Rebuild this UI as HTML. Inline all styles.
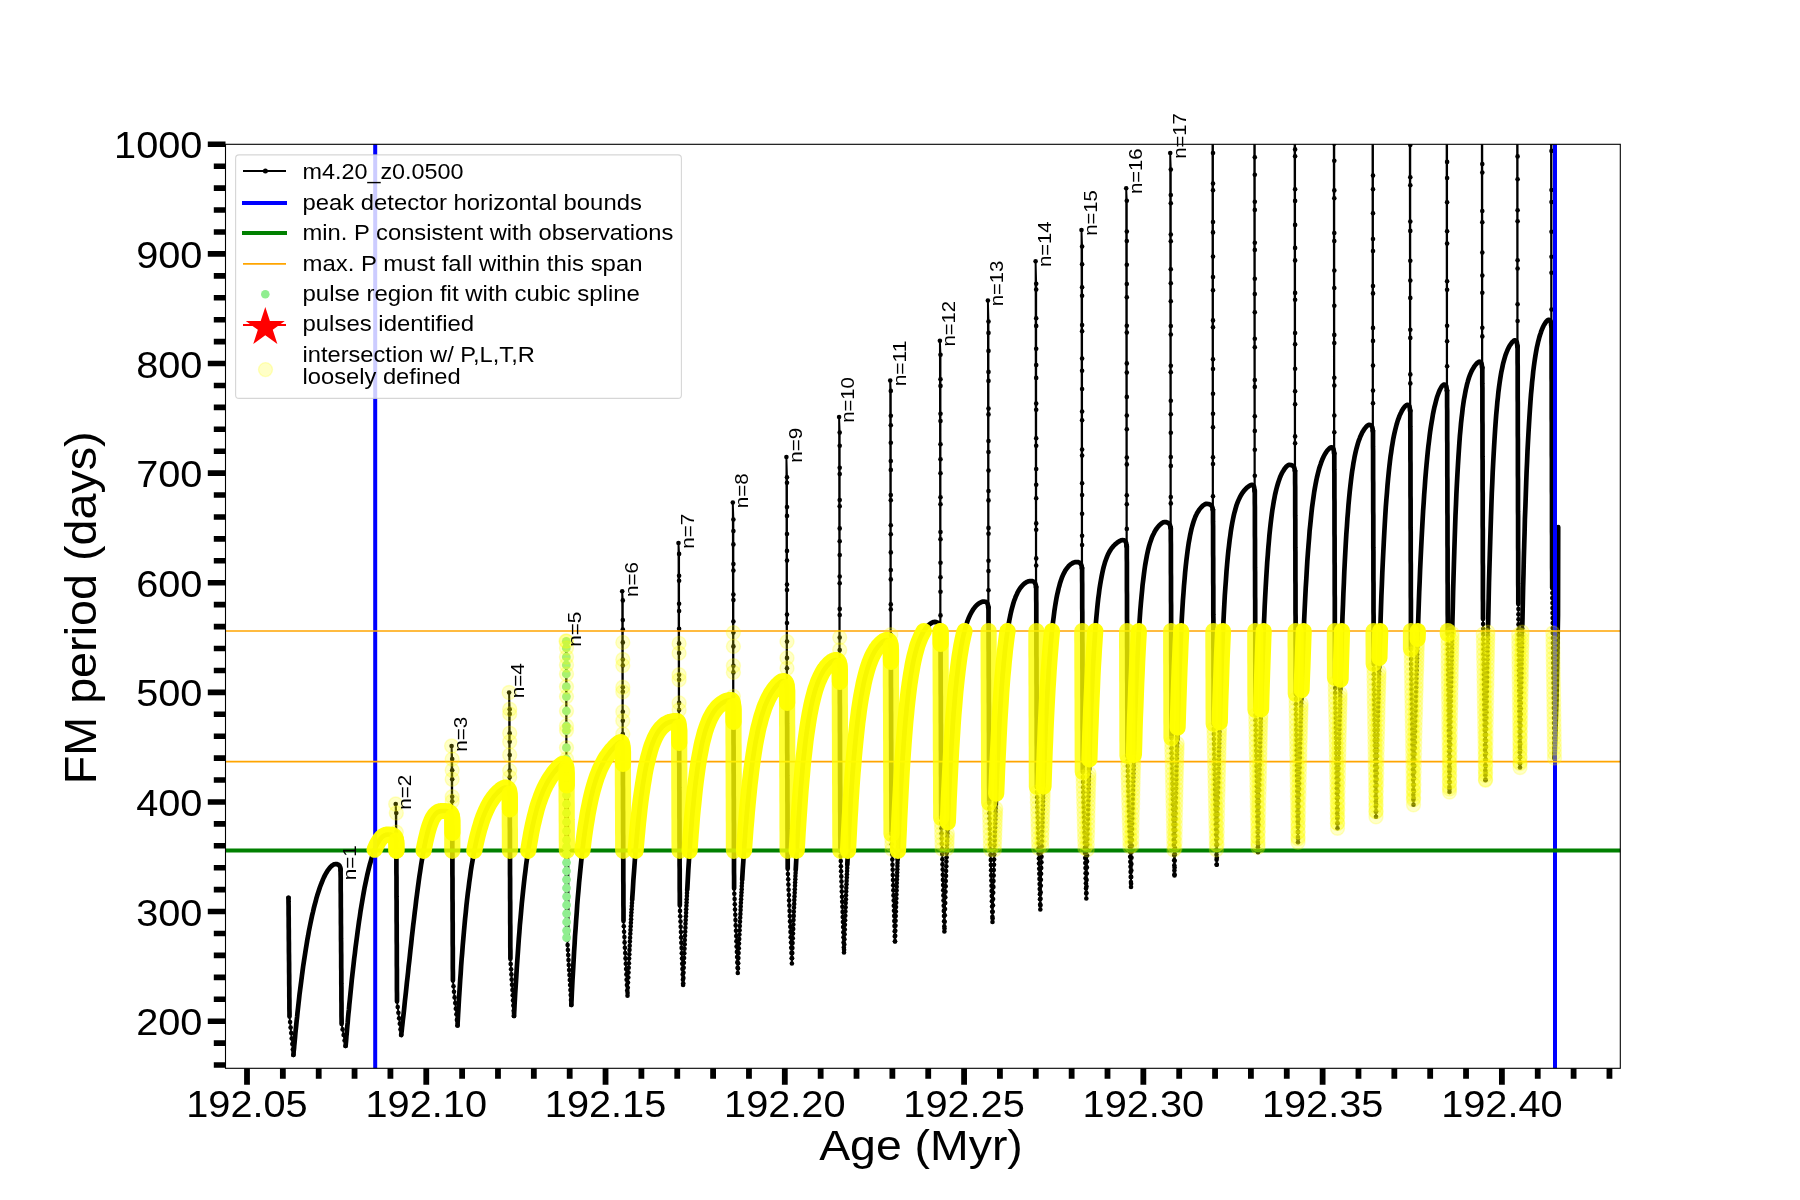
<!DOCTYPE html><html><head><meta charset="utf-8"><style>html,body{margin:0;padding:0;background:#fff;}svg{display:block;font-family:"Liberation Sans",sans-serif;will-change:transform;}</style></head><body><svg width="1800" height="1200" viewBox="0 0 1800 1200">
<rect width="1800" height="1200" fill="#fff"/>
<defs><clipPath id="ax"><rect x="225.5" y="144.3" width="1394.80" height="924.00"/></clipPath></defs>
<g clip-path="url(#ax)">
<path d="M288.5,897.8 288.5,901.9 288.6,906.0 288.6,910.1 288.6,914.2 288.7,918.3 288.7,922.4 288.7,926.5 288.8,930.6 288.8,934.7 288.8,938.8 288.9,942.9 288.9,947.0 288.9,951.1 289.0,955.2 289.0,959.2 289.1,963.3 289.1,967.4 289.1,971.5 289.2,975.6 289.2,979.7 289.2,983.8 289.3,987.9 289.3,992.0 289.3,996.1 289.4,1000.2 289.4,1004.3 289.4,1008.4 289.5,1012.5 289.5,1016.6 290.1,1022.1 290.6,1027.6 291.2,1033.1 291.7,1038.5 292.3,1044.0 292.8,1049.5 293.4,1055.0 293.5,1054.3 293.6,1052.9 293.7,1051.1 294.0,1048.8 294.2,1046.2 294.5,1043.3 294.8,1040.1 295.1,1036.7 295.4,1033.1 295.8,1029.3 296.2,1025.4 296.6,1021.3 297.1,1017.0 297.5,1012.7 298.0,1008.3 298.5,1003.8 299.0,999.2 299.5,994.6 300.1,990.0 300.7,985.4 301.3,980.7 301.9,976.0 302.5,971.4 303.1,966.8 303.8,962.2 304.5,957.6 305.2,953.1 305.9,948.7 306.6,944.3 307.3,940.0 308.1,935.8 308.8,931.6 309.6,927.6 310.4,923.6 311.2,919.7 312.0,915.9 312.9,912.3 313.7,908.7 314.6,905.2 315.5,901.9 316.3,898.7 317.2,895.6 318.2,892.6 319.1,889.8 320.0,887.0 321.0,884.4 322.0,882.0 322.9,879.6 323.9,877.4 324.9,875.4 325.9,873.5 327.0,871.7 328.0,870.1 329.1,868.7 330.1,867.4 331.2,866.3 332.3,865.4 333.4,864.7 334.5,864.2 335.6,864.0 337.1,864.2 338.4,864.7 339.4,865.5 340.0,866.7 340.5,868.2 340.6,870.0 340.6,874.0 340.7,878.1 340.7,882.1 340.7,886.2 340.7,890.2 340.8,894.3 340.8,898.4 340.8,902.4 340.8,906.5 340.9,910.5 340.9,914.5 340.9,918.6 340.9,922.6 341.0,926.7 341.0,930.8 341.0,934.8 341.0,938.9 341.1,942.9 341.1,947.0 341.1,951.0 341.2,955.0 341.2,959.1 341.2,963.1 341.2,967.2 341.3,971.2 341.3,975.3 341.3,979.4 341.3,983.4 341.4,987.5 341.4,991.5 341.4,995.5 341.4,999.6 341.5,1003.6 341.5,1007.7 341.5,1011.8 341.5,1015.8 341.6,1019.9 341.6,1023.9 342.6,1029.4 343.6,1035.0 344.6,1040.5 345.6,1046.0 345.7,1045.3 345.8,1043.8 346.0,1041.8 346.2,1039.4 346.4,1036.6 346.7,1033.5 347.0,1030.1 347.3,1026.4 347.7,1022.5 348.0,1018.3 348.4,1014.0 348.9,1009.5 349.3,1004.8 349.8,1000.0 350.3,995.1 350.8,990.1 351.3,985.0 351.8,979.8 352.4,974.5 353.0,969.2 353.6,963.9 354.2,958.5 354.9,953.2 355.5,947.8 356.2,942.5 356.9,937.2 357.6,931.9 358.3,926.7 359.0,921.6 359.8,916.5 360.5,911.5 361.3,906.6 362.1,901.8 362.9,897.1 363.7,892.5 364.5,888.1 365.4,883.8 366.3,879.6 367.1,875.6 368.0,871.8 368.9,868.1 369.8,864.5 370.8,861.2 371.7,858.0 372.7,855.1 373.6,852.3 374.6,849.7 375.6,847.3 376.6,845.1 377.6,843.2 378.7,841.4 379.7,839.8 380.8,838.5 381.8,837.3 382.9,836.4 384.0,835.6 385.1,835.1 386.2,834.7 387.4,834.5 388.5,834.5 390.8,834.7 392.7,835.2 394.1,836.0 395.2,837.2 395.8,838.7 396.0,840.5 395.7,804.0 396.3,813.0 396.3,832.1 396.3,840.5 396.3,844.5 396.3,848.5 396.4,852.6 396.4,856.6 396.4,860.6 396.4,864.6 396.4,868.7 396.4,872.7 396.5,876.7 396.5,880.8 396.5,884.8 396.5,888.8 396.5,892.8 396.5,896.9 396.6,900.9 396.6,904.9 396.6,908.9 396.6,913.0 396.6,917.0 396.6,921.0 396.7,925.0 396.7,929.0 396.7,933.1 396.7,937.1 396.7,941.1 396.8,945.1 396.8,949.2 396.8,953.2 396.8,957.2 396.8,961.2 396.8,965.3 396.9,969.3 396.9,973.3 396.9,977.4 396.9,981.4 396.9,985.4 396.9,989.4 397.0,993.5 397.0,997.5 397.0,1001.5 397.7,1007.1 398.4,1012.7 399.1,1018.2 399.8,1023.8 400.5,1029.4 401.2,1035.0 401.3,1034.5 401.4,1033.3 401.6,1031.8 401.8,1030.0 402.0,1027.8 402.3,1025.3 402.6,1022.6 402.9,1019.6 403.3,1016.4 403.7,1012.9 404.1,1009.2 404.5,1005.3 404.9,1001.1 405.4,996.7 405.9,992.2 406.4,987.4 406.9,982.5 407.5,977.4 408.1,972.1 408.6,966.6 409.3,961.0 409.9,955.3 410.5,949.5 411.2,943.5 411.8,937.5 412.5,931.4 413.2,925.2 414.0,919.0 414.7,912.8 415.5,906.5 416.2,900.3 417.0,894.2 417.8,888.1 418.6,882.1 419.4,876.3 420.3,870.5 421.1,865.0 422.0,859.6 422.9,854.5 423.8,849.5 424.7,844.9 425.6,840.5 426.6,836.4 427.5,832.6 428.5,829.1 429.4,826.0 430.4,823.2 431.4,820.7 432.4,818.5 433.5,816.7 434.5,815.2 435.6,813.9 436.6,813.0 437.7,812.2 438.8,811.7 439.9,811.3 441.0,811.1 442.1,811.0 443.3,811.0 444.4,811.0 446.7,811.2 448.6,811.7 450.0,812.5 451.1,813.7 451.7,815.2 451.9,817.0 451.6,746.0 452.2,759.1 452.2,770.2 452.2,779.3 452.2,796.7 452.2,801.2 452.2,817.0 452.2,821.1 452.2,825.2 452.3,829.3 452.3,833.4 452.3,837.5 452.3,841.5 452.3,845.6 452.3,849.7 452.4,853.8 452.4,857.9 452.4,862.0 452.4,866.1 452.4,870.2 452.4,874.3 452.5,878.4 452.5,882.4 452.5,886.5 452.5,890.6 452.5,894.7 452.5,898.8 452.6,902.9 452.6,907.0 452.6,911.1 452.6,915.2 452.6,919.2 452.7,923.3 452.7,927.4 452.7,931.5 452.7,935.6 452.7,939.7 452.7,943.8 452.8,947.9 452.8,952.0 452.8,956.1 452.8,960.2 452.8,964.2 452.8,968.3 452.9,972.4 452.9,976.5 452.9,980.6 453.5,986.2 454.0,991.8 454.6,997.4 455.2,1003.0 455.8,1008.7 456.4,1014.3 456.9,1019.9 457.5,1025.5 457.6,1024.2 457.7,1021.7 457.9,1018.2 458.1,1014.1 458.4,1009.3 458.7,1004.1 459.0,998.5 459.4,992.5 459.8,986.3 460.2,979.8 460.7,973.2 461.1,966.4 461.6,959.6 462.2,952.7 462.7,945.8 463.3,939.0 463.9,932.1 464.5,925.4 465.1,918.8 465.8,912.2 466.4,905.8 467.1,899.6 467.8,893.5 468.6,887.6 469.3,881.9 470.1,876.3 470.8,871.0 471.6,865.8 472.5,860.9 473.3,856.1 474.2,851.6 475.0,847.2 475.9,843.1 476.8,839.1 477.7,835.3 478.7,831.7 479.6,828.3 480.6,825.1 481.5,822.0 482.5,819.1 483.5,816.3 484.6,813.7 485.6,811.3 486.7,809.0 487.7,806.8 488.8,804.7 489.9,802.8 491.0,801.0 492.1,799.3 493.3,797.7 494.4,796.2 495.6,794.8 496.8,793.5 498.0,792.2 499.2,791.1 500.4,790.1 501.6,789.2 502.9,788.4 504.1,787.8 505.4,787.5 506.6,787.7 507.6,788.2 508.4,789.0 509.0,790.2 509.3,791.7 509.4,793.5 509.1,692.5 509.7,709.3 509.7,713.9 509.7,733.2 509.7,741.8 509.7,755.0 509.7,770.6 509.7,777.3 509.7,793.5 509.7,797.5 509.7,801.6 509.8,805.6 509.8,809.6 509.8,813.7 509.8,817.7 509.8,821.7 509.8,825.8 509.9,829.8 509.9,833.8 509.9,837.8 509.9,841.9 509.9,845.9 509.9,849.9 510.0,854.0 510.0,858.0 510.0,862.0 510.0,866.1 510.0,870.1 510.0,874.1 510.1,878.2 510.1,882.2 510.1,886.2 510.1,890.3 510.1,894.3 510.1,898.3 510.2,902.4 510.2,906.4 510.2,910.4 510.2,914.5 510.2,918.5 510.2,922.5 510.3,926.5 510.3,930.6 510.3,934.6 510.3,938.6 510.3,942.7 510.3,946.7 510.4,950.7 510.4,954.8 510.4,958.8 510.7,964.0 511.1,969.2 511.4,974.4 511.7,979.6 512.0,984.8 512.4,990.0 512.7,995.2 513.0,1000.4 513.3,1005.6 513.7,1010.8 514.0,1016.0 514.1,1014.7 514.2,1011.9 514.4,1008.3 514.6,1003.9 514.9,998.9 515.2,993.3 515.6,987.4 516.0,981.1 516.4,974.5 516.8,967.7 517.3,960.7 517.8,953.6 518.3,946.4 518.8,939.1 519.4,931.9 519.9,924.7 520.6,917.5 521.2,910.5 521.8,903.5 522.5,896.7 523.2,890.0 523.9,883.5 524.6,877.2 525.4,871.0 526.1,865.0 526.9,859.3 527.7,853.7 528.6,848.3 529.4,843.2 530.3,838.3 531.1,833.5 532.0,829.0 532.9,824.7 533.9,820.5 534.8,816.6 535.8,812.9 536.7,809.3 537.7,805.9 538.7,802.7 539.8,799.7 540.8,796.8 541.9,794.1 542.9,791.5 544.0,789.0 545.1,786.7 546.2,784.5 547.4,782.4 548.5,780.4 549.7,778.6 550.8,776.8 552.0,775.1 553.2,773.4 554.4,771.9 555.7,770.4 556.9,769.0 558.1,767.6 559.4,766.3 560.7,765.1 562.0,764.1 563.3,763.5 564.2,763.7 565.0,764.2 565.5,765.0 566.0,766.2 566.2,767.7 566.3,769.5 566.0,641.0 566.5,641.3 566.5,648.0 566.5,657.0 566.5,665.0 566.5,674.0 566.5,686.7 566.5,696.6 566.5,711.0 566.5,726.0 566.5,730.6 566.5,747.7 566.5,759.0 566.5,768.0 566.5,772.0 566.5,776.0 566.6,780.0 566.6,784.0 566.6,788.0 566.6,792.0 566.6,796.0 566.6,800.0 566.7,804.0 566.7,808.0 566.7,812.0 566.7,816.0 566.7,820.0 566.8,824.0 566.8,828.0 566.8,832.0 566.8,836.0 566.8,840.0 566.9,844.0 566.9,848.0 566.9,852.0 566.9,856.0 566.9,860.0 566.9,864.0 567.0,868.0 567.0,872.0 567.0,876.0 567.0,880.0 567.0,884.0 567.1,888.0 567.1,892.0 567.1,896.0 567.1,900.0 567.1,904.0 567.2,908.0 567.2,912.0 567.2,916.0 567.2,920.0 567.2,924.0 567.2,928.0 567.3,932.0 567.3,936.0 567.3,940.0 567.6,945.0 567.9,950.0 568.2,955.0 568.5,960.0 568.8,965.0 569.1,970.0 569.5,975.0 569.8,980.0 570.1,985.0 570.4,990.0 570.7,995.0 571.0,1000.0 571.3,1005.0 571.4,1003.5 571.5,1000.5 571.7,996.4 571.9,991.6 572.2,986.0 572.5,979.9 572.9,973.4 573.3,966.4 573.7,959.2 574.1,951.7 574.6,944.1 575.0,936.4 575.6,928.6 576.1,920.8 576.7,913.0 577.2,905.2 577.8,897.6 578.5,890.0 579.1,882.6 579.8,875.4 580.5,868.4 581.2,861.5 581.9,854.9 582.7,848.5 583.4,842.3 584.2,836.3 585.0,830.6 585.8,825.1 586.7,819.8 587.5,814.8 588.4,810.0 589.3,805.5 590.2,801.1 591.1,797.0 592.1,793.1 593.0,789.4 594.0,785.9 595.0,782.6 596.0,779.5 597.0,776.5 598.1,773.7 599.1,771.1 600.2,768.6 601.3,766.3 602.4,764.1 603.5,762.0 604.6,760.0 605.7,758.1 606.9,756.3 608.1,754.7 609.2,753.1 610.4,751.5 611.6,750.1 612.9,748.7 614.1,747.3 615.4,746.0 616.6,744.8 617.9,743.6 619.2,742.6 620.5,742.0 621.1,742.2 621.6,742.7 622.0,743.5 622.3,744.7 622.4,746.2 622.5,748.0 622.2,591.3 622.8,600.4 622.8,620.1 622.8,629.6 622.8,642.4 622.8,659.5 622.8,665.5 622.8,687.3 622.8,691.7 622.8,711.7 622.8,720.8 622.8,734.0 622.8,748.0 622.8,752.0 622.8,756.0 622.8,760.1 622.9,764.1 622.9,768.1 622.9,772.1 622.9,776.2 622.9,780.2 622.9,784.2 623.0,788.2 623.0,792.3 623.0,796.3 623.0,800.3 623.0,804.3 623.0,808.3 623.1,812.4 623.1,816.4 623.1,820.4 623.1,824.4 623.1,828.5 623.1,832.5 623.2,836.5 623.2,840.5 623.2,844.6 623.2,848.6 623.2,852.6 623.2,856.6 623.3,860.7 623.3,864.7 623.3,868.7 623.3,872.7 623.3,876.7 623.3,880.8 623.4,884.8 623.4,888.8 623.4,892.8 623.4,896.9 623.4,900.9 623.4,904.9 623.5,908.9 623.5,913.0 623.5,917.0 623.5,921.0 623.8,926.3 624.1,931.7 624.4,937.0 624.6,942.4 624.9,947.7 625.2,953.1 625.5,958.4 625.8,963.7 626.1,969.1 626.4,974.4 626.6,979.8 626.9,985.1 627.2,990.5 627.5,995.8 627.6,994.0 627.7,990.5 627.9,985.7 628.1,980.0 628.4,973.5 628.7,966.4 629.1,958.7 629.5,950.6 629.9,942.2 630.3,933.5 630.8,924.6 631.3,915.6 631.8,906.6 632.3,897.6 632.9,888.6 633.4,879.7 634.1,870.9 634.7,862.3 635.3,853.9 636.0,845.8 636.7,837.8 637.4,830.2 638.1,822.8 638.9,815.6 639.6,808.8 640.4,802.3 641.2,796.1 642.1,790.2 642.9,784.6 643.8,779.3 644.6,774.3 645.5,769.6 646.4,765.2 647.4,761.0 648.3,757.2 649.3,753.6 650.2,750.2 651.2,747.1 652.2,744.2 653.3,741.5 654.3,739.1 655.4,736.8 656.4,734.8 657.5,732.9 658.6,731.2 659.7,729.7 660.9,728.3 662.0,727.1 663.2,726.0 664.3,725.0 665.5,724.1 666.7,723.4 667.9,722.8 669.2,722.2 670.4,721.8 671.6,721.5 672.9,721.3 674.2,721.1 675.5,721.0 676.8,721.0 677.4,721.2 677.9,721.7 678.3,722.5 678.6,723.7 678.7,725.2 678.8,727.0 678.5,543.0 679.1,553.9 679.1,575.7 679.1,580.8 679.1,603.7 679.1,611.1 679.1,628.7 679.1,643.4 679.1,653.1 679.1,674.7 679.1,679.8 679.1,702.9 679.1,710.0 679.1,727.0 679.1,731.1 679.1,735.1 679.1,739.2 679.2,743.2 679.2,747.3 679.2,751.4 679.2,755.4 679.2,759.5 679.2,763.5 679.3,767.6 679.3,771.6 679.3,775.7 679.3,779.8 679.3,783.8 679.3,787.9 679.4,791.9 679.4,796.0 679.4,800.1 679.4,804.1 679.4,808.2 679.4,812.2 679.4,816.3 679.5,820.4 679.5,824.4 679.5,828.5 679.5,832.5 679.5,836.6 679.5,840.7 679.6,844.7 679.6,848.8 679.6,852.8 679.6,856.9 679.6,861.0 679.6,865.0 679.7,869.1 679.7,873.1 679.7,877.2 679.7,881.2 679.7,885.3 679.7,889.4 679.8,893.4 679.8,897.5 679.8,901.5 679.8,905.6 680.0,910.9 680.2,916.2 680.5,921.5 680.7,926.8 680.9,932.1 681.1,937.4 681.3,942.7 681.6,947.9 681.8,953.2 682.0,958.5 682.2,963.8 682.4,969.1 682.7,974.4 682.9,979.7 683.1,985.0 683.2,983.1 683.3,979.2 683.5,974.0 683.7,967.8 684.0,960.7 684.3,953.0 684.6,944.7 685.0,936.0 685.4,926.9 685.8,917.6 686.3,908.2 686.8,898.7 687.3,889.1 687.8,879.6 688.3,870.2 688.9,861.0 689.5,851.9 690.1,843.0 690.7,834.4 691.4,826.1 692.0,818.0 692.7,810.2 693.5,802.8 694.2,795.6 694.9,788.8 695.7,782.3 696.5,776.2 697.3,770.3 698.1,764.8 698.9,759.6 699.8,754.7 700.7,750.1 701.5,745.8 702.4,741.8 703.4,738.0 704.3,734.5 705.2,731.2 706.2,728.2 707.2,725.4 708.2,722.8 709.2,720.3 710.2,718.1 711.3,716.1 712.3,714.2 713.4,712.4 714.5,710.8 715.6,709.4 716.7,708.0 717.8,706.8 719.0,705.7 720.1,704.7 721.3,703.8 722.5,703.0 723.7,702.3 724.9,701.6 726.1,701.1 727.3,700.6 728.6,700.3 729.8,700.1 731.1,700.0 731.7,700.2 732.2,700.7 732.6,701.5 732.9,702.7 733.0,704.2 733.1,706.0 732.8,502.5 733.4,519.5 733.4,531.1 733.4,544.4 733.4,564.1 733.4,570.6 733.4,594.6 733.4,600.1 733.4,621.5 733.4,632.6 733.4,646.4 733.4,665.7 733.4,672.4 733.4,696.4 733.4,706.0 733.4,710.1 733.4,714.1 733.4,718.2 733.5,722.2 733.5,726.3 733.5,730.3 733.5,734.4 733.5,738.4 733.5,742.5 733.6,746.5 733.6,750.6 733.6,754.6 733.6,758.7 733.6,762.7 733.6,766.8 733.6,770.9 733.7,774.9 733.7,779.0 733.7,783.0 733.7,787.1 733.7,791.1 733.7,795.2 733.8,799.2 733.8,803.3 733.8,807.3 733.8,811.4 733.8,815.4 733.8,819.5 733.9,823.5 733.9,827.6 733.9,831.7 733.9,835.7 733.9,839.8 733.9,843.8 733.9,847.9 734.0,851.9 734.0,856.0 734.0,860.0 734.0,864.1 734.0,868.1 734.0,872.2 734.1,876.2 734.1,880.3 734.1,884.3 734.1,888.4 734.3,893.7 734.6,899.0 734.8,904.3 735.0,909.5 735.3,914.8 735.5,920.1 735.7,925.4 736.0,930.7 736.2,936.0 736.4,941.3 736.6,946.6 736.9,951.9 737.1,957.1 737.3,962.4 737.6,967.7 737.8,973.0 737.9,971.3 738.0,968.0 738.2,963.5 738.4,958.1 738.7,951.9 738.9,945.1 739.3,937.8 739.6,930.1 740.0,922.0 740.4,913.7 740.8,905.2 741.3,896.6 741.7,887.8 742.2,879.1 742.7,870.3 743.3,861.7 743.8,853.1 744.4,844.6 745.0,836.3 745.6,828.2 746.3,820.2 746.9,812.5 747.6,805.0 748.3,797.8 749.0,790.8 749.7,784.0 750.5,777.6 751.2,771.4 752.0,765.4 752.8,759.7 753.6,754.3 754.4,749.2 755.2,744.3 756.1,739.6 757.0,735.2 757.8,731.0 758.7,727.0 759.7,723.3 760.6,719.8 761.5,716.5 762.5,713.3 763.5,710.4 764.4,707.6 765.4,705.0 766.5,702.6 767.5,700.3 768.5,698.1 769.6,696.1 770.6,694.2 771.7,692.5 772.8,690.8 773.9,689.2 775.0,687.8 776.2,686.4 777.3,685.1 778.5,684.0 779.6,682.9 780.8,682.0 782.0,681.3 783.2,681.0 784.3,681.2 785.1,681.7 785.8,682.5 786.3,683.7 786.6,685.2 786.7,687.0 786.4,457.0 787.0,477.2 787.0,482.7 787.0,507.1 787.0,515.9 787.0,534.0 787.0,550.9 787.0,560.6 787.0,584.5 787.0,590.0 787.0,614.6 787.0,623.0 787.0,641.6 787.0,657.9 787.0,668.2 787.0,687.0 787.0,691.0 787.0,695.1 787.0,699.1 787.1,703.2 787.1,707.2 787.1,711.2 787.1,715.3 787.1,719.3 787.1,723.4 787.2,727.4 787.2,731.4 787.2,735.5 787.2,739.5 787.2,743.6 787.2,747.6 787.2,751.6 787.3,755.7 787.3,759.7 787.3,763.8 787.3,767.8 787.3,771.8 787.3,775.9 787.4,779.9 787.4,784.0 787.4,788.0 787.4,792.0 787.4,796.1 787.4,800.1 787.5,804.2 787.5,808.2 787.5,812.2 787.5,816.3 787.5,820.3 787.5,824.4 787.5,828.4 787.6,832.4 787.6,836.5 787.6,840.5 787.6,844.6 787.6,848.6 787.6,852.6 787.7,856.7 787.7,860.7 787.7,864.8 787.7,868.8 787.9,874.1 788.2,879.3 788.4,884.6 788.6,889.8 788.9,895.1 789.1,900.4 789.3,905.6 789.6,910.9 789.8,916.1 790.0,921.4 790.3,926.7 790.5,931.9 790.7,937.2 791.0,942.5 791.2,947.7 791.4,953.0 791.7,958.2 791.9,963.5 792.0,961.7 792.1,958.0 792.3,953.0 792.5,947.0 792.7,940.2 793.0,932.8 793.3,924.8 793.7,916.3 794.0,907.5 794.4,898.4 794.8,889.1 795.3,879.7 795.7,870.2 796.2,860.8 796.7,851.3 797.2,842.0 797.7,832.7 798.3,823.7 798.9,814.8 799.5,806.1 800.1,797.7 800.7,789.5 801.4,781.6 802.1,774.0 802.7,766.7 803.4,759.7 804.2,752.9 804.9,746.5 805.6,740.4 806.4,734.5 807.2,729.0 808.0,723.7 808.8,718.8 809.6,714.1 810.5,709.7 811.3,705.5 812.2,701.6 813.1,697.9 814.0,694.5 814.9,691.2 815.8,688.2 816.8,685.4 817.7,682.8 818.7,680.3 819.7,678.1 820.7,675.9 821.7,674.0 822.7,672.1 823.7,670.4 824.8,668.9 825.8,667.4 826.9,666.1 828.0,664.9 829.1,663.8 830.2,662.8 831.3,661.9 832.4,661.2 833.6,660.6 834.7,660.2 835.9,660.0 837.0,660.2 837.8,660.7 838.5,661.5 839.0,662.7 839.3,664.2 839.4,666.0 839.1,417.0 839.7,432.6 839.7,445.8 839.7,467.8 839.7,474.1 839.7,500.0 839.7,506.2 839.7,528.4 839.7,541.3 839.7,555.0 839.7,576.5 839.7,583.2 839.7,608.9 839.7,615.0 839.7,637.5 839.7,650.0 839.7,666.0 839.7,670.0 839.7,674.0 839.7,678.1 839.8,682.1 839.8,686.1 839.8,690.1 839.8,694.2 839.8,698.2 839.8,702.2 839.9,706.2 839.9,710.2 839.9,714.3 839.9,718.3 839.9,722.3 839.9,726.3 839.9,730.3 840.0,734.4 840.0,738.4 840.0,742.4 840.0,746.4 840.0,750.5 840.0,754.5 840.0,758.5 840.1,762.5 840.1,766.5 840.1,770.6 840.1,774.6 840.1,778.6 840.1,782.6 840.2,786.7 840.2,790.7 840.2,794.7 840.2,798.7 840.2,802.7 840.2,806.8 840.2,810.8 840.3,814.8 840.3,818.8 840.3,822.8 840.3,826.9 840.3,830.9 840.3,834.9 840.4,838.9 840.4,843.0 840.4,847.0 840.4,851.0 840.6,856.1 840.8,861.1 840.9,866.2 841.1,871.3 841.3,876.4 841.5,881.5 841.7,886.5 841.8,891.6 842.0,896.7 842.2,901.8 842.4,906.8 842.6,911.9 842.7,917.0 842.9,922.0 843.1,927.1 843.3,932.2 843.5,937.3 843.6,942.4 843.8,947.4 844.0,952.5 844.1,950.6 844.2,946.8 844.4,941.7 844.6,935.5 844.8,928.6 845.1,920.9 845.4,912.6 845.7,903.9 846.1,894.8 846.4,885.5 846.8,875.9 847.3,866.2 847.7,856.5 848.2,846.7 848.7,837.0 849.2,827.4 849.7,817.9 850.3,808.5 850.8,799.4 851.4,790.5 852.0,781.8 852.6,773.4 853.3,765.2 853.9,757.4 854.6,749.8 855.3,742.6 856.0,735.7 856.7,729.1 857.4,722.7 858.2,716.7 858.9,711.0 859.7,705.6 860.5,700.5 861.3,695.7 862.2,691.1 863.0,686.9 863.8,682.8 864.7,679.0 865.6,675.5 866.5,672.2 867.4,669.1 868.3,666.2 869.2,663.5 870.2,660.9 871.1,658.6 872.1,656.4 873.1,654.4 874.1,652.5 875.1,650.8 876.1,649.1 877.2,647.7 878.2,646.3 879.3,645.1 880.3,643.9 881.4,642.9 882.5,642.0 883.6,641.2 884.7,640.6 885.9,640.2 887.0,640.0 888.1,640.2 888.9,640.7 889.6,641.5 890.1,642.7 890.4,644.2 890.5,646.0 890.2,380.5 890.8,390.9 890.8,415.8 890.8,425.2 890.8,442.8 890.8,461.1 890.8,469.9 890.8,495.1 890.8,500.2 890.8,525.3 890.8,534.3 890.8,552.4 890.8,570.1 890.8,579.4 890.8,604.4 890.8,609.4 890.8,634.8 890.8,646.0 890.8,650.0 890.8,654.0 890.8,658.0 890.9,662.0 890.9,666.0 890.9,670.0 890.9,674.0 890.9,678.0 890.9,682.0 890.9,686.0 891.0,690.0 891.0,694.0 891.0,698.0 891.0,702.0 891.0,706.0 891.0,710.0 891.1,714.0 891.1,718.0 891.1,722.0 891.1,726.0 891.1,730.0 891.1,734.0 891.1,738.0 891.2,742.0 891.2,746.0 891.2,750.0 891.2,754.0 891.2,758.0 891.2,762.0 891.2,766.0 891.3,770.0 891.3,774.0 891.3,778.0 891.3,782.0 891.3,786.0 891.3,790.0 891.4,794.0 891.4,798.0 891.4,802.0 891.4,806.0 891.4,810.0 891.4,814.0 891.4,818.0 891.5,822.0 891.5,826.0 891.5,830.0 891.5,834.0 891.7,839.1 891.8,844.2 892.0,849.4 892.2,854.5 892.3,859.6 892.5,864.7 892.7,869.8 892.8,875.0 893.0,880.1 893.2,885.2 893.3,890.3 893.5,895.4 893.7,900.5 893.8,905.7 894.0,910.8 894.2,915.9 894.3,921.0 894.5,926.1 894.7,931.3 894.8,936.4 895.0,941.5 895.1,939.5 895.2,935.4 895.3,929.9 895.5,923.4 895.7,915.9 896.0,907.7 896.3,898.9 896.6,889.7 896.9,880.0 897.3,870.1 897.6,860.0 898.0,849.8 898.4,839.5 898.9,829.2 899.3,819.0 899.8,808.9 900.3,799.0 900.8,789.3 901.3,779.8 901.8,770.5 902.4,761.6 903.0,752.9 903.6,744.5 904.2,736.5 904.8,728.8 905.4,721.4 906.1,714.4 906.7,707.7 907.4,701.3 908.1,695.3 908.8,689.6 909.5,684.2 910.3,679.1 911.0,674.4 911.8,669.9 912.5,665.7 913.3,661.7 914.1,658.0 914.9,654.6 915.8,651.4 916.6,648.4 917.4,645.6 918.3,643.1 919.2,640.7 920.1,638.5 921.0,636.4 921.9,634.6 922.8,632.8 923.7,631.2 924.7,629.8 925.6,628.4 926.6,627.2 927.6,626.1 928.5,625.1 929.5,624.3 930.6,623.5 931.6,622.9 932.6,622.4 933.6,622.0 934.7,621.9 936.4,622.1 937.8,622.6 938.8,623.4 939.6,624.6 940.0,626.1 940.2,627.9 939.9,340.8 940.5,354.8 940.5,379.3 940.5,385.9 940.5,413.7 940.5,421.1 940.5,444.2 940.5,459.3 940.5,473.2 940.5,497.3 940.5,504.2 940.5,532.0 940.5,539.2 940.5,562.7 940.5,577.3 940.5,591.7 940.5,615.4 940.5,627.9 940.5,631.9 940.5,636.0 940.5,640.0 940.6,644.1 940.6,648.1 940.6,652.2 940.6,656.2 940.6,660.3 940.6,664.3 940.6,668.3 940.7,672.4 940.7,676.4 940.7,680.5 940.7,684.5 940.7,688.6 940.7,692.6 940.8,696.7 940.8,700.7 940.8,704.7 940.8,708.8 940.8,712.8 940.8,716.9 940.8,720.9 940.9,725.0 940.9,729.0 940.9,733.1 940.9,737.1 940.9,741.2 940.9,745.2 940.9,749.2 941.0,753.3 941.0,757.3 941.0,761.4 941.0,765.4 941.0,769.5 941.0,773.5 941.1,777.6 941.1,781.6 941.1,785.6 941.1,789.7 941.1,793.7 941.1,797.8 941.1,801.8 941.2,805.9 941.2,809.9 941.2,814.0 941.2,818.0 941.3,823.2 941.5,828.3 941.6,833.5 941.8,838.6 941.9,843.8 942.1,849.0 942.2,854.1 942.4,859.3 942.5,864.4 942.7,869.6 942.8,874.8 942.9,879.9 943.1,885.1 943.2,890.2 943.4,895.4 943.5,900.5 943.7,905.7 943.8,910.9 944.0,916.0 944.1,921.2 944.3,926.3 944.4,931.5 944.5,929.3 944.6,924.9 944.7,919.0 944.9,912.0 945.1,903.9 945.4,895.1 945.7,885.7 946.0,875.8 946.3,865.5 946.7,854.9 947.0,844.1 947.4,833.2 947.8,822.3 948.3,811.4 948.7,800.7 949.2,790.0 949.7,779.6 950.2,769.4 950.7,759.4 951.2,749.8 951.8,740.4 952.4,731.4 952.9,722.8 953.5,714.5 954.2,706.5 954.8,699.0 955.4,691.8 956.1,685.0 956.8,678.5 957.5,672.4 958.2,666.6 958.9,661.2 959.6,656.1 960.4,651.4 961.1,646.9 961.9,642.8 962.7,638.9 963.5,635.3 964.3,631.9 965.1,628.8 965.9,625.9 966.8,623.3 967.6,620.8 968.5,618.5 969.4,616.4 970.3,614.5 971.2,612.8 972.1,611.2 973.0,609.7 974.0,608.3 974.9,607.1 975.9,606.0 976.9,605.1 977.9,604.2 978.9,603.4 979.9,602.8 980.9,602.3 981.9,601.8 982.9,601.6 984.0,601.5 985.3,601.7 986.3,602.2 987.2,603.0 987.7,604.2 988.1,605.7 988.2,607.5 987.9,300.5 988.5,321.5 988.5,332.9 988.5,350.9 988.5,371.9 988.5,380.9 988.5,408.6 988.5,414.4 988.5,441.1 988.5,452.0 988.5,470.6 988.5,491.0 988.5,500.4 988.5,527.9 988.5,533.7 988.5,560.7 988.5,571.1 988.5,590.3 988.5,607.5 988.5,611.6 988.5,615.6 988.5,619.7 988.6,623.8 988.6,627.9 988.6,631.9 988.6,636.0 988.6,640.1 988.6,644.2 988.6,648.2 988.7,652.3 988.7,656.4 988.7,660.4 988.7,664.5 988.7,668.6 988.7,672.7 988.7,676.7 988.8,680.8 988.8,684.9 988.8,689.0 988.8,693.0 988.8,697.1 988.8,701.2 988.9,705.2 988.9,709.3 988.9,713.4 988.9,717.5 988.9,721.5 988.9,725.6 988.9,729.7 989.0,733.8 989.0,737.8 989.0,741.9 989.0,746.0 989.0,750.1 989.0,754.1 989.0,758.2 989.1,762.3 989.1,766.3 989.1,770.4 989.1,774.5 989.1,778.6 989.1,782.6 989.1,786.7 989.2,790.8 989.2,794.9 989.2,798.9 989.2,803.0 989.3,808.2 989.5,813.3 989.6,818.5 989.8,823.7 989.9,828.9 990.1,834.0 990.2,839.2 990.3,844.4 990.5,849.6 990.6,854.7 990.8,859.9 990.9,865.1 991.1,870.3 991.2,875.4 991.4,880.6 991.5,885.8 991.6,891.0 991.8,896.1 991.9,901.3 992.1,906.5 992.2,911.7 992.4,916.8 992.5,922.0 992.6,919.6 992.7,914.9 992.8,908.6 993.0,901.0 993.2,892.4 993.5,882.9 993.7,872.8 994.0,862.2 994.3,851.2 994.7,839.9 995.0,828.4 995.4,816.8 995.8,805.3 996.2,793.7 996.7,782.4 997.1,771.2 997.6,760.2 998.1,749.5 998.6,739.1 999.1,729.0 999.6,719.3 1000.2,709.9 1000.8,701.0 1001.3,692.4 1001.9,684.3 1002.5,676.5 1003.2,669.2 1003.8,662.2 1004.5,655.7 1005.1,649.5 1005.8,643.7 1006.5,638.3 1007.2,633.2 1007.9,628.5 1008.7,624.0 1009.4,619.9 1010.2,616.1 1010.9,612.6 1011.7,609.3 1012.5,606.3 1013.3,603.5 1014.1,600.9 1015.0,598.6 1015.8,596.4 1016.7,594.5 1017.5,592.7 1018.4,591.0 1019.3,589.5 1020.2,588.2 1021.1,587.0 1022.0,585.9 1023.0,584.9 1023.9,584.0 1024.9,583.2 1025.8,582.6 1026.8,582.0 1027.8,581.6 1028.8,581.3 1029.8,581.1 1030.8,581.0 1032.4,581.2 1033.6,581.7 1034.6,582.5 1035.3,583.7 1035.8,585.2 1035.9,587.0 1035.6,261.3 1036.2,283.7 1036.2,289.6 1036.2,318.2 1036.2,325.9 1036.2,348.7 1036.2,365.1 1036.2,377.9 1036.2,403.6 1036.2,409.7 1036.2,438.3 1036.2,445.7 1036.2,469.0 1036.2,484.8 1036.2,498.2 1036.2,523.4 1036.2,529.7 1036.2,558.4 1036.2,565.5 1036.2,587.0 1036.2,591.0 1036.2,595.0 1036.2,599.0 1036.3,603.0 1036.3,607.0 1036.3,611.0 1036.3,615.0 1036.3,619.0 1036.3,623.0 1036.3,627.0 1036.4,631.0 1036.4,635.0 1036.4,639.0 1036.4,643.0 1036.4,647.0 1036.4,651.0 1036.4,655.0 1036.5,659.0 1036.5,663.0 1036.5,667.0 1036.5,671.0 1036.5,675.0 1036.5,679.0 1036.5,683.0 1036.6,687.0 1036.6,691.0 1036.6,695.0 1036.6,699.0 1036.6,703.0 1036.6,707.0 1036.6,711.0 1036.6,715.0 1036.7,719.0 1036.7,723.0 1036.7,727.0 1036.7,731.0 1036.7,735.0 1036.7,739.0 1036.7,743.0 1036.8,747.0 1036.8,751.0 1036.8,755.0 1036.8,759.0 1036.8,763.0 1036.8,767.0 1036.8,771.0 1036.9,775.0 1036.9,779.0 1036.9,783.0 1036.9,787.0 1037.0,792.1 1037.2,797.2 1037.3,802.3 1037.5,807.4 1037.6,812.5 1037.8,817.6 1037.9,822.7 1038.0,827.8 1038.2,832.9 1038.3,838.0 1038.5,843.1 1038.6,848.2 1038.7,853.4 1038.9,858.5 1039.0,863.6 1039.2,868.7 1039.3,873.8 1039.5,878.9 1039.6,884.0 1039.7,889.1 1039.9,894.2 1040.0,899.3 1040.2,904.4 1040.3,909.5 1040.4,907.0 1040.5,902.0 1040.6,895.3 1040.8,887.2 1041.0,878.1 1041.2,868.1 1041.5,857.5 1041.8,846.3 1042.1,834.7 1042.4,822.9 1042.7,810.9 1043.1,798.8 1043.5,786.7 1043.9,774.7 1044.3,762.9 1044.7,751.3 1045.2,740.0 1045.6,728.9 1046.1,718.2 1046.6,707.9 1047.1,698.0 1047.6,688.5 1048.2,679.4 1048.7,670.7 1049.3,662.5 1049.9,654.7 1050.5,647.3 1051.1,640.4 1051.7,633.9 1052.3,627.7 1053.0,622.0 1053.7,616.7 1054.3,611.7 1055.0,607.0 1055.7,602.7 1056.4,598.7 1057.1,595.0 1057.9,591.6 1058.6,588.5 1059.4,585.6 1060.1,582.9 1060.9,580.5 1061.7,578.2 1062.5,576.2 1063.3,574.4 1064.2,572.7 1065.0,571.1 1065.8,569.8 1066.7,568.5 1067.6,567.4 1068.4,566.4 1069.3,565.5 1070.2,564.7 1071.1,564.0 1072.1,563.4 1073.0,562.9 1073.9,562.5 1074.9,562.2 1075.8,562.1 1076.8,562.0 1078.3,562.2 1079.6,562.7 1080.5,563.5 1081.2,564.7 1081.7,566.2 1081.8,568.0 1081.5,230.0 1082.1,246.5 1082.1,264.2 1082.1,287.2 1082.1,295.7 1082.1,325.1 1082.1,331.2 1082.1,358.5 1082.1,370.7 1082.1,389.0 1082.1,411.5 1082.1,420.3 1082.1,449.6 1082.1,455.6 1082.1,483.2 1082.1,495.0 1082.1,513.8 1082.1,535.7 1082.1,545.0 1082.1,568.0 1082.1,572.0 1082.1,576.0 1082.1,580.0 1082.2,584.0 1082.2,588.0 1082.2,592.0 1082.2,596.0 1082.2,600.0 1082.2,604.0 1082.2,608.0 1082.3,612.0 1082.3,616.0 1082.3,620.0 1082.3,624.0 1082.3,628.0 1082.3,632.0 1082.3,636.0 1082.3,640.0 1082.4,644.0 1082.4,648.0 1082.4,652.0 1082.4,656.0 1082.4,660.0 1082.4,664.0 1082.4,668.0 1082.5,672.0 1082.5,676.0 1082.5,680.0 1082.5,684.0 1082.5,688.0 1082.5,692.0 1082.5,696.0 1082.6,700.0 1082.6,704.0 1082.6,708.0 1082.6,712.0 1082.6,716.0 1082.6,720.0 1082.6,724.0 1082.6,728.0 1082.7,732.0 1082.7,736.0 1082.7,740.0 1082.7,744.0 1082.7,748.0 1082.7,752.0 1082.7,756.0 1082.8,760.0 1082.8,764.0 1082.8,768.0 1082.8,772.0 1082.9,777.1 1083.1,782.1 1083.2,787.2 1083.4,792.2 1083.5,797.3 1083.6,802.4 1083.8,807.4 1083.9,812.5 1084.1,817.5 1084.2,822.6 1084.3,827.7 1084.5,832.7 1084.6,837.8 1084.8,842.8 1084.9,847.9 1085.0,853.0 1085.2,858.0 1085.3,863.1 1085.5,868.1 1085.6,873.2 1085.7,878.3 1085.9,883.3 1086.0,888.4 1086.2,893.4 1086.3,898.5 1086.4,895.6 1086.5,889.7 1086.6,881.8 1086.8,872.5 1087.0,861.9 1087.2,850.5 1087.5,838.3 1087.7,825.6 1088.0,812.5 1088.4,799.2 1088.7,785.9 1089.1,772.6 1089.4,759.4 1089.8,746.4 1090.2,733.7 1090.7,721.4 1091.1,709.5 1091.6,698.0 1092.1,687.0 1092.5,676.5 1093.0,666.4 1093.6,656.9 1094.1,648.0 1094.7,639.5 1095.2,631.5 1095.8,624.1 1096.4,617.1 1097.0,610.6 1097.6,604.5 1098.2,598.9 1098.9,593.7 1099.5,588.8 1100.2,584.4 1100.9,580.3 1101.6,576.5 1102.3,573.0 1103.0,569.8 1103.7,566.9 1104.5,564.2 1105.2,561.7 1106.0,559.5 1106.8,557.4 1107.5,555.6 1108.3,553.8 1109.1,552.3 1110.0,550.8 1110.8,549.5 1111.6,548.3 1112.5,547.2 1113.3,546.2 1114.2,545.3 1115.1,544.4 1116.0,543.7 1116.9,542.9 1117.8,542.2 1118.7,541.6 1119.6,541.1 1120.6,540.6 1121.5,540.2 1122.5,540.0 1123.7,540.2 1124.7,540.7 1125.5,541.5 1126.1,542.7 1126.4,544.2 1126.5,546.0 1126.2,188.3 1126.8,200.8 1126.8,231.5 1126.8,241.1 1126.8,264.8 1126.8,284.0 1126.8,297.2 1126.8,325.8 1126.8,332.6 1126.8,363.4 1126.8,372.6 1126.8,396.9 1126.8,415.5 1126.8,429.2 1126.8,457.5 1126.8,464.4 1126.8,495.3 1126.8,504.2 1126.8,528.9 1126.8,546.0 1126.8,550.0 1126.8,554.1 1126.8,558.1 1126.9,562.2 1126.9,566.2 1126.9,570.2 1126.9,574.3 1126.9,578.3 1126.9,582.3 1126.9,586.4 1126.9,590.4 1127.0,594.5 1127.0,598.5 1127.0,602.5 1127.0,606.6 1127.0,610.6 1127.0,614.7 1127.0,618.7 1127.1,622.7 1127.1,626.8 1127.1,630.8 1127.1,634.8 1127.1,638.9 1127.1,642.9 1127.1,647.0 1127.2,651.0 1127.2,655.0 1127.2,659.1 1127.2,663.1 1127.2,667.2 1127.2,671.2 1127.2,675.2 1127.2,679.3 1127.3,683.3 1127.3,687.3 1127.3,691.4 1127.3,695.4 1127.3,699.5 1127.3,703.5 1127.3,707.5 1127.4,711.6 1127.4,715.6 1127.4,719.7 1127.4,723.7 1127.4,727.7 1127.4,731.8 1127.4,735.8 1127.4,739.8 1127.5,743.9 1127.5,747.9 1127.5,752.0 1127.5,756.0 1127.6,761.0 1127.8,766.1 1127.9,771.1 1128.0,776.2 1128.2,781.2 1128.3,786.2 1128.4,791.3 1128.6,796.3 1128.7,801.3 1128.8,806.4 1129.0,811.4 1129.1,816.5 1129.2,821.5 1129.4,826.5 1129.5,831.6 1129.7,836.6 1129.8,841.7 1129.9,846.7 1130.1,851.7 1130.2,856.8 1130.3,861.8 1130.5,866.8 1130.6,871.9 1130.7,876.9 1130.9,882.0 1131.0,887.0 1131.0,884.3 1131.1,878.8 1131.3,871.5 1131.4,862.7 1131.6,852.8 1131.8,842.0 1132.1,830.5 1132.3,818.5 1132.6,806.0 1132.9,793.3 1133.2,780.5 1133.6,767.6 1133.9,754.8 1134.3,742.1 1134.6,729.6 1135.0,717.4 1135.5,705.6 1135.9,694.1 1136.3,682.9 1136.8,672.3 1137.2,662.0 1137.7,652.2 1138.2,642.9 1138.7,634.0 1139.3,625.7 1139.8,617.7 1140.3,610.3 1140.9,603.3 1141.5,596.7 1142.1,590.5 1142.6,584.8 1143.3,579.4 1143.9,574.4 1144.5,569.8 1145.1,565.5 1145.8,561.5 1146.5,557.8 1147.1,554.4 1147.8,551.3 1148.5,548.4 1149.2,545.7 1149.9,543.3 1150.7,541.0 1151.4,538.9 1152.1,537.0 1152.9,535.3 1153.7,533.7 1154.4,532.2 1155.2,530.8 1156.0,529.5 1156.8,528.4 1157.6,527.3 1158.5,526.3 1159.3,525.4 1160.1,524.6 1161.0,523.9 1161.9,523.2 1162.7,522.6 1163.6,522.2 1164.5,522.0 1166.3,522.2 1167.8,522.7 1169.0,523.5 1169.8,524.7 1170.3,526.2 1170.5,528.0 1170.2,153.0 1170.8,169.6 1170.8,195.0 1170.8,203.2 1170.8,234.5 1170.8,241.2 1170.8,269.2 1170.8,283.2 1170.8,301.2 1170.8,326.0 1170.8,334.5 1170.8,365.7 1170.8,372.3 1170.8,400.7 1170.8,414.2 1170.8,432.8 1170.8,457.0 1170.8,465.9 1170.8,497.0 1170.8,503.4 1170.8,528.0 1170.8,532.0 1170.8,536.1 1170.8,540.1 1170.9,544.2 1170.9,548.2 1170.9,552.2 1170.9,556.3 1170.9,560.3 1170.9,564.3 1170.9,568.4 1170.9,572.4 1171.0,576.5 1171.0,580.5 1171.0,584.5 1171.0,588.6 1171.0,592.6 1171.0,596.7 1171.0,600.7 1171.1,604.7 1171.1,608.8 1171.1,612.8 1171.1,616.8 1171.1,620.9 1171.1,624.9 1171.1,629.0 1171.2,633.0 1171.2,637.0 1171.2,641.1 1171.2,645.1 1171.2,649.2 1171.2,653.2 1171.2,657.2 1171.2,661.3 1171.3,665.3 1171.3,669.3 1171.3,673.4 1171.3,677.4 1171.3,681.5 1171.3,685.5 1171.3,689.5 1171.4,693.6 1171.4,697.6 1171.4,701.7 1171.4,705.7 1171.4,709.7 1171.4,713.8 1171.4,717.8 1171.4,721.8 1171.5,725.9 1171.5,729.9 1171.5,734.0 1171.5,738.0 1171.6,743.1 1171.7,748.2 1171.8,753.3 1171.9,758.4 1172.1,763.5 1172.2,768.6 1172.3,773.6 1172.4,778.7 1172.5,783.8 1172.6,788.9 1172.7,794.0 1172.8,799.1 1172.9,804.2 1173.1,809.3 1173.2,814.4 1173.3,819.5 1173.4,824.6 1173.5,829.7 1173.6,834.8 1173.7,839.9 1173.8,844.9 1173.9,850.0 1174.1,855.1 1174.2,860.2 1174.3,865.3 1174.4,870.4 1174.5,875.5 1174.5,872.7 1174.6,867.1 1174.8,859.7 1174.9,850.8 1175.1,840.7 1175.3,829.7 1175.5,817.9 1175.8,805.7 1176.0,793.0 1176.3,780.0 1176.6,766.9 1177.0,753.8 1177.3,740.7 1177.6,727.7 1178.0,715.0 1178.4,702.5 1178.8,690.4 1179.2,678.6 1179.6,667.3 1180.1,656.3 1180.5,645.8 1181.0,635.8 1181.4,626.3 1181.9,617.2 1182.4,608.6 1182.9,600.5 1183.5,592.9 1184.0,585.7 1184.6,579.0 1185.1,572.7 1185.7,566.8 1186.3,561.3 1186.9,556.2 1187.5,551.5 1188.1,547.1 1188.7,543.0 1189.4,539.3 1190.0,535.8 1190.7,532.6 1191.3,529.7 1192.0,527.0 1192.7,524.5 1193.4,522.2 1194.1,520.1 1194.8,518.2 1195.5,516.4 1196.3,514.8 1197.0,513.3 1197.8,512.0 1198.6,510.7 1199.3,509.6 1200.1,508.6 1200.9,507.6 1201.7,506.8 1202.5,506.0 1203.3,505.3 1204.2,504.8 1205.0,504.3 1205.8,503.9 1206.7,503.8 1208.5,504.0 1210.0,504.5 1211.2,505.3 1212.0,506.5 1212.5,508.0 1212.7,509.8 1212.4,60.0 1213.0,85.0 1213.0,95.8 1213.0,119.2 1213.0,140.6 1213.0,153.0 1213.0,183.6 1213.0,190.3 1213.0,222.1 1213.0,232.4 1213.0,256.5 1213.0,277.1 1213.0,290.2 1213.0,320.4 1213.0,327.2 1213.0,359.2 1213.0,369.0 1213.0,393.7 1213.0,413.7 1213.0,427.3 1213.0,457.2 1213.0,464.0 1213.0,496.2 1213.0,509.8 1213.0,513.8 1213.0,517.9 1213.0,521.9 1213.1,526.0 1213.1,530.0 1213.1,534.0 1213.1,538.1 1213.1,542.1 1213.1,546.2 1213.1,550.2 1213.1,554.3 1213.2,558.3 1213.2,562.3 1213.2,566.4 1213.2,570.4 1213.2,574.5 1213.2,578.5 1213.2,582.5 1213.3,586.6 1213.3,590.6 1213.3,594.7 1213.3,598.7 1213.3,602.8 1213.3,606.8 1213.3,610.8 1213.3,614.9 1213.4,618.9 1213.4,623.0 1213.4,627.0 1213.4,631.0 1213.4,635.1 1213.4,639.1 1213.4,643.2 1213.4,647.2 1213.5,651.3 1213.5,655.3 1213.5,659.3 1213.5,663.4 1213.5,667.4 1213.5,671.5 1213.5,675.5 1213.6,679.5 1213.6,683.6 1213.6,687.6 1213.6,691.7 1213.6,695.7 1213.6,699.8 1213.6,703.8 1213.6,707.8 1213.7,711.9 1213.7,715.9 1213.7,720.0 1213.7,724.0 1213.8,729.0 1213.9,734.1 1214.0,739.1 1214.1,744.1 1214.2,749.1 1214.3,754.2 1214.5,759.2 1214.6,764.2 1214.7,769.3 1214.8,774.3 1214.9,779.3 1215.0,784.3 1215.1,789.4 1215.2,794.4 1215.3,799.4 1215.4,804.5 1215.5,809.5 1215.6,814.5 1215.7,819.5 1215.8,824.6 1216.0,829.6 1216.1,834.6 1216.2,839.7 1216.3,844.7 1216.4,849.7 1216.5,854.7 1216.6,859.8 1216.7,864.8 1216.8,861.8 1216.9,855.9 1217.0,847.9 1217.2,838.4 1217.4,827.6 1217.6,815.9 1217.8,803.5 1218.1,790.5 1218.4,777.0 1218.7,763.4 1219.0,749.6 1219.4,735.9 1219.8,722.2 1220.1,708.7 1220.5,695.5 1221.0,682.6 1221.4,670.1 1221.8,658.0 1222.3,646.4 1222.8,635.2 1223.3,624.6 1223.8,614.4 1224.3,604.8 1224.8,595.7 1225.4,587.1 1226.0,579.0 1226.5,571.5 1227.1,564.4 1227.7,557.7 1228.3,551.5 1229.0,545.8 1229.6,540.4 1230.3,535.5 1230.9,530.9 1231.6,526.6 1232.3,522.7 1233.0,519.1 1233.7,515.8 1234.4,512.8 1235.2,510.0 1235.9,507.4 1236.6,505.0 1237.4,502.9 1238.2,500.9 1239.0,499.1 1239.8,497.4 1240.6,495.9 1241.4,494.5 1242.2,493.2 1243.1,492.0 1243.9,490.9 1244.8,489.9 1245.6,489.0 1246.5,488.1 1247.4,487.3 1248.3,486.6 1249.2,486.0 1250.1,485.4 1251.1,485.0 1252.0,484.8 1252.8,485.0 1253.4,485.5 1253.9,486.3 1254.2,487.5 1254.4,489.0 1254.5,490.8 1254.2,40.0 1254.8,64.8 1254.8,72.6 1254.8,105.5 1254.8,112.9 1254.8,141.3 1254.8,157.2 1254.8,174.7 1254.8,201.8 1254.8,209.9 1254.8,242.8 1254.8,249.9 1254.8,278.8 1254.8,294.1 1254.8,312.2 1254.8,338.8 1254.8,347.2 1254.8,380.0 1254.8,386.9 1254.8,416.3 1254.8,430.9 1254.8,449.7 1254.8,475.7 1254.8,490.8 1254.8,494.9 1254.8,498.9 1254.8,503.0 1254.9,507.0 1254.9,511.1 1254.9,515.2 1254.9,519.2 1254.9,523.3 1254.9,527.3 1254.9,531.4 1254.9,535.5 1255.0,539.5 1255.0,543.6 1255.0,547.6 1255.0,551.7 1255.0,555.7 1255.0,559.8 1255.0,563.9 1255.0,567.9 1255.1,572.0 1255.1,576.0 1255.1,580.1 1255.1,584.2 1255.1,588.2 1255.1,592.3 1255.1,596.3 1255.2,600.4 1255.2,604.5 1255.2,608.5 1255.2,612.6 1255.2,616.6 1255.2,620.7 1255.2,624.8 1255.2,628.8 1255.3,632.9 1255.3,636.9 1255.3,641.0 1255.3,645.1 1255.3,649.1 1255.3,653.2 1255.3,657.2 1255.3,661.3 1255.4,665.3 1255.4,669.4 1255.4,673.5 1255.4,677.5 1255.4,681.6 1255.4,685.6 1255.4,689.7 1255.4,693.8 1255.5,697.8 1255.5,701.9 1255.5,705.9 1255.5,710.0 1255.6,715.1 1255.7,720.2 1255.8,725.2 1255.9,730.3 1255.9,735.4 1256.0,740.5 1256.1,745.6 1256.2,750.7 1256.3,755.7 1256.4,760.8 1256.5,765.9 1256.6,771.0 1256.7,776.1 1256.8,781.1 1256.8,786.2 1256.9,791.3 1257.0,796.4 1257.1,801.5 1257.2,806.6 1257.3,811.6 1257.4,816.7 1257.5,821.8 1257.6,826.9 1257.6,832.0 1257.7,837.1 1257.8,842.1 1257.9,847.2 1258.0,852.3 1258.0,849.7 1258.1,844.4 1258.3,837.4 1258.4,828.9 1258.6,819.3 1258.8,808.8 1259.0,797.6 1259.2,785.7 1259.5,773.5 1259.8,760.9 1260.1,748.1 1260.4,735.3 1260.7,722.4 1261.1,709.5 1261.4,696.9 1261.8,684.4 1262.2,672.1 1262.6,660.2 1263.0,648.6 1263.4,637.3 1263.8,626.5 1264.3,616.0 1264.7,606.0 1265.2,596.4 1265.7,587.2 1266.2,578.5 1266.7,570.3 1267.2,562.4 1267.8,555.0 1268.3,548.0 1268.9,541.4 1269.4,535.2 1270.0,529.4 1270.6,524.0 1271.2,518.9 1271.8,514.2 1272.4,509.8 1273.1,505.6 1273.7,501.8 1274.4,498.2 1275.0,494.9 1275.7,491.9 1276.4,489.0 1277.1,486.4 1277.8,484.0 1278.5,481.7 1279.2,479.7 1279.9,477.7 1280.6,476.0 1281.4,474.3 1282.1,472.8 1282.9,471.4 1283.7,470.2 1284.4,469.0 1285.2,468.0 1286.0,467.0 1286.8,466.2 1287.6,465.5 1288.5,465.0 1289.3,464.8 1291.0,465.0 1292.4,465.5 1293.4,466.3 1294.2,467.5 1294.6,469.0 1294.8,470.8 1294.5,40.0 1295.1,57.6 1295.1,80.9 1295.1,104.6 1295.1,116.6 1295.1,149.4 1295.1,156.2 1295.1,189.2 1295.1,200.9 1295.1,224.9 1295.1,247.9 1295.1,260.4 1295.1,292.9 1295.1,299.8 1295.1,333.0 1295.1,344.2 1295.1,368.8 1295.1,391.2 1295.1,404.2 1295.1,436.4 1295.1,443.3 1295.1,470.8 1295.1,474.9 1295.1,478.9 1295.1,483.0 1295.2,487.0 1295.2,491.1 1295.2,495.1 1295.2,499.2 1295.2,503.3 1295.2,507.3 1295.2,511.4 1295.2,515.4 1295.3,519.5 1295.3,523.6 1295.3,527.6 1295.3,531.7 1295.3,535.7 1295.3,539.8 1295.3,543.8 1295.3,547.9 1295.4,552.0 1295.4,556.0 1295.4,560.1 1295.4,564.1 1295.4,568.2 1295.4,572.3 1295.4,576.3 1295.4,580.4 1295.5,584.4 1295.5,588.5 1295.5,592.5 1295.5,596.6 1295.5,600.7 1295.5,604.7 1295.5,608.8 1295.5,612.8 1295.6,616.9 1295.6,621.0 1295.6,625.0 1295.6,629.1 1295.6,633.1 1295.6,637.2 1295.6,641.2 1295.6,645.3 1295.7,649.4 1295.7,653.4 1295.7,657.5 1295.7,661.5 1295.7,665.6 1295.7,669.7 1295.7,673.7 1295.7,677.8 1295.8,681.8 1295.8,685.9 1295.8,689.9 1295.8,694.0 1295.9,699.1 1296.0,704.2 1296.0,709.3 1296.1,714.4 1296.2,719.6 1296.3,724.7 1296.3,729.8 1296.4,734.9 1296.5,740.0 1296.6,745.1 1296.6,750.2 1296.7,755.3 1296.8,760.4 1296.9,765.5 1296.9,770.7 1297.0,775.8 1297.1,780.9 1297.2,786.0 1297.2,791.1 1297.3,796.2 1297.4,801.3 1297.5,806.4 1297.5,811.5 1297.6,816.6 1297.7,821.8 1297.8,826.9 1297.8,832.0 1297.9,837.1 1298.0,842.2 1298.0,839.7 1298.1,834.6 1298.3,827.8 1298.4,819.6 1298.6,810.3 1298.8,800.1 1299.1,789.1 1299.3,777.6 1299.6,765.6 1299.9,753.3 1300.2,740.7 1300.6,728.0 1300.9,715.3 1301.3,702.6 1301.6,690.0 1302.0,677.5 1302.5,665.3 1302.9,653.3 1303.3,641.6 1303.8,630.2 1304.2,619.2 1304.7,608.5 1305.2,598.3 1305.7,588.4 1306.3,579.0 1306.8,570.0 1307.3,561.4 1307.9,553.2 1308.5,545.4 1309.1,538.1 1309.6,531.1 1310.3,524.5 1310.9,518.4 1311.5,512.6 1312.1,507.1 1312.8,502.0 1313.5,497.2 1314.1,492.7 1314.8,488.5 1315.5,484.6 1316.2,481.0 1316.9,477.6 1317.7,474.4 1318.4,471.5 1319.1,468.8 1319.9,466.3 1320.7,464.0 1321.4,461.8 1322.2,459.8 1323.0,458.0 1323.8,456.3 1324.6,454.7 1325.5,453.3 1326.3,452.0 1327.1,450.8 1328.0,449.8 1328.9,448.9 1329.7,448.1 1330.6,447.6 1331.5,447.4 1332.3,447.6 1332.9,448.1 1333.4,448.9 1333.7,450.1 1333.9,451.6 1334.0,453.4 1333.7,40.0 1334.3,53.6 1334.3,88.2 1334.3,96.7 1334.3,125.5 1334.3,143.6 1334.3,160.7 1334.3,190.4 1334.3,198.3 1334.3,233.0 1334.3,241.1 1334.3,270.5 1334.3,288.0 1334.3,305.7 1334.3,334.9 1334.3,343.1 1334.3,377.8 1334.3,385.6 1334.3,415.5 1334.3,432.3 1334.3,453.4 1334.3,457.4 1334.3,461.4 1334.3,465.4 1334.3,469.4 1334.4,473.5 1334.4,477.5 1334.4,481.5 1334.4,485.5 1334.4,489.5 1334.4,493.5 1334.4,497.5 1334.5,501.5 1334.5,505.5 1334.5,509.6 1334.5,513.6 1334.5,517.6 1334.5,521.6 1334.5,525.6 1334.5,529.6 1334.5,533.6 1334.6,537.6 1334.6,541.6 1334.6,545.6 1334.6,549.7 1334.6,553.7 1334.6,557.7 1334.6,561.7 1334.7,565.7 1334.7,569.7 1334.7,573.7 1334.7,577.7 1334.7,581.7 1334.7,585.8 1334.7,589.8 1334.7,593.8 1334.8,597.8 1334.8,601.8 1334.8,605.8 1334.8,609.8 1334.8,613.8 1334.8,617.8 1334.8,621.9 1334.8,625.9 1334.8,629.9 1334.9,633.9 1334.9,637.9 1334.9,641.9 1334.9,645.9 1334.9,649.9 1334.9,653.9 1334.9,657.9 1335.0,662.0 1335.0,666.0 1335.0,670.0 1335.0,674.0 1335.0,678.0 1335.1,683.0 1335.2,688.0 1335.2,693.0 1335.3,698.0 1335.4,703.0 1335.5,708.1 1335.6,713.1 1335.7,718.1 1335.8,723.1 1335.8,728.1 1335.9,733.1 1336.0,738.1 1336.1,743.1 1336.2,748.1 1336.2,753.1 1336.3,758.2 1336.4,763.2 1336.5,768.2 1336.6,773.2 1336.7,778.2 1336.8,783.2 1336.8,788.2 1336.9,793.2 1337.0,798.2 1337.1,803.2 1337.2,808.3 1337.2,813.3 1337.3,818.3 1337.4,823.3 1337.5,828.3 1337.5,825.6 1337.6,820.1 1337.8,812.7 1337.9,803.9 1338.1,793.9 1338.3,783.0 1338.5,771.3 1338.8,759.0 1339.0,746.2 1339.3,733.1 1339.6,719.8 1339.9,706.4 1340.2,693.0 1340.6,679.6 1340.9,666.4 1341.3,653.4 1341.7,640.7 1342.1,628.2 1342.5,616.1 1343.0,604.4 1343.4,593.1 1343.9,582.3 1344.3,571.8 1344.8,561.8 1345.3,552.3 1345.8,543.2 1346.3,534.6 1346.9,526.4 1347.4,518.7 1348.0,511.5 1348.5,504.6 1349.1,498.2 1349.7,492.1 1350.3,486.5 1350.9,481.2 1351.5,476.2 1352.1,471.6 1352.8,467.3 1353.4,463.3 1354.1,459.6 1354.7,456.2 1355.4,453.0 1356.1,450.0 1356.8,447.3 1357.5,444.8 1358.2,442.4 1358.9,440.3 1359.7,438.3 1360.4,436.4 1361.2,434.7 1361.9,433.2 1362.7,431.7 1363.5,430.4 1364.3,429.2 1365.1,428.1 1365.9,427.1 1366.7,426.2 1367.5,425.5 1368.4,425.0 1369.2,424.8 1370.3,425.0 1371.1,425.5 1371.8,426.3 1372.3,427.5 1372.6,429.0 1372.7,430.8 1372.4,40.0 1373.0,60.9 1373.0,87.3 1373.0,99.0 1373.0,134.1 1373.0,141.6 1373.0,175.6 1373.0,189.3 1373.0,213.2 1373.0,239.0 1373.0,251.1 1373.0,286.1 1373.0,293.4 1373.0,327.9 1373.0,340.9 1373.0,365.6 1373.0,390.6 1373.0,403.3 1373.0,430.8 1373.0,434.8 1373.0,438.8 1373.0,442.9 1373.0,446.9 1373.1,450.9 1373.1,454.9 1373.1,458.9 1373.1,463.0 1373.1,467.0 1373.1,471.0 1373.1,475.0 1373.1,479.0 1373.2,483.1 1373.2,487.1 1373.2,491.1 1373.2,495.1 1373.2,499.2 1373.2,503.2 1373.2,507.2 1373.2,511.2 1373.3,515.2 1373.3,519.3 1373.3,523.3 1373.3,527.3 1373.3,531.3 1373.3,535.3 1373.3,539.4 1373.3,543.4 1373.3,547.4 1373.4,551.4 1373.4,555.4 1373.4,559.5 1373.4,563.5 1373.4,567.5 1373.4,571.5 1373.4,575.5 1373.4,579.6 1373.5,583.6 1373.5,587.6 1373.5,591.6 1373.5,595.6 1373.5,599.7 1373.5,603.7 1373.5,607.7 1373.5,611.7 1373.6,615.8 1373.6,619.8 1373.6,623.8 1373.6,627.8 1373.6,631.8 1373.6,635.9 1373.6,639.9 1373.6,643.9 1373.7,647.9 1373.7,651.9 1373.7,656.0 1373.7,660.0 1373.7,664.0 1373.8,669.1 1373.9,674.2 1373.9,679.3 1374.0,684.4 1374.1,689.5 1374.2,694.6 1374.2,699.7 1374.3,704.7 1374.4,709.8 1374.5,714.9 1374.5,720.0 1374.6,725.1 1374.7,730.2 1374.8,735.3 1374.8,740.4 1374.9,745.5 1375.0,750.6 1375.1,755.7 1375.2,760.8 1375.2,765.9 1375.3,771.0 1375.4,776.1 1375.5,781.1 1375.5,786.2 1375.6,791.3 1375.7,796.4 1375.8,801.5 1375.8,806.6 1375.9,811.7 1376.0,816.8 1376.0,814.2 1376.1,808.8 1376.3,801.7 1376.4,793.2 1376.6,783.5 1376.8,772.8 1377.0,761.4 1377.3,749.4 1377.5,736.9 1377.8,724.0 1378.1,710.9 1378.4,697.7 1378.7,684.4 1379.1,671.1 1379.4,657.9 1379.8,644.9 1380.2,632.2 1380.6,619.6 1381.0,607.4 1381.4,595.5 1381.9,584.0 1382.3,572.9 1382.8,562.2 1383.3,552.0 1383.8,542.1 1384.3,532.7 1384.8,523.7 1385.3,515.2 1385.8,507.1 1386.4,499.4 1387.0,492.2 1387.5,485.3 1388.1,478.9 1388.7,472.8 1389.3,467.1 1389.9,461.8 1390.5,456.7 1391.2,452.1 1391.8,447.7 1392.5,443.6 1393.1,439.8 1393.8,436.3 1394.5,433.0 1395.2,430.0 1395.9,427.2 1396.6,424.5 1397.3,422.1 1398.0,419.9 1398.8,417.8 1399.5,415.9 1400.3,414.1 1401.1,412.5 1401.8,411.0 1402.6,409.6 1403.4,408.4 1404.2,407.3 1405.0,406.4 1405.8,405.6 1406.7,405.0 1407.5,404.8 1408.3,405.0 1408.9,405.5 1409.4,406.3 1409.7,407.5 1409.9,409.0 1410.0,410.8 1409.7,40.0 1410.3,68.8 1410.3,78.5 1410.3,107.7 1410.3,128.3 1410.3,144.9 1410.3,177.3 1410.3,185.2 1410.3,221.6 1410.3,230.9 1410.3,260.7 1410.3,280.6 1410.3,297.9 1410.3,329.8 1410.3,337.9 1410.3,374.4 1410.3,383.4 1410.3,410.8 1410.3,414.8 1410.3,418.9 1410.3,422.9 1410.3,426.9 1410.4,431.0 1410.4,435.0 1410.4,439.1 1410.4,443.1 1410.4,447.1 1410.4,451.2 1410.4,455.2 1410.4,459.2 1410.5,463.3 1410.5,467.3 1410.5,471.4 1410.5,475.4 1410.5,479.4 1410.5,483.5 1410.5,487.5 1410.5,491.5 1410.5,495.6 1410.6,499.6 1410.6,503.7 1410.6,507.7 1410.6,511.7 1410.6,515.8 1410.6,519.8 1410.6,523.8 1410.6,527.9 1410.7,531.9 1410.7,536.0 1410.7,540.0 1410.7,544.0 1410.7,548.1 1410.7,552.1 1410.7,556.1 1410.7,560.2 1410.8,564.2 1410.8,568.3 1410.8,572.3 1410.8,576.3 1410.8,580.4 1410.8,584.4 1410.8,588.4 1410.8,592.5 1410.8,596.5 1410.9,600.6 1410.9,604.6 1410.9,608.6 1410.9,612.7 1410.9,616.7 1410.9,620.7 1410.9,624.8 1410.9,628.8 1411.0,632.9 1411.0,636.9 1411.0,640.9 1411.0,645.0 1411.0,649.0 1411.1,654.0 1411.2,659.1 1411.2,664.1 1411.3,669.1 1411.4,674.1 1411.5,679.2 1411.6,684.2 1411.6,689.2 1411.7,694.2 1411.8,699.3 1411.9,704.3 1412.0,709.3 1412.0,714.3 1412.1,719.4 1412.2,724.4 1412.3,729.4 1412.4,734.4 1412.5,739.5 1412.5,744.5 1412.6,749.5 1412.7,754.5 1412.8,759.6 1412.9,764.6 1412.9,769.6 1413.0,774.6 1413.1,779.7 1413.2,784.7 1413.3,789.7 1413.3,794.7 1413.4,799.8 1413.5,804.8 1413.5,802.6 1413.6,798.0 1413.8,791.9 1413.9,784.6 1414.1,776.2 1414.3,767.0 1414.5,757.0 1414.7,746.4 1415.0,735.4 1415.3,723.9 1415.5,712.1 1415.8,700.1 1416.2,687.9 1416.5,675.7 1416.9,663.4 1417.2,651.2 1417.6,639.0 1418.0,626.9 1418.4,615.0 1418.8,603.3 1419.2,591.9 1419.7,580.7 1420.1,569.8 1420.6,559.2 1421.1,548.9 1421.6,538.9 1422.1,529.3 1422.6,520.0 1423.1,511.1 1423.7,502.5 1424.2,494.3 1424.8,486.5 1425.3,479.0 1425.9,471.9 1426.5,465.1 1427.1,458.7 1427.7,452.5 1428.3,446.8 1429.0,441.3 1429.6,436.1 1430.2,431.3 1430.9,426.7 1431.6,422.4 1432.3,418.3 1432.9,414.5 1433.6,411.0 1434.3,407.7 1435.1,404.6 1435.8,401.8 1436.5,399.1 1437.2,396.7 1438.0,394.5 1438.8,392.4 1439.5,390.6 1440.3,389.0 1441.1,387.5 1441.9,386.3 1442.7,385.4 1443.5,384.8 1444.3,384.5 1445.1,384.7 1445.7,385.2 1446.2,386.0 1446.5,387.2 1446.7,388.7 1446.8,390.5 1446.5,40.0 1447.1,68.1 1447.1,79.9 1447.1,117.8 1447.1,126.4 1447.1,161.9 1447.1,178.1 1447.1,202.3 1447.1,231.3 1447.1,243.6 1447.1,281.3 1447.1,289.8 1447.1,325.7 1447.1,341.3 1447.1,366.2 1447.1,390.5 1447.1,394.6 1447.1,398.6 1447.1,402.7 1447.1,406.7 1447.2,410.8 1447.2,414.9 1447.2,418.9 1447.2,423.0 1447.2,427.0 1447.2,431.1 1447.2,435.1 1447.2,439.2 1447.3,443.3 1447.3,447.3 1447.3,451.4 1447.3,455.4 1447.3,459.5 1447.3,463.6 1447.3,467.6 1447.3,471.7 1447.3,475.7 1447.4,479.8 1447.4,483.8 1447.4,487.9 1447.4,492.0 1447.4,496.0 1447.4,500.1 1447.4,504.1 1447.4,508.2 1447.4,512.2 1447.5,516.3 1447.5,520.4 1447.5,524.4 1447.5,528.5 1447.5,532.5 1447.5,536.6 1447.5,540.7 1447.5,544.7 1447.6,548.8 1447.6,552.8 1447.6,556.9 1447.6,561.0 1447.6,565.0 1447.6,569.1 1447.6,573.1 1447.6,577.2 1447.6,581.2 1447.7,585.3 1447.7,589.4 1447.7,593.4 1447.7,597.5 1447.7,601.5 1447.7,605.6 1447.7,609.6 1447.7,613.7 1447.8,617.8 1447.8,621.8 1447.8,625.9 1447.8,629.9 1447.8,634.0 1447.9,639.1 1447.9,644.2 1448.0,649.3 1448.0,654.4 1448.1,659.5 1448.1,664.6 1448.2,669.7 1448.2,674.8 1448.3,679.9 1448.3,685.0 1448.4,690.1 1448.5,695.2 1448.5,700.3 1448.6,705.4 1448.6,710.5 1448.7,715.5 1448.7,720.6 1448.8,725.7 1448.8,730.8 1448.9,735.9 1449.0,741.0 1449.0,746.1 1449.1,751.2 1449.1,756.3 1449.2,761.4 1449.2,766.5 1449.3,771.6 1449.3,776.7 1449.4,781.8 1449.4,786.9 1449.5,792.0 1449.5,788.8 1449.6,782.3 1449.7,773.7 1449.9,763.4 1450.1,751.7 1450.3,739.0 1450.5,725.4 1450.7,711.2 1450.9,696.5 1451.2,681.6 1451.5,666.4 1451.8,651.2 1452.1,636.1 1452.4,621.2 1452.8,606.5 1453.1,592.1 1453.5,578.1 1453.9,564.5 1454.3,551.4 1454.7,538.8 1455.1,526.8 1455.5,515.2 1456.0,504.2 1456.4,493.8 1456.9,483.9 1457.4,474.6 1457.9,465.8 1458.4,457.5 1458.9,449.8 1459.4,442.5 1459.9,435.7 1460.5,429.4 1461.0,423.5 1461.6,418.1 1462.2,413.0 1462.7,408.3 1463.3,404.0 1463.9,399.9 1464.6,396.2 1465.2,392.8 1465.8,389.7 1466.5,386.8 1467.1,384.1 1467.8,381.7 1468.4,379.4 1469.1,377.3 1469.8,375.4 1470.5,373.7 1471.2,372.1 1471.9,370.6 1472.6,369.2 1473.4,368.0 1474.1,366.8 1474.8,365.7 1475.6,364.8 1476.4,363.9 1477.1,363.1 1477.9,362.4 1478.7,361.9 1479.5,361.7 1480.3,361.9 1480.9,362.4 1481.4,363.2 1481.7,364.4 1481.9,365.9 1482.0,367.7 1481.7,40.0 1482.3,58.7 1482.3,88.4 1482.3,112.1 1482.3,128.7 1482.3,164.1 1482.3,172.6 1482.3,211.0 1482.3,222.2 1482.3,252.6 1482.3,275.6 1482.3,292.8 1482.3,327.8 1482.3,336.4 1482.3,367.7 1482.3,371.8 1482.3,375.8 1482.3,379.9 1482.3,383.9 1482.4,388.0 1482.4,392.0 1482.4,396.1 1482.4,400.1 1482.4,404.2 1482.4,408.2 1482.4,412.3 1482.4,416.3 1482.4,420.4 1482.5,424.4 1482.5,428.5 1482.5,432.6 1482.5,436.6 1482.5,440.7 1482.5,444.7 1482.5,448.8 1482.5,452.8 1482.5,456.9 1482.6,460.9 1482.6,465.0 1482.6,469.0 1482.6,473.1 1482.6,477.1 1482.6,481.2 1482.6,485.2 1482.6,489.3 1482.7,493.4 1482.7,497.4 1482.7,501.5 1482.7,505.5 1482.7,509.6 1482.7,513.6 1482.7,517.7 1482.7,521.7 1482.7,525.8 1482.8,529.8 1482.8,533.9 1482.8,537.9 1482.8,542.0 1482.8,546.0 1482.8,550.1 1482.8,554.1 1482.8,558.2 1482.8,562.3 1482.9,566.3 1482.9,570.4 1482.9,574.4 1482.9,578.5 1482.9,582.5 1482.9,586.6 1482.9,590.6 1482.9,594.7 1482.9,598.7 1483.0,602.8 1483.0,606.8 1483.0,610.9 1483.0,614.9 1483.0,619.0 1483.1,624.0 1483.2,629.1 1483.2,634.1 1483.3,639.2 1483.4,644.2 1483.5,649.2 1483.5,654.3 1483.6,659.3 1483.7,664.4 1483.8,669.4 1483.9,674.4 1483.9,679.5 1484.0,684.5 1484.1,689.6 1484.2,694.6 1484.2,699.6 1484.3,704.7 1484.4,709.7 1484.5,714.8 1484.6,719.8 1484.6,724.9 1484.7,729.9 1484.8,734.9 1484.9,740.0 1485.0,745.0 1485.0,750.1 1485.1,755.1 1485.2,760.1 1485.3,765.2 1485.3,770.2 1485.4,775.3 1485.5,780.3 1485.5,777.2 1485.6,770.9 1485.7,762.5 1485.9,752.4 1486.0,741.0 1486.2,728.5 1486.4,715.2 1486.7,701.2 1486.9,686.7 1487.2,671.9 1487.4,656.9 1487.7,641.9 1488.0,626.8 1488.4,611.9 1488.7,597.2 1489.0,582.7 1489.4,568.6 1489.8,554.9 1490.2,541.6 1490.6,528.7 1491.0,516.4 1491.4,504.5 1491.8,493.2 1492.3,482.4 1492.7,472.2 1493.2,462.5 1493.7,453.3 1494.2,444.6 1494.7,436.4 1495.2,428.7 1495.7,421.5 1496.2,414.8 1496.8,408.5 1497.3,402.6 1497.9,397.2 1498.4,392.1 1499.0,387.4 1499.6,383.0 1500.2,378.9 1500.8,375.2 1501.4,371.7 1502.1,368.5 1502.7,365.5 1503.3,362.8 1504.0,360.3 1504.7,357.9 1505.3,355.8 1506.0,353.8 1506.7,352.0 1507.4,350.3 1508.1,348.8 1508.8,347.4 1509.5,346.0 1510.3,344.8 1511.0,343.8 1511.7,342.8 1512.5,341.9 1513.3,341.2 1514.0,340.6 1514.8,340.4 1515.6,340.6 1516.2,341.1 1516.7,341.9 1517.0,343.1 1517.2,344.6 1517.3,346.4 1517.0,40.0 1517.6,56.1 1517.6,95.2 1517.6,103.7 1517.6,138.9 1517.6,156.4 1517.6,179.3 1517.6,210.2 1517.6,221.2 1517.6,260.2 1517.6,268.5 1517.6,304.2 1517.6,321.0 1517.6,346.4 1517.6,350.4 1517.6,354.4 1517.6,358.5 1517.6,362.5 1517.7,366.5 1517.7,370.5 1517.7,374.6 1517.7,378.6 1517.7,382.6 1517.7,386.6 1517.7,390.7 1517.7,394.7 1517.7,398.7 1517.8,402.8 1517.8,406.8 1517.8,410.8 1517.8,414.8 1517.8,418.8 1517.8,422.9 1517.8,426.9 1517.8,430.9 1517.8,434.9 1517.9,439.0 1517.9,443.0 1517.9,447.0 1517.9,451.0 1517.9,455.1 1517.9,459.1 1517.9,463.1 1517.9,467.1 1517.9,471.2 1517.9,475.2 1518.0,479.2 1518.0,483.2 1518.0,487.3 1518.0,491.3 1518.0,495.3 1518.0,499.4 1518.0,503.4 1518.0,507.4 1518.0,511.4 1518.1,515.5 1518.1,519.5 1518.1,523.5 1518.1,527.5 1518.1,531.5 1518.1,535.6 1518.1,539.6 1518.1,543.6 1518.1,547.6 1518.2,551.7 1518.2,555.7 1518.2,559.7 1518.2,563.8 1518.2,567.8 1518.2,571.8 1518.2,575.8 1518.2,579.9 1518.2,583.9 1518.3,587.9 1518.3,591.9 1518.3,596.0 1518.3,600.0 1518.3,604.0 1518.4,609.1 1518.4,614.2 1518.5,619.3 1518.5,624.4 1518.6,629.5 1518.6,634.7 1518.7,639.8 1518.7,644.9 1518.8,650.0 1518.8,655.1 1518.9,660.2 1518.9,665.3 1519.0,670.4 1519.0,675.5 1519.1,680.6 1519.2,685.8 1519.2,690.9 1519.3,696.0 1519.3,701.1 1519.4,706.2 1519.4,711.3 1519.5,716.4 1519.5,721.5 1519.6,726.6 1519.6,731.7 1519.7,736.8 1519.7,742.0 1519.8,747.1 1519.8,752.2 1519.9,757.3 1519.9,762.4 1520.0,767.5 1520.0,764.5 1520.1,758.4 1520.2,750.2 1520.4,740.5 1520.5,729.4 1520.7,717.2 1520.9,704.3 1521.1,690.6 1521.4,676.4 1521.6,661.9 1521.9,647.1 1522.2,632.3 1522.5,617.4 1522.8,602.6 1523.1,587.9 1523.5,573.5 1523.8,559.3 1524.2,545.5 1524.6,532.1 1524.9,519.1 1525.4,506.6 1525.8,494.5 1526.2,482.9 1526.6,471.8 1527.1,461.3 1527.5,451.2 1528.0,441.6 1528.5,432.6 1529.0,424.0 1529.5,415.9 1530.0,408.3 1530.5,401.2 1531.0,394.5 1531.6,388.2 1532.1,382.3 1532.7,376.9 1533.2,371.7 1533.8,367.0 1534.4,362.5 1535.0,358.4 1535.6,354.6 1536.2,351.1 1536.8,347.8 1537.5,344.8 1538.1,342.0 1538.8,339.4 1539.4,337.0 1540.1,334.7 1540.8,332.7 1541.4,330.8 1542.1,329.1 1542.8,327.5 1543.5,326.0 1544.2,324.7 1545.0,323.4 1545.7,322.4 1546.4,321.4 1547.2,320.6 1547.9,320.0 1548.7,319.8 1549.5,320.0 1550.1,320.5 1550.6,321.3 1550.9,322.5 1551.1,324.0 1551.2,325.8 1550.9,40.0 1551.5,64.6 1551.5,90.4 1551.5,105.7 1551.5,143.0 1551.5,150.9 1551.5,190.0 1551.5,202.1 1551.5,231.8 1551.5,256.7 1551.5,272.7 1551.5,309.6 1551.5,325.8 1551.5,329.8 1551.5,333.9 1551.5,337.9 1551.5,341.9 1551.6,346.0 1551.6,350.0 1551.6,354.0 1551.6,358.1 1551.6,362.1 1551.6,366.1 1551.6,370.2 1551.6,374.2 1551.6,378.2 1551.7,382.3 1551.7,386.3 1551.7,390.3 1551.7,394.4 1551.7,398.4 1551.7,402.4 1551.7,406.5 1551.7,410.5 1551.7,414.5 1551.7,418.6 1551.8,422.6 1551.8,426.6 1551.8,430.7 1551.8,434.7 1551.8,438.7 1551.8,442.8 1551.8,446.8 1551.8,450.8 1551.8,454.9 1551.9,458.9 1551.9,463.0 1551.9,467.0 1551.9,471.0 1551.9,475.1 1551.9,479.1 1551.9,483.1 1551.9,487.2 1551.9,491.2 1552.0,495.2 1552.0,499.3 1552.0,503.3 1552.0,507.3 1552.0,511.4 1552.0,515.4 1552.0,519.4 1552.0,523.5 1552.0,527.5 1552.0,531.5 1552.1,535.6 1552.1,539.6 1552.1,543.6 1552.1,547.7 1552.1,551.7 1552.1,555.7 1552.1,559.8 1552.1,563.8 1552.1,567.8 1552.2,571.9 1552.2,575.9 1552.2,579.9 1552.2,584.0 1552.2,588.0 1552.3,593.0 1552.3,598.0 1552.4,603.0 1552.5,608.0 1552.5,613.0 1552.6,618.0 1552.7,623.0 1552.7,628.0 1552.8,633.0 1552.9,638.0 1552.9,643.0 1553.0,648.0 1553.1,653.0 1553.1,658.0 1553.2,663.0 1553.3,668.0 1553.3,673.0 1553.4,678.0 1553.5,683.0 1553.6,688.0 1553.6,693.0 1553.7,698.0 1553.8,703.0 1553.8,708.0 1553.9,713.0 1554.0,718.0 1554.0,723.0 1554.1,728.0 1554.2,733.0 1554.2,738.0 1554.3,743.0 1554.4,748.0 1554.4,753.0 1554.5,758.0 1556.5,700.0 1558.0,615.0 1558.2,527.0" fill="none" stroke="#000" stroke-width="1.9" stroke-linejoin="round"/>
<g fill="none" stroke="#000" stroke-width="4.7" stroke-linejoin="round" stroke-linecap="round">
<path d="M293.4,1055.0 293.5,1054.3 293.6,1052.9 293.7,1051.1 294.0,1048.8 294.2,1046.2 294.5,1043.3 294.8,1040.1 295.1,1036.7 295.4,1033.1 295.8,1029.3 296.2,1025.4 296.6,1021.3 297.1,1017.0 297.5,1012.7 298.0,1008.3 298.5,1003.8 299.0,999.2 299.5,994.6 300.1,990.0 300.7,985.4 301.3,980.7 301.9,976.0 302.5,971.4 303.1,966.8 303.8,962.2 304.5,957.6 305.2,953.1 305.9,948.7 306.6,944.3 307.3,940.0 308.1,935.8 308.8,931.6 309.6,927.6 310.4,923.6 311.2,919.7 312.0,915.9 312.9,912.3 313.7,908.7 314.6,905.2 315.5,901.9 316.3,898.7 317.2,895.6 318.2,892.6 319.1,889.8 320.0,887.0 321.0,884.4 322.0,882.0 322.9,879.6 323.9,877.4 324.9,875.4 325.9,873.5 327.0,871.7 328.0,870.1 329.1,868.7 330.1,867.4 331.2,866.3 332.3,865.4 333.4,864.7 334.5,864.2 335.6,864.0 337.1,864.2 338.4,864.7 339.4,865.5 340.0,866.7 340.5,868.2 340.6,870.0"/>
<path d="M345.6,1046.0 345.7,1045.3 345.8,1043.8 346.0,1041.8 346.2,1039.4 346.4,1036.6 346.7,1033.5 347.0,1030.1 347.3,1026.4 347.7,1022.5 348.0,1018.3 348.4,1014.0 348.9,1009.5 349.3,1004.8 349.8,1000.0 350.3,995.1 350.8,990.1 351.3,985.0 351.8,979.8 352.4,974.5 353.0,969.2 353.6,963.9 354.2,958.5 354.9,953.2 355.5,947.8 356.2,942.5 356.9,937.2 357.6,931.9 358.3,926.7 359.0,921.6 359.8,916.5 360.5,911.5 361.3,906.6 362.1,901.8 362.9,897.1 363.7,892.5 364.5,888.1 365.4,883.8 366.3,879.6 367.1,875.6 368.0,871.8 368.9,868.1 369.8,864.5 370.8,861.2 371.7,858.0 372.7,855.1 373.6,852.3 374.6,849.7 375.6,847.3 376.6,845.1 377.6,843.2 378.7,841.4 379.7,839.8 380.8,838.5 381.8,837.3 382.9,836.4 384.0,835.6 385.1,835.1 386.2,834.7 387.4,834.5 388.5,834.5 390.8,834.7 392.7,835.2 394.1,836.0 395.2,837.2 395.8,838.7 396.0,840.5"/>
<path d="M401.2,1035.0 401.3,1034.5 401.4,1033.3 401.6,1031.8 401.8,1030.0 402.0,1027.8 402.3,1025.3 402.6,1022.6 402.9,1019.6 403.3,1016.4 403.7,1012.9 404.1,1009.2 404.5,1005.3 404.9,1001.1 405.4,996.7 405.9,992.2 406.4,987.4 406.9,982.5 407.5,977.4 408.1,972.1 408.6,966.6 409.3,961.0 409.9,955.3 410.5,949.5 411.2,943.5 411.8,937.5 412.5,931.4 413.2,925.2 414.0,919.0 414.7,912.8 415.5,906.5 416.2,900.3 417.0,894.2 417.8,888.1 418.6,882.1 419.4,876.3 420.3,870.5 421.1,865.0 422.0,859.6 422.9,854.5 423.8,849.5 424.7,844.9 425.6,840.5 426.6,836.4 427.5,832.6 428.5,829.1 429.4,826.0 430.4,823.2 431.4,820.7 432.4,818.5 433.5,816.7 434.5,815.2 435.6,813.9 436.6,813.0 437.7,812.2 438.8,811.7 439.9,811.3 441.0,811.1 442.1,811.0 443.3,811.0 444.4,811.0 446.7,811.2 448.6,811.7 450.0,812.5 451.1,813.7 451.7,815.2 451.9,817.0"/>
<path d="M457.5,1025.5 457.6,1024.2 457.7,1021.7 457.9,1018.2 458.1,1014.1 458.4,1009.3 458.7,1004.1 459.0,998.5 459.4,992.5 459.8,986.3 460.2,979.8 460.7,973.2 461.1,966.4 461.6,959.6 462.2,952.7 462.7,945.8 463.3,939.0 463.9,932.1 464.5,925.4 465.1,918.8 465.8,912.2 466.4,905.8 467.1,899.6 467.8,893.5 468.6,887.6 469.3,881.9 470.1,876.3 470.8,871.0 471.6,865.8 472.5,860.9 473.3,856.1 474.2,851.6 475.0,847.2 475.9,843.1 476.8,839.1 477.7,835.3 478.7,831.7 479.6,828.3 480.6,825.1 481.5,822.0 482.5,819.1 483.5,816.3 484.6,813.7 485.6,811.3 486.7,809.0 487.7,806.8 488.8,804.7 489.9,802.8 491.0,801.0 492.1,799.3 493.3,797.7 494.4,796.2 495.6,794.8 496.8,793.5 498.0,792.2 499.2,791.1 500.4,790.1 501.6,789.2 502.9,788.4 504.1,787.8 505.4,787.5 506.6,787.7 507.6,788.2 508.4,789.0 509.0,790.2 509.3,791.7 509.4,793.5"/>
<path d="M514.0,1016.0 514.1,1014.7 514.2,1011.9 514.4,1008.3 514.6,1003.9 514.9,998.9 515.2,993.3 515.6,987.4 516.0,981.1 516.4,974.5 516.8,967.7 517.3,960.7 517.8,953.6 518.3,946.4 518.8,939.1 519.4,931.9 519.9,924.7 520.6,917.5 521.2,910.5 521.8,903.5 522.5,896.7 523.2,890.0 523.9,883.5 524.6,877.2 525.4,871.0 526.1,865.0 526.9,859.3 527.7,853.7 528.6,848.3 529.4,843.2 530.3,838.3 531.1,833.5 532.0,829.0 532.9,824.7 533.9,820.5 534.8,816.6 535.8,812.9 536.7,809.3 537.7,805.9 538.7,802.7 539.8,799.7 540.8,796.8 541.9,794.1 542.9,791.5 544.0,789.0 545.1,786.7 546.2,784.5 547.4,782.4 548.5,780.4 549.7,778.6 550.8,776.8 552.0,775.1 553.2,773.4 554.4,771.9 555.7,770.4 556.9,769.0 558.1,767.6 559.4,766.3 560.7,765.1 562.0,764.1 563.3,763.5 564.2,763.7 565.0,764.2 565.5,765.0 566.0,766.2 566.2,767.7 566.3,769.5"/>
<path d="M571.3,1005.0 571.4,1003.5 571.5,1000.5 571.7,996.4 571.9,991.6 572.2,986.0 572.5,979.9 572.9,973.4 573.3,966.4 573.7,959.2 574.1,951.7 574.6,944.1 575.0,936.4 575.6,928.6 576.1,920.8 576.7,913.0 577.2,905.2 577.8,897.6 578.5,890.0 579.1,882.6 579.8,875.4 580.5,868.4 581.2,861.5 581.9,854.9 582.7,848.5 583.4,842.3 584.2,836.3 585.0,830.6 585.8,825.1 586.7,819.8 587.5,814.8 588.4,810.0 589.3,805.5 590.2,801.1 591.1,797.0 592.1,793.1 593.0,789.4 594.0,785.9 595.0,782.6 596.0,779.5 597.0,776.5 598.1,773.7 599.1,771.1 600.2,768.6 601.3,766.3 602.4,764.1 603.5,762.0 604.6,760.0 605.7,758.1 606.9,756.3 608.1,754.7 609.2,753.1 610.4,751.5 611.6,750.1 612.9,748.7 614.1,747.3 615.4,746.0 616.6,744.8 617.9,743.6 619.2,742.6 620.5,742.0 621.1,742.2 621.6,742.7 622.0,743.5 622.3,744.7 622.4,746.2 622.5,748.0"/>
<path d="M632.2,900.0 632.3,897.6 632.9,888.6 633.4,879.7 634.1,870.9 634.7,862.3 635.3,853.9 636.0,845.8 636.7,837.8 637.4,830.2 638.1,822.8 638.9,815.6 639.6,808.8 640.4,802.3 641.2,796.1 642.1,790.2 642.9,784.6 643.8,779.3 644.6,774.3 645.5,769.6 646.4,765.2 647.4,761.0 648.3,757.2 649.3,753.6 650.2,750.2 651.2,747.1 652.2,744.2 653.3,741.5 654.3,739.1 655.4,736.8 656.4,734.8 657.5,732.9 658.6,731.2 659.7,729.7 660.9,728.3 662.0,727.1 663.2,726.0 664.3,725.0 665.5,724.1 666.7,723.4 667.9,722.8 669.2,722.2 670.4,721.8 671.6,721.5 672.9,721.3 674.2,721.1 675.5,721.0 676.8,721.0 677.4,721.2 677.9,721.7 678.3,722.5 678.6,723.7 678.7,725.2 678.8,727.0"/>
<path d="M687.2,890.0 687.3,889.1 687.8,879.6 688.3,870.2 688.9,861.0 689.5,851.9 690.1,843.0 690.7,834.4 691.4,826.1 692.0,818.0 692.7,810.2 693.5,802.8 694.2,795.6 694.9,788.8 695.7,782.3 696.5,776.2 697.3,770.3 698.1,764.8 698.9,759.6 699.8,754.7 700.7,750.1 701.5,745.8 702.4,741.8 703.4,738.0 704.3,734.5 705.2,731.2 706.2,728.2 707.2,725.4 708.2,722.8 709.2,720.3 710.2,718.1 711.3,716.1 712.3,714.2 713.4,712.4 714.5,710.8 715.6,709.4 716.7,708.0 717.8,706.8 719.0,705.7 720.1,704.7 721.3,703.8 722.5,703.0 723.7,702.3 724.9,701.6 726.1,701.1 727.3,700.6 728.6,700.3 729.8,700.1 731.1,700.0 731.7,700.2 732.2,700.7 732.6,701.5 732.9,702.7 733.0,704.2 733.1,706.0"/>
<path d="M742.2,880.0 742.2,879.1 742.7,870.3 743.3,861.7 743.8,853.1 744.4,844.6 745.0,836.3 745.6,828.2 746.3,820.2 746.9,812.5 747.6,805.0 748.3,797.8 749.0,790.8 749.7,784.0 750.5,777.6 751.2,771.4 752.0,765.4 752.8,759.7 753.6,754.3 754.4,749.2 755.2,744.3 756.1,739.6 757.0,735.2 757.8,731.0 758.7,727.0 759.7,723.3 760.6,719.8 761.5,716.5 762.5,713.3 763.5,710.4 764.4,707.6 765.4,705.0 766.5,702.6 767.5,700.3 768.5,698.1 769.6,696.1 770.6,694.2 771.7,692.5 772.8,690.8 773.9,689.2 775.0,687.8 776.2,686.4 777.3,685.1 778.5,684.0 779.6,682.9 780.8,682.0 782.0,681.3 783.2,681.0 784.3,681.2 785.1,681.7 785.8,682.5 786.3,683.7 786.6,685.2 786.7,687.0"/>
<path d="M795.7,870.0 796.2,860.8 796.7,851.3 797.2,842.0 797.7,832.7 798.3,823.7 798.9,814.8 799.5,806.1 800.1,797.7 800.7,789.5 801.4,781.6 802.1,774.0 802.7,766.7 803.4,759.7 804.2,752.9 804.9,746.5 805.6,740.4 806.4,734.5 807.2,729.0 808.0,723.7 808.8,718.8 809.6,714.1 810.5,709.7 811.3,705.5 812.2,701.6 813.1,697.9 814.0,694.5 814.9,691.2 815.8,688.2 816.8,685.4 817.7,682.8 818.7,680.3 819.7,678.1 820.7,675.9 821.7,674.0 822.7,672.1 823.7,670.4 824.8,668.9 825.8,667.4 826.9,666.1 828.0,664.9 829.1,663.8 830.2,662.8 831.3,661.9 832.4,661.2 833.6,660.6 834.7,660.2 835.9,660.0 837.0,660.2 837.8,660.7 838.5,661.5 839.0,662.7 839.3,664.2 839.4,666.0"/>
<path d="M847.3,865.0 847.7,856.5 848.2,846.7 848.7,837.0 849.2,827.4 849.7,817.9 850.3,808.5 850.8,799.4 851.4,790.5 852.0,781.8 852.6,773.4 853.3,765.2 853.9,757.4 854.6,749.8 855.3,742.6 856.0,735.7 856.7,729.1 857.4,722.7 858.2,716.7 858.9,711.0 859.7,705.6 860.5,700.5 861.3,695.7 862.2,691.1 863.0,686.9 863.8,682.8 864.7,679.0 865.6,675.5 866.5,672.2 867.4,669.1 868.3,666.2 869.2,663.5 870.2,660.9 871.1,658.6 872.1,656.4 873.1,654.4 874.1,652.5 875.1,650.8 876.1,649.1 877.2,647.7 878.2,646.3 879.3,645.1 880.3,643.9 881.4,642.9 882.5,642.0 883.6,641.2 884.7,640.6 885.9,640.2 887.0,640.0 888.1,640.2 888.9,640.7 889.6,641.5 890.1,642.7 890.4,644.2 890.5,646.0"/>
<path d="M897.6,860.0 898.0,849.8 898.4,839.5 898.9,829.2 899.3,819.0 899.8,808.9 900.3,799.0 900.8,789.3 901.3,779.8 901.8,770.5 902.4,761.6 903.0,752.9 903.6,744.5 904.2,736.5 904.8,728.8 905.4,721.4 906.1,714.4 906.7,707.7 907.4,701.3 908.1,695.3 908.8,689.6 909.5,684.2 910.3,679.1 911.0,674.4 911.8,669.9 912.5,665.7 913.3,661.7 914.1,658.0 914.9,654.6 915.8,651.4 916.6,648.4 917.4,645.6 918.3,643.1 919.2,640.7 920.1,638.5 921.0,636.4 921.9,634.6 922.8,632.8 923.7,631.2 924.7,629.8 925.6,628.4 926.6,627.2 927.6,626.1 928.5,625.1 929.5,624.3 930.6,623.5 931.6,622.9 932.6,622.4 933.6,622.0 934.7,621.9 936.4,622.1 937.8,622.6 938.8,623.4 939.6,624.6 940.0,626.1 940.2,627.9"/>
<path d="M947.5,830.0 947.8,822.3 948.3,811.4 948.7,800.7 949.2,790.0 949.7,779.6 950.2,769.4 950.7,759.4 951.2,749.8 951.8,740.4 952.4,731.4 952.9,722.8 953.5,714.5 954.2,706.5 954.8,699.0 955.4,691.8 956.1,685.0 956.8,678.5 957.5,672.4 958.2,666.6 958.9,661.2 959.6,656.1 960.4,651.4 961.1,646.9 961.9,642.8 962.7,638.9 963.5,635.3 964.3,631.9 965.1,628.8 965.9,625.9 966.8,623.3 967.6,620.8 968.5,618.5 969.4,616.4 970.3,614.5 971.2,612.8 972.1,611.2 973.0,609.7 974.0,608.3 974.9,607.1 975.9,606.0 976.9,605.1 977.9,604.2 978.9,603.4 979.9,602.8 980.9,602.3 981.9,601.8 982.9,601.6 984.0,601.5 985.3,601.7 986.3,602.2 987.2,603.0 987.7,604.2 988.1,605.7 988.2,607.5"/>
<path d="M995.8,805.0 996.2,793.7 996.7,782.4 997.1,771.2 997.6,760.2 998.1,749.5 998.6,739.1 999.1,729.0 999.6,719.3 1000.2,709.9 1000.8,701.0 1001.3,692.4 1001.9,684.3 1002.5,676.5 1003.2,669.2 1003.8,662.2 1004.5,655.7 1005.1,649.5 1005.8,643.7 1006.5,638.3 1007.2,633.2 1007.9,628.5 1008.7,624.0 1009.4,619.9 1010.2,616.1 1010.9,612.6 1011.7,609.3 1012.5,606.3 1013.3,603.5 1014.1,600.9 1015.0,598.6 1015.8,596.4 1016.7,594.5 1017.5,592.7 1018.4,591.0 1019.3,589.5 1020.2,588.2 1021.1,587.0 1022.0,585.9 1023.0,584.9 1023.9,584.0 1024.9,583.2 1025.8,582.6 1026.8,582.0 1027.8,581.6 1028.8,581.3 1029.8,581.1 1030.8,581.0 1032.4,581.2 1033.6,581.7 1034.6,582.5 1035.3,583.7 1035.8,585.2 1035.9,587.0"/>
<path d="M1043.4,787.0 1043.5,786.7 1043.9,774.7 1044.3,762.9 1044.7,751.3 1045.2,740.0 1045.6,728.9 1046.1,718.2 1046.6,707.9 1047.1,698.0 1047.6,688.5 1048.2,679.4 1048.7,670.7 1049.3,662.5 1049.9,654.7 1050.5,647.3 1051.1,640.4 1051.7,633.9 1052.3,627.7 1053.0,622.0 1053.7,616.7 1054.3,611.7 1055.0,607.0 1055.7,602.7 1056.4,598.7 1057.1,595.0 1057.9,591.6 1058.6,588.5 1059.4,585.6 1060.1,582.9 1060.9,580.5 1061.7,578.2 1062.5,576.2 1063.3,574.4 1064.2,572.7 1065.0,571.1 1065.8,569.8 1066.7,568.5 1067.6,567.4 1068.4,566.4 1069.3,565.5 1070.2,564.7 1071.1,564.0 1072.1,563.4 1073.0,562.9 1073.9,562.5 1074.9,562.2 1075.8,562.1 1076.8,562.0 1078.3,562.2 1079.6,562.7 1080.5,563.5 1081.2,564.7 1081.7,566.2 1081.8,568.0"/>
<path d="M1089.1,770.0 1089.4,759.4 1089.8,746.4 1090.2,733.7 1090.7,721.4 1091.1,709.5 1091.6,698.0 1092.1,687.0 1092.5,676.5 1093.0,666.4 1093.6,656.9 1094.1,648.0 1094.7,639.5 1095.2,631.5 1095.8,624.1 1096.4,617.1 1097.0,610.6 1097.6,604.5 1098.2,598.9 1098.9,593.7 1099.5,588.8 1100.2,584.4 1100.9,580.3 1101.6,576.5 1102.3,573.0 1103.0,569.8 1103.7,566.9 1104.5,564.2 1105.2,561.7 1106.0,559.5 1106.8,557.4 1107.5,555.6 1108.3,553.8 1109.1,552.3 1110.0,550.8 1110.8,549.5 1111.6,548.3 1112.5,547.2 1113.3,546.2 1114.2,545.3 1115.1,544.4 1116.0,543.7 1116.9,542.9 1117.8,542.2 1118.7,541.6 1119.6,541.1 1120.6,540.6 1121.5,540.2 1122.5,540.0 1123.7,540.2 1124.7,540.7 1125.5,541.5 1126.1,542.7 1126.4,544.2 1126.5,546.0"/>
<path d="M1133.9,755.0 1133.9,754.8 1134.3,742.1 1134.6,729.6 1135.0,717.4 1135.5,705.6 1135.9,694.1 1136.3,682.9 1136.8,672.3 1137.2,662.0 1137.7,652.2 1138.2,642.9 1138.7,634.0 1139.3,625.7 1139.8,617.7 1140.3,610.3 1140.9,603.3 1141.5,596.7 1142.1,590.5 1142.6,584.8 1143.3,579.4 1143.9,574.4 1144.5,569.8 1145.1,565.5 1145.8,561.5 1146.5,557.8 1147.1,554.4 1147.8,551.3 1148.5,548.4 1149.2,545.7 1149.9,543.3 1150.7,541.0 1151.4,538.9 1152.1,537.0 1152.9,535.3 1153.7,533.7 1154.4,532.2 1155.2,530.8 1156.0,529.5 1156.8,528.4 1157.6,527.3 1158.5,526.3 1159.3,525.4 1160.1,524.6 1161.0,523.9 1161.9,523.2 1162.7,522.6 1163.6,522.2 1164.5,522.0 1166.3,522.2 1167.8,522.7 1169.0,523.5 1169.8,524.7 1170.3,526.2 1170.5,528.0"/>
<path d="M1177.3,740.0 1177.6,727.7 1178.0,715.0 1178.4,702.5 1178.8,690.4 1179.2,678.6 1179.6,667.3 1180.1,656.3 1180.5,645.8 1181.0,635.8 1181.4,626.3 1181.9,617.2 1182.4,608.6 1182.9,600.5 1183.5,592.9 1184.0,585.7 1184.6,579.0 1185.1,572.7 1185.7,566.8 1186.3,561.3 1186.9,556.2 1187.5,551.5 1188.1,547.1 1188.7,543.0 1189.4,539.3 1190.0,535.8 1190.7,532.6 1191.3,529.7 1192.0,527.0 1192.7,524.5 1193.4,522.2 1194.1,520.1 1194.8,518.2 1195.5,516.4 1196.3,514.8 1197.0,513.3 1197.8,512.0 1198.6,510.7 1199.3,509.6 1200.1,508.6 1200.9,507.6 1201.7,506.8 1202.5,506.0 1203.3,505.3 1204.2,504.8 1205.0,504.3 1205.8,503.9 1206.7,503.8 1208.5,504.0 1210.0,504.5 1211.2,505.3 1212.0,506.5 1212.5,508.0 1212.7,509.8"/>
<path d="M1219.7,725.0 1219.8,722.2 1220.1,708.7 1220.5,695.5 1221.0,682.6 1221.4,670.1 1221.8,658.0 1222.3,646.4 1222.8,635.2 1223.3,624.6 1223.8,614.4 1224.3,604.8 1224.8,595.7 1225.4,587.1 1226.0,579.0 1226.5,571.5 1227.1,564.4 1227.7,557.7 1228.3,551.5 1229.0,545.8 1229.6,540.4 1230.3,535.5 1230.9,530.9 1231.6,526.6 1232.3,522.7 1233.0,519.1 1233.7,515.8 1234.4,512.8 1235.2,510.0 1235.9,507.4 1236.6,505.0 1237.4,502.9 1238.2,500.9 1239.0,499.1 1239.8,497.4 1240.6,495.9 1241.4,494.5 1242.2,493.2 1243.1,492.0 1243.9,490.9 1244.8,489.9 1245.6,489.0 1246.5,488.1 1247.4,487.3 1248.3,486.6 1249.2,486.0 1250.1,485.4 1251.1,485.0 1252.0,484.8 1252.8,485.0 1253.4,485.5 1253.9,486.3 1254.2,487.5 1254.4,489.0 1254.5,490.8"/>
<path d="M1261.0,712.0 1261.1,709.5 1261.4,696.9 1261.8,684.4 1262.2,672.1 1262.6,660.2 1263.0,648.6 1263.4,637.3 1263.8,626.5 1264.3,616.0 1264.7,606.0 1265.2,596.4 1265.7,587.2 1266.2,578.5 1266.7,570.3 1267.2,562.4 1267.8,555.0 1268.3,548.0 1268.9,541.4 1269.4,535.2 1270.0,529.4 1270.6,524.0 1271.2,518.9 1271.8,514.2 1272.4,509.8 1273.1,505.6 1273.7,501.8 1274.4,498.2 1275.0,494.9 1275.7,491.9 1276.4,489.0 1277.1,486.4 1277.8,484.0 1278.5,481.7 1279.2,479.7 1279.9,477.7 1280.6,476.0 1281.4,474.3 1282.1,472.8 1282.9,471.4 1283.7,470.2 1284.4,469.0 1285.2,468.0 1286.0,467.0 1286.8,466.2 1287.6,465.5 1288.5,465.0 1289.3,464.8 1291.0,465.0 1292.4,465.5 1293.4,466.3 1294.2,467.5 1294.6,469.0 1294.8,470.8"/>
<path d="M1301.3,700.0 1301.6,690.0 1302.0,677.5 1302.5,665.3 1302.9,653.3 1303.3,641.6 1303.8,630.2 1304.2,619.2 1304.7,608.5 1305.2,598.3 1305.7,588.4 1306.3,579.0 1306.8,570.0 1307.3,561.4 1307.9,553.2 1308.5,545.4 1309.1,538.1 1309.6,531.1 1310.3,524.5 1310.9,518.4 1311.5,512.6 1312.1,507.1 1312.8,502.0 1313.5,497.2 1314.1,492.7 1314.8,488.5 1315.5,484.6 1316.2,481.0 1316.9,477.6 1317.7,474.4 1318.4,471.5 1319.1,468.8 1319.9,466.3 1320.7,464.0 1321.4,461.8 1322.2,459.8 1323.0,458.0 1323.8,456.3 1324.6,454.7 1325.5,453.3 1326.3,452.0 1327.1,450.8 1328.0,449.8 1328.9,448.9 1329.7,448.1 1330.6,447.6 1331.5,447.4 1332.3,447.6 1332.9,448.1 1333.4,448.9 1333.7,450.1 1333.9,451.6 1334.0,453.4"/>
<path d="M1340.3,690.0 1340.6,679.6 1340.9,666.4 1341.3,653.4 1341.7,640.7 1342.1,628.2 1342.5,616.1 1343.0,604.4 1343.4,593.1 1343.9,582.3 1344.3,571.8 1344.8,561.8 1345.3,552.3 1345.8,543.2 1346.3,534.6 1346.9,526.4 1347.4,518.7 1348.0,511.5 1348.5,504.6 1349.1,498.2 1349.7,492.1 1350.3,486.5 1350.9,481.2 1351.5,476.2 1352.1,471.6 1352.8,467.3 1353.4,463.3 1354.1,459.6 1354.7,456.2 1355.4,453.0 1356.1,450.0 1356.8,447.3 1357.5,444.8 1358.2,442.4 1358.9,440.3 1359.7,438.3 1360.4,436.4 1361.2,434.7 1361.9,433.2 1362.7,431.7 1363.5,430.4 1364.3,429.2 1365.1,428.1 1365.9,427.1 1366.7,426.2 1367.5,425.5 1368.4,425.0 1369.2,424.8 1370.3,425.0 1371.1,425.5 1371.8,426.3 1372.3,427.5 1372.6,429.0 1372.7,430.8"/>
<path d="M1379.2,668.0 1379.4,657.9 1379.8,644.9 1380.2,632.2 1380.6,619.6 1381.0,607.4 1381.4,595.5 1381.9,584.0 1382.3,572.9 1382.8,562.2 1383.3,552.0 1383.8,542.1 1384.3,532.7 1384.8,523.7 1385.3,515.2 1385.8,507.1 1386.4,499.4 1387.0,492.2 1387.5,485.3 1388.1,478.9 1388.7,472.8 1389.3,467.1 1389.9,461.8 1390.5,456.7 1391.2,452.1 1391.8,447.7 1392.5,443.6 1393.1,439.8 1393.8,436.3 1394.5,433.0 1395.2,430.0 1395.9,427.2 1396.6,424.5 1397.3,422.1 1398.0,419.9 1398.8,417.8 1399.5,415.9 1400.3,414.1 1401.1,412.5 1401.8,411.0 1402.6,409.6 1403.4,408.4 1404.2,407.3 1405.0,406.4 1405.8,405.6 1406.7,405.0 1407.5,404.8 1408.3,405.0 1408.9,405.5 1409.4,406.3 1409.7,407.5 1409.9,409.0 1410.0,410.8"/>
<path d="M1417.6,640.0 1417.6,639.0 1418.0,626.9 1418.4,615.0 1418.8,603.3 1419.2,591.9 1419.7,580.7 1420.1,569.8 1420.6,559.2 1421.1,548.9 1421.6,538.9 1422.1,529.3 1422.6,520.0 1423.1,511.1 1423.7,502.5 1424.2,494.3 1424.8,486.5 1425.3,479.0 1425.9,471.9 1426.5,465.1 1427.1,458.7 1427.7,452.5 1428.3,446.8 1429.0,441.3 1429.6,436.1 1430.2,431.3 1430.9,426.7 1431.6,422.4 1432.3,418.3 1432.9,414.5 1433.6,411.0 1434.3,407.7 1435.1,404.6 1435.8,401.8 1436.5,399.1 1437.2,396.7 1438.0,394.5 1438.8,392.4 1439.5,390.6 1440.3,389.0 1441.1,387.5 1441.9,386.3 1442.7,385.4 1443.5,384.8 1444.3,384.5 1445.1,384.7 1445.7,385.2 1446.2,386.0 1446.5,387.2 1446.7,388.7 1446.8,390.5"/>
<path d="M1452.2,630.0 1452.4,621.2 1452.8,606.5 1453.1,592.1 1453.5,578.1 1453.9,564.5 1454.3,551.4 1454.7,538.8 1455.1,526.8 1455.5,515.2 1456.0,504.2 1456.4,493.8 1456.9,483.9 1457.4,474.6 1457.9,465.8 1458.4,457.5 1458.9,449.8 1459.4,442.5 1459.9,435.7 1460.5,429.4 1461.0,423.5 1461.6,418.1 1462.2,413.0 1462.7,408.3 1463.3,404.0 1463.9,399.9 1464.6,396.2 1465.2,392.8 1465.8,389.7 1466.5,386.8 1467.1,384.1 1467.8,381.7 1468.4,379.4 1469.1,377.3 1469.8,375.4 1470.5,373.7 1471.2,372.1 1471.9,370.6 1472.6,369.2 1473.4,368.0 1474.1,366.8 1474.8,365.7 1475.6,364.8 1476.4,363.9 1477.1,363.1 1477.9,362.4 1478.7,361.9 1479.5,361.7 1480.3,361.9 1480.9,362.4 1481.4,363.2 1481.7,364.4 1481.9,365.9 1482.0,367.7"/>
<path d="M1488.1,625.0 1488.4,611.9 1488.7,597.2 1489.0,582.7 1489.4,568.6 1489.8,554.9 1490.2,541.6 1490.6,528.7 1491.0,516.4 1491.4,504.5 1491.8,493.2 1492.3,482.4 1492.7,472.2 1493.2,462.5 1493.7,453.3 1494.2,444.6 1494.7,436.4 1495.2,428.7 1495.7,421.5 1496.2,414.8 1496.8,408.5 1497.3,402.6 1497.9,397.2 1498.4,392.1 1499.0,387.4 1499.6,383.0 1500.2,378.9 1500.8,375.2 1501.4,371.7 1502.1,368.5 1502.7,365.5 1503.3,362.8 1504.0,360.3 1504.7,357.9 1505.3,355.8 1506.0,353.8 1506.7,352.0 1507.4,350.3 1508.1,348.8 1508.8,347.4 1509.5,346.0 1510.3,344.8 1511.0,343.8 1511.7,342.8 1512.5,341.9 1513.3,341.2 1514.0,340.6 1514.8,340.4 1515.6,340.6 1516.2,341.1 1516.7,341.9 1517.0,343.1 1517.2,344.6 1517.3,346.4"/>
<path d="M1522.3,625.0 1522.5,617.4 1522.8,602.6 1523.1,587.9 1523.5,573.5 1523.8,559.3 1524.2,545.5 1524.6,532.1 1524.9,519.1 1525.4,506.6 1525.8,494.5 1526.2,482.9 1526.6,471.8 1527.1,461.3 1527.5,451.2 1528.0,441.6 1528.5,432.6 1529.0,424.0 1529.5,415.9 1530.0,408.3 1530.5,401.2 1531.0,394.5 1531.6,388.2 1532.1,382.3 1532.7,376.9 1533.2,371.7 1533.8,367.0 1534.4,362.5 1535.0,358.4 1535.6,354.6 1536.2,351.1 1536.8,347.8 1537.5,344.8 1538.1,342.0 1538.8,339.4 1539.4,337.0 1540.1,334.7 1540.8,332.7 1541.4,330.8 1542.1,329.1 1542.8,327.5 1543.5,326.0 1544.2,324.7 1545.0,323.4 1545.7,322.4 1546.4,321.4 1547.2,320.6 1547.9,320.0 1548.7,319.8 1549.5,320.0 1550.1,320.5 1550.6,321.3 1550.9,322.5 1551.1,324.0 1551.2,325.8"/>
<path d="M1554.5,758.0 1556.5,700.0 1558.0,615.0 1558.2,527.0"/>
<path d="M288.5,897.8 288.5,901.9 288.6,906.0 288.6,910.1 288.6,914.2 288.7,918.3 288.7,922.4 288.7,926.5 288.8,930.6 288.8,934.7 288.8,938.8 288.9,942.9 288.9,947.0 288.9,951.1 289.0,955.2 289.0,959.2 289.1,963.3 289.1,967.4 289.1,971.5 289.2,975.6 289.2,979.7 289.2,983.8 289.3,987.9 289.3,992.0 289.3,996.1 289.4,1000.2 289.4,1004.3 289.4,1008.4 289.5,1012.5 289.5,1016.6"/>
<path d="M340.6,870.0 340.6,874.0 340.7,878.1 340.7,882.1 340.7,886.2 340.7,890.2 340.8,894.3 340.8,898.4 340.8,902.4 340.8,906.5 340.9,910.5 340.9,914.5 340.9,918.6 340.9,922.6 341.0,926.7 341.0,930.8 341.0,934.8 341.0,938.9 341.1,942.9 341.1,947.0 341.1,951.0 341.2,955.0 341.2,959.1 341.2,963.1 341.2,967.2 341.3,971.2 341.3,975.3 341.3,979.4 341.3,983.4 341.4,987.5 341.4,991.5 341.4,995.5 341.4,999.6 341.5,1003.6 341.5,1007.7 341.5,1011.8 341.5,1015.8 341.6,1019.9 341.6,1023.9"/>
<path d="M396.3,840.5 396.3,844.5 396.3,848.5 396.4,852.6 396.4,856.6 396.4,860.6 396.4,864.6 396.4,868.7 396.4,872.7 396.5,876.7 396.5,880.8 396.5,884.8 396.5,888.8 396.5,892.8 396.5,896.9 396.6,900.9 396.6,904.9 396.6,908.9 396.6,913.0 396.6,917.0 396.6,921.0 396.7,925.0 396.7,929.0 396.7,933.1 396.7,937.1 396.7,941.1 396.8,945.1 396.8,949.2 396.8,953.2 396.8,957.2 396.8,961.2 396.8,965.3 396.9,969.3 396.9,973.3 396.9,977.4 396.9,981.4 396.9,985.4 396.9,989.4 397.0,993.5 397.0,997.5 397.0,1001.5"/>
<path d="M452.2,817.0 452.2,821.1 452.2,825.2 452.3,829.3 452.3,833.4 452.3,837.5 452.3,841.5 452.3,845.6 452.3,849.7 452.4,853.8 452.4,857.9 452.4,862.0 452.4,866.1 452.4,870.2 452.4,874.3 452.5,878.4 452.5,882.4 452.5,886.5 452.5,890.6 452.5,894.7 452.5,898.8 452.6,902.9 452.6,907.0 452.6,911.1 452.6,915.2 452.6,919.2 452.7,923.3 452.7,927.4 452.7,931.5 452.7,935.6 452.7,939.7 452.7,943.8 452.8,947.9 452.8,952.0 452.8,956.1 452.8,960.2 452.8,964.2 452.8,968.3 452.9,972.4 452.9,976.5 452.9,980.6"/>
<path d="M509.7,793.5 509.7,797.5 509.7,801.6 509.8,805.6 509.8,809.6 509.8,813.7 509.8,817.7 509.8,821.7 509.8,825.8 509.9,829.8 509.9,833.8 509.9,837.8 509.9,841.9 509.9,845.9 509.9,849.9 510.0,854.0 510.0,858.0 510.0,862.0 510.0,866.1 510.0,870.1 510.0,874.1 510.1,878.2 510.1,882.2 510.1,886.2 510.1,890.3 510.1,894.3 510.1,898.3 510.2,902.4 510.2,906.4 510.2,910.4 510.2,914.5 510.2,918.5 510.2,922.5 510.3,926.5 510.3,930.6 510.3,934.6 510.3,938.6 510.3,942.7 510.3,946.7 510.4,950.7 510.4,954.8 510.4,958.8"/>
<path d="M566.5,768.0 566.5,772.0 566.5,776.0 566.6,780.0 566.6,784.0 566.6,788.0 566.6,792.0 566.6,796.0 566.6,800.0 566.7,804.0 566.7,808.0 566.7,812.0 566.7,816.0 566.7,820.0 566.8,824.0 566.8,828.0 566.8,832.0 566.8,836.0 566.8,840.0 566.9,844.0 566.9,848.0 566.9,852.0 566.9,856.0 566.9,860.0 566.9,864.0 567.0,868.0 567.0,872.0 567.0,876.0 567.0,880.0 567.0,884.0 567.1,888.0 567.1,892.0 567.1,896.0 567.1,900.0 567.1,904.0 567.2,908.0 567.2,912.0 567.2,916.0 567.2,920.0 567.2,924.0 567.2,928.0 567.3,932.0 567.3,936.0 567.3,940.0"/>
<path d="M622.8,748.0 622.8,752.0 622.8,756.0 622.8,760.1 622.9,764.1 622.9,768.1 622.9,772.1 622.9,776.2 622.9,780.2 622.9,784.2 623.0,788.2 623.0,792.3 623.0,796.3 623.0,800.3 623.0,804.3 623.0,808.3 623.1,812.4 623.1,816.4 623.1,820.4 623.1,824.4 623.1,828.5 623.1,832.5 623.2,836.5 623.2,840.5 623.2,844.6 623.2,848.6 623.2,852.6 623.2,856.6 623.3,860.7 623.3,864.7 623.3,868.7 623.3,872.7 623.3,876.7 623.3,880.8 623.4,884.8 623.4,888.8 623.4,892.8 623.4,896.9 623.4,900.9 623.4,904.9 623.5,908.9 623.5,913.0 623.5,917.0 623.5,921.0"/>
<path d="M679.1,727.0 679.1,731.1 679.1,735.1 679.1,739.2 679.2,743.2 679.2,747.3 679.2,751.4 679.2,755.4 679.2,759.5 679.2,763.5 679.3,767.6 679.3,771.6 679.3,775.7 679.3,779.8 679.3,783.8 679.3,787.9 679.4,791.9 679.4,796.0 679.4,800.1 679.4,804.1 679.4,808.2 679.4,812.2 679.4,816.3 679.5,820.4 679.5,824.4 679.5,828.5 679.5,832.5 679.5,836.6 679.5,840.7 679.6,844.7 679.6,848.8 679.6,852.8 679.6,856.9 679.6,861.0 679.6,865.0 679.7,869.1 679.7,873.1 679.7,877.2 679.7,881.2 679.7,885.3 679.7,889.4 679.8,893.4 679.8,897.5 679.8,901.5 679.8,905.6"/>
<path d="M733.4,706.0 733.4,710.1 733.4,714.1 733.4,718.2 733.5,722.2 733.5,726.3 733.5,730.3 733.5,734.4 733.5,738.4 733.5,742.5 733.6,746.5 733.6,750.6 733.6,754.6 733.6,758.7 733.6,762.7 733.6,766.8 733.6,770.9 733.7,774.9 733.7,779.0 733.7,783.0 733.7,787.1 733.7,791.1 733.7,795.2 733.8,799.2 733.8,803.3 733.8,807.3 733.8,811.4 733.8,815.4 733.8,819.5 733.9,823.5 733.9,827.6 733.9,831.7 733.9,835.7 733.9,839.8 733.9,843.8 733.9,847.9 734.0,851.9 734.0,856.0 734.0,860.0 734.0,864.1 734.0,868.1 734.0,872.2 734.1,876.2 734.1,880.3 734.1,884.3 734.1,888.4"/>
<path d="M787.0,687.0 787.0,691.0 787.0,695.1 787.0,699.1 787.1,703.2 787.1,707.2 787.1,711.2 787.1,715.3 787.1,719.3 787.1,723.4 787.2,727.4 787.2,731.4 787.2,735.5 787.2,739.5 787.2,743.6 787.2,747.6 787.2,751.6 787.3,755.7 787.3,759.7 787.3,763.8 787.3,767.8 787.3,771.8 787.3,775.9 787.4,779.9 787.4,784.0 787.4,788.0 787.4,792.0 787.4,796.1 787.4,800.1 787.5,804.2 787.5,808.2 787.5,812.2 787.5,816.3 787.5,820.3 787.5,824.4 787.5,828.4 787.6,832.4 787.6,836.5 787.6,840.5 787.6,844.6 787.6,848.6 787.6,852.6 787.7,856.7 787.7,860.7 787.7,864.8 787.7,868.8"/>
<path d="M839.7,666.0 839.7,670.0 839.7,674.0 839.7,678.1 839.8,682.1 839.8,686.1 839.8,690.1 839.8,694.2 839.8,698.2 839.8,702.2 839.9,706.2 839.9,710.2 839.9,714.3 839.9,718.3 839.9,722.3 839.9,726.3 839.9,730.3 840.0,734.4 840.0,738.4 840.0,742.4 840.0,746.4 840.0,750.5 840.0,754.5 840.0,758.5 840.1,762.5 840.1,766.5 840.1,770.6 840.1,774.6 840.1,778.6 840.1,782.6 840.2,786.7 840.2,790.7 840.2,794.7 840.2,798.7 840.2,802.7 840.2,806.8 840.2,810.8 840.3,814.8 840.3,818.8 840.3,822.8 840.3,826.9 840.3,830.9 840.3,834.9 840.4,838.9 840.4,843.0 840.4,847.0 840.4,851.0"/>
<path d="M890.8,646.0 890.8,650.0 890.8,654.0 890.8,658.0 890.9,662.0 890.9,666.0 890.9,670.0 890.9,674.0 890.9,678.0 890.9,682.0 890.9,686.0 891.0,690.0 891.0,694.0 891.0,698.0 891.0,702.0 891.0,706.0 891.0,710.0 891.1,714.0 891.1,718.0 891.1,722.0 891.1,726.0 891.1,730.0 891.1,734.0 891.1,738.0 891.2,742.0 891.2,746.0 891.2,750.0 891.2,754.0 891.2,758.0 891.2,762.0 891.2,766.0 891.3,770.0 891.3,774.0 891.3,778.0 891.3,782.0 891.3,786.0 891.3,790.0 891.4,794.0 891.4,798.0 891.4,802.0 891.4,806.0 891.4,810.0 891.4,814.0 891.4,818.0 891.5,822.0 891.5,826.0 891.5,830.0 891.5,834.0"/>
<path d="M940.5,627.9 940.5,631.9 940.5,636.0 940.5,640.0 940.6,644.1 940.6,648.1 940.6,652.2 940.6,656.2 940.6,660.3 940.6,664.3 940.6,668.3 940.7,672.4 940.7,676.4 940.7,680.5 940.7,684.5 940.7,688.6 940.7,692.6 940.8,696.7 940.8,700.7 940.8,704.7 940.8,708.8 940.8,712.8 940.8,716.9 940.8,720.9 940.9,725.0 940.9,729.0 940.9,733.1 940.9,737.1 940.9,741.2 940.9,745.2 940.9,749.2 941.0,753.3 941.0,757.3 941.0,761.4 941.0,765.4 941.0,769.5 941.0,773.5 941.1,777.6 941.1,781.6 941.1,785.6 941.1,789.7 941.1,793.7 941.1,797.8 941.1,801.8 941.2,805.9 941.2,809.9 941.2,814.0 941.2,818.0"/>
<path d="M988.5,607.5 988.5,611.6 988.5,615.6 988.5,619.7 988.6,623.8 988.6,627.9 988.6,631.9 988.6,636.0 988.6,640.1 988.6,644.2 988.6,648.2 988.7,652.3 988.7,656.4 988.7,660.4 988.7,664.5 988.7,668.6 988.7,672.7 988.7,676.7 988.8,680.8 988.8,684.9 988.8,689.0 988.8,693.0 988.8,697.1 988.8,701.2 988.9,705.2 988.9,709.3 988.9,713.4 988.9,717.5 988.9,721.5 988.9,725.6 988.9,729.7 989.0,733.8 989.0,737.8 989.0,741.9 989.0,746.0 989.0,750.1 989.0,754.1 989.0,758.2 989.1,762.3 989.1,766.3 989.1,770.4 989.1,774.5 989.1,778.6 989.1,782.6 989.1,786.7 989.2,790.8 989.2,794.9 989.2,798.9 989.2,803.0"/>
<path d="M1036.2,587.0 1036.2,591.0 1036.2,595.0 1036.2,599.0 1036.3,603.0 1036.3,607.0 1036.3,611.0 1036.3,615.0 1036.3,619.0 1036.3,623.0 1036.3,627.0 1036.4,631.0 1036.4,635.0 1036.4,639.0 1036.4,643.0 1036.4,647.0 1036.4,651.0 1036.4,655.0 1036.5,659.0 1036.5,663.0 1036.5,667.0 1036.5,671.0 1036.5,675.0 1036.5,679.0 1036.5,683.0 1036.6,687.0 1036.6,691.0 1036.6,695.0 1036.6,699.0 1036.6,703.0 1036.6,707.0 1036.6,711.0 1036.6,715.0 1036.7,719.0 1036.7,723.0 1036.7,727.0 1036.7,731.0 1036.7,735.0 1036.7,739.0 1036.7,743.0 1036.8,747.0 1036.8,751.0 1036.8,755.0 1036.8,759.0 1036.8,763.0 1036.8,767.0 1036.8,771.0 1036.9,775.0 1036.9,779.0 1036.9,783.0 1036.9,787.0"/>
<path d="M1082.1,568.0 1082.1,572.0 1082.1,576.0 1082.1,580.0 1082.2,584.0 1082.2,588.0 1082.2,592.0 1082.2,596.0 1082.2,600.0 1082.2,604.0 1082.2,608.0 1082.3,612.0 1082.3,616.0 1082.3,620.0 1082.3,624.0 1082.3,628.0 1082.3,632.0 1082.3,636.0 1082.3,640.0 1082.4,644.0 1082.4,648.0 1082.4,652.0 1082.4,656.0 1082.4,660.0 1082.4,664.0 1082.4,668.0 1082.5,672.0 1082.5,676.0 1082.5,680.0 1082.5,684.0 1082.5,688.0 1082.5,692.0 1082.5,696.0 1082.6,700.0 1082.6,704.0 1082.6,708.0 1082.6,712.0 1082.6,716.0 1082.6,720.0 1082.6,724.0 1082.6,728.0 1082.7,732.0 1082.7,736.0 1082.7,740.0 1082.7,744.0 1082.7,748.0 1082.7,752.0 1082.7,756.0 1082.8,760.0 1082.8,764.0 1082.8,768.0 1082.8,772.0"/>
<path d="M1126.8,546.0 1126.8,550.0 1126.8,554.1 1126.8,558.1 1126.9,562.2 1126.9,566.2 1126.9,570.2 1126.9,574.3 1126.9,578.3 1126.9,582.3 1126.9,586.4 1126.9,590.4 1127.0,594.5 1127.0,598.5 1127.0,602.5 1127.0,606.6 1127.0,610.6 1127.0,614.7 1127.0,618.7 1127.1,622.7 1127.1,626.8 1127.1,630.8 1127.1,634.8 1127.1,638.9 1127.1,642.9 1127.1,647.0 1127.2,651.0 1127.2,655.0 1127.2,659.1 1127.2,663.1 1127.2,667.2 1127.2,671.2 1127.2,675.2 1127.2,679.3 1127.3,683.3 1127.3,687.3 1127.3,691.4 1127.3,695.4 1127.3,699.5 1127.3,703.5 1127.3,707.5 1127.4,711.6 1127.4,715.6 1127.4,719.7 1127.4,723.7 1127.4,727.7 1127.4,731.8 1127.4,735.8 1127.4,739.8 1127.5,743.9 1127.5,747.9 1127.5,752.0 1127.5,756.0"/>
<path d="M1170.8,528.0 1170.8,532.0 1170.8,536.1 1170.8,540.1 1170.9,544.2 1170.9,548.2 1170.9,552.2 1170.9,556.3 1170.9,560.3 1170.9,564.3 1170.9,568.4 1170.9,572.4 1171.0,576.5 1171.0,580.5 1171.0,584.5 1171.0,588.6 1171.0,592.6 1171.0,596.7 1171.0,600.7 1171.1,604.7 1171.1,608.8 1171.1,612.8 1171.1,616.8 1171.1,620.9 1171.1,624.9 1171.1,629.0 1171.2,633.0 1171.2,637.0 1171.2,641.1 1171.2,645.1 1171.2,649.2 1171.2,653.2 1171.2,657.2 1171.2,661.3 1171.3,665.3 1171.3,669.3 1171.3,673.4 1171.3,677.4 1171.3,681.5 1171.3,685.5 1171.3,689.5 1171.4,693.6 1171.4,697.6 1171.4,701.7 1171.4,705.7 1171.4,709.7 1171.4,713.8 1171.4,717.8 1171.4,721.8 1171.5,725.9 1171.5,729.9 1171.5,734.0 1171.5,738.0"/>
<path d="M1213.0,509.8 1213.0,513.8 1213.0,517.9 1213.0,521.9 1213.1,526.0 1213.1,530.0 1213.1,534.0 1213.1,538.1 1213.1,542.1 1213.1,546.2 1213.1,550.2 1213.1,554.3 1213.2,558.3 1213.2,562.3 1213.2,566.4 1213.2,570.4 1213.2,574.5 1213.2,578.5 1213.2,582.5 1213.3,586.6 1213.3,590.6 1213.3,594.7 1213.3,598.7 1213.3,602.8 1213.3,606.8 1213.3,610.8 1213.3,614.9 1213.4,618.9 1213.4,623.0 1213.4,627.0 1213.4,631.0 1213.4,635.1 1213.4,639.1 1213.4,643.2 1213.4,647.2 1213.5,651.3 1213.5,655.3 1213.5,659.3 1213.5,663.4 1213.5,667.4 1213.5,671.5 1213.5,675.5 1213.6,679.5 1213.6,683.6 1213.6,687.6 1213.6,691.7 1213.6,695.7 1213.6,699.8 1213.6,703.8 1213.6,707.8 1213.7,711.9 1213.7,715.9 1213.7,720.0 1213.7,724.0"/>
<path d="M1254.8,490.8 1254.8,494.9 1254.8,498.9 1254.8,503.0 1254.9,507.0 1254.9,511.1 1254.9,515.2 1254.9,519.2 1254.9,523.3 1254.9,527.3 1254.9,531.4 1254.9,535.5 1255.0,539.5 1255.0,543.6 1255.0,547.6 1255.0,551.7 1255.0,555.7 1255.0,559.8 1255.0,563.9 1255.0,567.9 1255.1,572.0 1255.1,576.0 1255.1,580.1 1255.1,584.2 1255.1,588.2 1255.1,592.3 1255.1,596.3 1255.2,600.4 1255.2,604.5 1255.2,608.5 1255.2,612.6 1255.2,616.6 1255.2,620.7 1255.2,624.8 1255.2,628.8 1255.3,632.9 1255.3,636.9 1255.3,641.0 1255.3,645.1 1255.3,649.1 1255.3,653.2 1255.3,657.2 1255.3,661.3 1255.4,665.3 1255.4,669.4 1255.4,673.5 1255.4,677.5 1255.4,681.6 1255.4,685.6 1255.4,689.7 1255.4,693.8 1255.5,697.8 1255.5,701.9 1255.5,705.9 1255.5,710.0"/>
<path d="M1295.1,470.8 1295.1,474.9 1295.1,478.9 1295.1,483.0 1295.2,487.0 1295.2,491.1 1295.2,495.1 1295.2,499.2 1295.2,503.3 1295.2,507.3 1295.2,511.4 1295.2,515.4 1295.3,519.5 1295.3,523.6 1295.3,527.6 1295.3,531.7 1295.3,535.7 1295.3,539.8 1295.3,543.8 1295.3,547.9 1295.4,552.0 1295.4,556.0 1295.4,560.1 1295.4,564.1 1295.4,568.2 1295.4,572.3 1295.4,576.3 1295.4,580.4 1295.5,584.4 1295.5,588.5 1295.5,592.5 1295.5,596.6 1295.5,600.7 1295.5,604.7 1295.5,608.8 1295.5,612.8 1295.6,616.9 1295.6,621.0 1295.6,625.0 1295.6,629.1 1295.6,633.1 1295.6,637.2 1295.6,641.2 1295.6,645.3 1295.7,649.4 1295.7,653.4 1295.7,657.5 1295.7,661.5 1295.7,665.6 1295.7,669.7 1295.7,673.7 1295.7,677.8 1295.8,681.8 1295.8,685.9 1295.8,689.9 1295.8,694.0"/>
<path d="M1334.3,453.4 1334.3,457.4 1334.3,461.4 1334.3,465.4 1334.3,469.4 1334.4,473.5 1334.4,477.5 1334.4,481.5 1334.4,485.5 1334.4,489.5 1334.4,493.5 1334.4,497.5 1334.5,501.5 1334.5,505.5 1334.5,509.6 1334.5,513.6 1334.5,517.6 1334.5,521.6 1334.5,525.6 1334.5,529.6 1334.5,533.6 1334.6,537.6 1334.6,541.6 1334.6,545.6 1334.6,549.7 1334.6,553.7 1334.6,557.7 1334.6,561.7 1334.7,565.7 1334.7,569.7 1334.7,573.7 1334.7,577.7 1334.7,581.7 1334.7,585.8 1334.7,589.8 1334.7,593.8 1334.8,597.8 1334.8,601.8 1334.8,605.8 1334.8,609.8 1334.8,613.8 1334.8,617.8 1334.8,621.9 1334.8,625.9 1334.8,629.9 1334.9,633.9 1334.9,637.9 1334.9,641.9 1334.9,645.9 1334.9,649.9 1334.9,653.9 1334.9,657.9 1335.0,662.0 1335.0,666.0 1335.0,670.0 1335.0,674.0 1335.0,678.0"/>
<path d="M1373.0,430.8 1373.0,434.8 1373.0,438.8 1373.0,442.9 1373.0,446.9 1373.1,450.9 1373.1,454.9 1373.1,458.9 1373.1,463.0 1373.1,467.0 1373.1,471.0 1373.1,475.0 1373.1,479.0 1373.2,483.1 1373.2,487.1 1373.2,491.1 1373.2,495.1 1373.2,499.2 1373.2,503.2 1373.2,507.2 1373.2,511.2 1373.3,515.2 1373.3,519.3 1373.3,523.3 1373.3,527.3 1373.3,531.3 1373.3,535.3 1373.3,539.4 1373.3,543.4 1373.3,547.4 1373.4,551.4 1373.4,555.4 1373.4,559.5 1373.4,563.5 1373.4,567.5 1373.4,571.5 1373.4,575.5 1373.4,579.6 1373.5,583.6 1373.5,587.6 1373.5,591.6 1373.5,595.6 1373.5,599.7 1373.5,603.7 1373.5,607.7 1373.5,611.7 1373.6,615.8 1373.6,619.8 1373.6,623.8 1373.6,627.8 1373.6,631.8 1373.6,635.9 1373.6,639.9 1373.6,643.9 1373.7,647.9 1373.7,651.9 1373.7,656.0 1373.7,660.0 1373.7,664.0"/>
<path d="M1410.3,410.8 1410.3,414.8 1410.3,418.9 1410.3,422.9 1410.3,426.9 1410.4,431.0 1410.4,435.0 1410.4,439.1 1410.4,443.1 1410.4,447.1 1410.4,451.2 1410.4,455.2 1410.4,459.2 1410.5,463.3 1410.5,467.3 1410.5,471.4 1410.5,475.4 1410.5,479.4 1410.5,483.5 1410.5,487.5 1410.5,491.5 1410.5,495.6 1410.6,499.6 1410.6,503.7 1410.6,507.7 1410.6,511.7 1410.6,515.8 1410.6,519.8 1410.6,523.8 1410.6,527.9 1410.7,531.9 1410.7,536.0 1410.7,540.0 1410.7,544.0 1410.7,548.1 1410.7,552.1 1410.7,556.1 1410.7,560.2 1410.8,564.2 1410.8,568.3 1410.8,572.3 1410.8,576.3 1410.8,580.4 1410.8,584.4 1410.8,588.4 1410.8,592.5 1410.8,596.5 1410.9,600.6 1410.9,604.6 1410.9,608.6 1410.9,612.7 1410.9,616.7 1410.9,620.7 1410.9,624.8 1410.9,628.8 1411.0,632.9 1411.0,636.9 1411.0,640.9 1411.0,645.0 1411.0,649.0"/>
<path d="M1447.1,390.5 1447.1,394.6 1447.1,398.6 1447.1,402.7 1447.1,406.7 1447.2,410.8 1447.2,414.9 1447.2,418.9 1447.2,423.0 1447.2,427.0 1447.2,431.1 1447.2,435.1 1447.2,439.2 1447.3,443.3 1447.3,447.3 1447.3,451.4 1447.3,455.4 1447.3,459.5 1447.3,463.6 1447.3,467.6 1447.3,471.7 1447.3,475.7 1447.4,479.8 1447.4,483.8 1447.4,487.9 1447.4,492.0 1447.4,496.0 1447.4,500.1 1447.4,504.1 1447.4,508.2 1447.4,512.2 1447.5,516.3 1447.5,520.4 1447.5,524.4 1447.5,528.5 1447.5,532.5 1447.5,536.6 1447.5,540.7 1447.5,544.7 1447.6,548.8 1447.6,552.8 1447.6,556.9 1447.6,561.0 1447.6,565.0 1447.6,569.1 1447.6,573.1 1447.6,577.2 1447.6,581.2 1447.7,585.3 1447.7,589.4 1447.7,593.4 1447.7,597.5 1447.7,601.5 1447.7,605.6 1447.7,609.6 1447.7,613.7 1447.8,617.8 1447.8,621.8 1447.8,625.9 1447.8,629.9 1447.8,634.0"/>
<path d="M1482.3,367.7 1482.3,371.8 1482.3,375.8 1482.3,379.9 1482.3,383.9 1482.4,388.0 1482.4,392.0 1482.4,396.1 1482.4,400.1 1482.4,404.2 1482.4,408.2 1482.4,412.3 1482.4,416.3 1482.4,420.4 1482.5,424.4 1482.5,428.5 1482.5,432.6 1482.5,436.6 1482.5,440.7 1482.5,444.7 1482.5,448.8 1482.5,452.8 1482.5,456.9 1482.6,460.9 1482.6,465.0 1482.6,469.0 1482.6,473.1 1482.6,477.1 1482.6,481.2 1482.6,485.2 1482.6,489.3 1482.7,493.4 1482.7,497.4 1482.7,501.5 1482.7,505.5 1482.7,509.6 1482.7,513.6 1482.7,517.7 1482.7,521.7 1482.7,525.8 1482.8,529.8 1482.8,533.9 1482.8,537.9 1482.8,542.0 1482.8,546.0 1482.8,550.1 1482.8,554.1 1482.8,558.2 1482.8,562.3 1482.9,566.3 1482.9,570.4 1482.9,574.4 1482.9,578.5 1482.9,582.5 1482.9,586.6 1482.9,590.6 1482.9,594.7 1482.9,598.7 1483.0,602.8 1483.0,606.8 1483.0,610.9 1483.0,614.9 1483.0,619.0"/>
<path d="M1517.6,346.4 1517.6,350.4 1517.6,354.4 1517.6,358.5 1517.6,362.5 1517.7,366.5 1517.7,370.5 1517.7,374.6 1517.7,378.6 1517.7,382.6 1517.7,386.6 1517.7,390.7 1517.7,394.7 1517.7,398.7 1517.8,402.8 1517.8,406.8 1517.8,410.8 1517.8,414.8 1517.8,418.8 1517.8,422.9 1517.8,426.9 1517.8,430.9 1517.8,434.9 1517.9,439.0 1517.9,443.0 1517.9,447.0 1517.9,451.0 1517.9,455.1 1517.9,459.1 1517.9,463.1 1517.9,467.1 1517.9,471.2 1517.9,475.2 1518.0,479.2 1518.0,483.2 1518.0,487.3 1518.0,491.3 1518.0,495.3 1518.0,499.4 1518.0,503.4 1518.0,507.4 1518.0,511.4 1518.1,515.5 1518.1,519.5 1518.1,523.5 1518.1,527.5 1518.1,531.5 1518.1,535.6 1518.1,539.6 1518.1,543.6 1518.1,547.6 1518.2,551.7 1518.2,555.7 1518.2,559.7 1518.2,563.8 1518.2,567.8 1518.2,571.8 1518.2,575.8 1518.2,579.9 1518.2,583.9 1518.3,587.9 1518.3,591.9 1518.3,596.0 1518.3,600.0 1518.3,604.0"/>
<path d="M1551.5,325.8 1551.5,329.8 1551.5,333.9 1551.5,337.9 1551.5,341.9 1551.6,346.0 1551.6,350.0 1551.6,354.0 1551.6,358.1 1551.6,362.1 1551.6,366.1 1551.6,370.2 1551.6,374.2 1551.6,378.2 1551.7,382.3 1551.7,386.3 1551.7,390.3 1551.7,394.4 1551.7,398.4 1551.7,402.4 1551.7,406.5 1551.7,410.5 1551.7,414.5 1551.7,418.6 1551.8,422.6 1551.8,426.6 1551.8,430.7 1551.8,434.7 1551.8,438.7 1551.8,442.8 1551.8,446.8 1551.8,450.8 1551.8,454.9 1551.9,458.9 1551.9,463.0 1551.9,467.0 1551.9,471.0 1551.9,475.1 1551.9,479.1 1551.9,483.1 1551.9,487.2 1551.9,491.2 1552.0,495.2 1552.0,499.3 1552.0,503.3 1552.0,507.3 1552.0,511.4 1552.0,515.4 1552.0,519.4 1552.0,523.5 1552.0,527.5 1552.0,531.5 1552.1,535.6 1552.1,539.6 1552.1,543.6 1552.1,547.7 1552.1,551.7 1552.1,555.7 1552.1,559.8 1552.1,563.8 1552.1,567.8 1552.2,571.9 1552.2,575.9 1552.2,579.9 1552.2,584.0 1552.2,588.0"/>
</g>
<g fill="#000">
<circle cx="288.5" cy="897.8" r="2.3"/>
<circle cx="290.1" cy="1022.1" r="2.3"/>
<circle cx="290.6" cy="1027.6" r="2.3"/>
<circle cx="291.2" cy="1033.1" r="2.3"/>
<circle cx="291.7" cy="1038.5" r="2.3"/>
<circle cx="292.3" cy="1044.0" r="2.3"/>
<circle cx="292.8" cy="1049.5" r="2.3"/>
<circle cx="293.4" cy="1055.0" r="2.3"/>
<circle cx="342.6" cy="1029.4" r="2.3"/>
<circle cx="343.6" cy="1035.0" r="2.3"/>
<circle cx="344.6" cy="1040.5" r="2.3"/>
<circle cx="345.6" cy="1046.0" r="2.3"/>
<circle cx="395.7" cy="804.0" r="2.3"/>
<circle cx="396.3" cy="813.0" r="2.3"/>
<circle cx="396.3" cy="832.1" r="2.3"/>
<circle cx="396.3" cy="840.5" r="2.3"/>
<circle cx="397.7" cy="1007.1" r="2.3"/>
<circle cx="398.4" cy="1012.7" r="2.3"/>
<circle cx="399.1" cy="1018.2" r="2.3"/>
<circle cx="399.8" cy="1023.8" r="2.3"/>
<circle cx="400.5" cy="1029.4" r="2.3"/>
<circle cx="401.2" cy="1035.0" r="2.3"/>
<circle cx="451.6" cy="746.0" r="2.3"/>
<circle cx="452.2" cy="759.1" r="2.3"/>
<circle cx="452.2" cy="770.2" r="2.3"/>
<circle cx="452.2" cy="779.3" r="2.3"/>
<circle cx="452.2" cy="796.7" r="2.3"/>
<circle cx="452.2" cy="801.2" r="2.3"/>
<circle cx="452.2" cy="817.0" r="2.3"/>
<circle cx="453.5" cy="986.2" r="2.3"/>
<circle cx="454.0" cy="991.8" r="2.3"/>
<circle cx="454.6" cy="997.4" r="2.3"/>
<circle cx="455.2" cy="1003.0" r="2.3"/>
<circle cx="455.8" cy="1008.7" r="2.3"/>
<circle cx="456.4" cy="1014.3" r="2.3"/>
<circle cx="456.9" cy="1019.9" r="2.3"/>
<circle cx="457.5" cy="1025.5" r="2.3"/>
<circle cx="509.1" cy="692.5" r="2.3"/>
<circle cx="509.7" cy="709.3" r="2.3"/>
<circle cx="509.7" cy="713.9" r="2.3"/>
<circle cx="509.7" cy="733.2" r="2.3"/>
<circle cx="509.7" cy="741.8" r="2.3"/>
<circle cx="509.7" cy="755.0" r="2.3"/>
<circle cx="509.7" cy="770.6" r="2.3"/>
<circle cx="509.7" cy="777.3" r="2.3"/>
<circle cx="509.7" cy="793.5" r="2.3"/>
<circle cx="510.7" cy="964.0" r="2.3"/>
<circle cx="511.1" cy="969.2" r="2.3"/>
<circle cx="511.4" cy="974.4" r="2.3"/>
<circle cx="511.7" cy="979.6" r="2.3"/>
<circle cx="512.0" cy="984.8" r="2.3"/>
<circle cx="512.4" cy="990.0" r="2.3"/>
<circle cx="512.7" cy="995.2" r="2.3"/>
<circle cx="513.0" cy="1000.4" r="2.3"/>
<circle cx="513.3" cy="1005.6" r="2.3"/>
<circle cx="513.7" cy="1010.8" r="2.3"/>
<circle cx="514.0" cy="1016.0" r="2.3"/>
<circle cx="566.0" cy="641.0" r="2.3"/>
<circle cx="566.5" cy="641.3" r="2.3"/>
<circle cx="566.5" cy="648.0" r="2.3"/>
<circle cx="566.5" cy="657.0" r="2.3"/>
<circle cx="566.5" cy="665.0" r="2.3"/>
<circle cx="566.5" cy="674.0" r="2.3"/>
<circle cx="566.5" cy="686.7" r="2.3"/>
<circle cx="566.5" cy="696.6" r="2.3"/>
<circle cx="566.5" cy="711.0" r="2.3"/>
<circle cx="566.5" cy="726.0" r="2.3"/>
<circle cx="566.5" cy="730.6" r="2.3"/>
<circle cx="566.5" cy="747.7" r="2.3"/>
<circle cx="566.5" cy="759.0" r="2.3"/>
<circle cx="566.5" cy="768.0" r="2.3"/>
<circle cx="567.6" cy="945.0" r="2.3"/>
<circle cx="567.9" cy="950.0" r="2.3"/>
<circle cx="568.2" cy="955.0" r="2.3"/>
<circle cx="568.5" cy="960.0" r="2.3"/>
<circle cx="568.8" cy="965.0" r="2.3"/>
<circle cx="569.1" cy="970.0" r="2.3"/>
<circle cx="569.5" cy="975.0" r="2.3"/>
<circle cx="569.8" cy="980.0" r="2.3"/>
<circle cx="570.1" cy="985.0" r="2.3"/>
<circle cx="570.4" cy="990.0" r="2.3"/>
<circle cx="570.7" cy="995.0" r="2.3"/>
<circle cx="571.0" cy="1000.0" r="2.3"/>
<circle cx="571.3" cy="1005.0" r="2.3"/>
<circle cx="622.2" cy="591.3" r="2.3"/>
<circle cx="622.8" cy="600.4" r="2.3"/>
<circle cx="622.8" cy="620.1" r="2.3"/>
<circle cx="622.8" cy="629.6" r="2.3"/>
<circle cx="622.8" cy="642.4" r="2.3"/>
<circle cx="622.8" cy="659.5" r="2.3"/>
<circle cx="622.8" cy="665.5" r="2.3"/>
<circle cx="622.8" cy="687.3" r="2.3"/>
<circle cx="622.8" cy="691.7" r="2.3"/>
<circle cx="622.8" cy="711.7" r="2.3"/>
<circle cx="622.8" cy="720.8" r="2.3"/>
<circle cx="622.8" cy="734.0" r="2.3"/>
<circle cx="622.8" cy="748.0" r="2.3"/>
<circle cx="623.8" cy="926.3" r="2.3"/>
<circle cx="624.1" cy="931.7" r="2.3"/>
<circle cx="624.4" cy="937.0" r="2.3"/>
<circle cx="624.6" cy="942.4" r="2.3"/>
<circle cx="624.9" cy="947.7" r="2.3"/>
<circle cx="625.2" cy="953.1" r="2.3"/>
<circle cx="625.5" cy="958.4" r="2.3"/>
<circle cx="625.8" cy="963.7" r="2.3"/>
<circle cx="626.1" cy="969.1" r="2.3"/>
<circle cx="626.4" cy="974.4" r="2.3"/>
<circle cx="626.6" cy="979.8" r="2.3"/>
<circle cx="626.9" cy="985.1" r="2.3"/>
<circle cx="627.2" cy="990.5" r="2.3"/>
<circle cx="627.5" cy="995.8" r="2.3"/>
<circle cx="678.5" cy="543.0" r="2.3"/>
<circle cx="679.1" cy="553.9" r="2.3"/>
<circle cx="679.1" cy="575.7" r="2.3"/>
<circle cx="679.1" cy="580.8" r="2.3"/>
<circle cx="679.1" cy="603.7" r="2.3"/>
<circle cx="679.1" cy="611.1" r="2.3"/>
<circle cx="679.1" cy="628.7" r="2.3"/>
<circle cx="679.1" cy="643.4" r="2.3"/>
<circle cx="679.1" cy="653.1" r="2.3"/>
<circle cx="679.1" cy="674.7" r="2.3"/>
<circle cx="679.1" cy="679.8" r="2.3"/>
<circle cx="679.1" cy="702.9" r="2.3"/>
<circle cx="679.1" cy="710.0" r="2.3"/>
<circle cx="679.1" cy="727.0" r="2.3"/>
<circle cx="680.0" cy="910.9" r="2.3"/>
<circle cx="680.2" cy="916.2" r="2.3"/>
<circle cx="680.5" cy="921.5" r="2.3"/>
<circle cx="680.7" cy="926.8" r="2.3"/>
<circle cx="680.9" cy="932.1" r="2.3"/>
<circle cx="681.1" cy="937.4" r="2.3"/>
<circle cx="681.3" cy="942.7" r="2.3"/>
<circle cx="681.6" cy="947.9" r="2.3"/>
<circle cx="681.8" cy="953.2" r="2.3"/>
<circle cx="682.0" cy="958.5" r="2.3"/>
<circle cx="682.2" cy="963.8" r="2.3"/>
<circle cx="682.4" cy="969.1" r="2.3"/>
<circle cx="682.7" cy="974.4" r="2.3"/>
<circle cx="682.9" cy="979.7" r="2.3"/>
<circle cx="683.1" cy="985.0" r="2.3"/>
<circle cx="732.8" cy="502.5" r="2.3"/>
<circle cx="733.4" cy="519.5" r="2.3"/>
<circle cx="733.4" cy="531.1" r="2.3"/>
<circle cx="733.4" cy="544.4" r="2.3"/>
<circle cx="733.4" cy="564.1" r="2.3"/>
<circle cx="733.4" cy="570.6" r="2.3"/>
<circle cx="733.4" cy="594.6" r="2.3"/>
<circle cx="733.4" cy="600.1" r="2.3"/>
<circle cx="733.4" cy="621.5" r="2.3"/>
<circle cx="733.4" cy="632.6" r="2.3"/>
<circle cx="733.4" cy="646.4" r="2.3"/>
<circle cx="733.4" cy="665.7" r="2.3"/>
<circle cx="733.4" cy="672.4" r="2.3"/>
<circle cx="733.4" cy="696.4" r="2.3"/>
<circle cx="733.4" cy="706.0" r="2.3"/>
<circle cx="734.3" cy="893.7" r="2.3"/>
<circle cx="734.6" cy="899.0" r="2.3"/>
<circle cx="734.8" cy="904.3" r="2.3"/>
<circle cx="735.0" cy="909.5" r="2.3"/>
<circle cx="735.3" cy="914.8" r="2.3"/>
<circle cx="735.5" cy="920.1" r="2.3"/>
<circle cx="735.7" cy="925.4" r="2.3"/>
<circle cx="736.0" cy="930.7" r="2.3"/>
<circle cx="736.2" cy="936.0" r="2.3"/>
<circle cx="736.4" cy="941.3" r="2.3"/>
<circle cx="736.6" cy="946.6" r="2.3"/>
<circle cx="736.9" cy="951.9" r="2.3"/>
<circle cx="737.1" cy="957.1" r="2.3"/>
<circle cx="737.3" cy="962.4" r="2.3"/>
<circle cx="737.6" cy="967.7" r="2.3"/>
<circle cx="737.8" cy="973.0" r="2.3"/>
<circle cx="786.4" cy="457.0" r="2.3"/>
<circle cx="787.0" cy="477.2" r="2.3"/>
<circle cx="787.0" cy="482.7" r="2.3"/>
<circle cx="787.0" cy="507.1" r="2.3"/>
<circle cx="787.0" cy="515.9" r="2.3"/>
<circle cx="787.0" cy="534.0" r="2.3"/>
<circle cx="787.0" cy="550.9" r="2.3"/>
<circle cx="787.0" cy="560.6" r="2.3"/>
<circle cx="787.0" cy="584.5" r="2.3"/>
<circle cx="787.0" cy="590.0" r="2.3"/>
<circle cx="787.0" cy="614.6" r="2.3"/>
<circle cx="787.0" cy="623.0" r="2.3"/>
<circle cx="787.0" cy="641.6" r="2.3"/>
<circle cx="787.0" cy="657.9" r="2.3"/>
<circle cx="787.0" cy="668.2" r="2.3"/>
<circle cx="787.0" cy="687.0" r="2.3"/>
<circle cx="787.9" cy="874.1" r="2.3"/>
<circle cx="788.2" cy="879.3" r="2.3"/>
<circle cx="788.4" cy="884.6" r="2.3"/>
<circle cx="788.6" cy="889.8" r="2.3"/>
<circle cx="788.9" cy="895.1" r="2.3"/>
<circle cx="789.1" cy="900.4" r="2.3"/>
<circle cx="789.3" cy="905.6" r="2.3"/>
<circle cx="789.6" cy="910.9" r="2.3"/>
<circle cx="789.8" cy="916.1" r="2.3"/>
<circle cx="790.0" cy="921.4" r="2.3"/>
<circle cx="790.3" cy="926.7" r="2.3"/>
<circle cx="790.5" cy="931.9" r="2.3"/>
<circle cx="790.7" cy="937.2" r="2.3"/>
<circle cx="791.0" cy="942.5" r="2.3"/>
<circle cx="791.2" cy="947.7" r="2.3"/>
<circle cx="791.4" cy="953.0" r="2.3"/>
<circle cx="791.7" cy="958.2" r="2.3"/>
<circle cx="791.9" cy="963.5" r="2.3"/>
<circle cx="839.1" cy="417.0" r="2.3"/>
<circle cx="839.7" cy="432.6" r="2.3"/>
<circle cx="839.7" cy="445.8" r="2.3"/>
<circle cx="839.7" cy="467.8" r="2.3"/>
<circle cx="839.7" cy="474.1" r="2.3"/>
<circle cx="839.7" cy="500.0" r="2.3"/>
<circle cx="839.7" cy="506.2" r="2.3"/>
<circle cx="839.7" cy="528.4" r="2.3"/>
<circle cx="839.7" cy="541.3" r="2.3"/>
<circle cx="839.7" cy="555.0" r="2.3"/>
<circle cx="839.7" cy="576.5" r="2.3"/>
<circle cx="839.7" cy="583.2" r="2.3"/>
<circle cx="839.7" cy="608.9" r="2.3"/>
<circle cx="839.7" cy="615.0" r="2.3"/>
<circle cx="839.7" cy="637.5" r="2.3"/>
<circle cx="839.7" cy="650.0" r="2.3"/>
<circle cx="839.7" cy="666.0" r="2.3"/>
<circle cx="840.6" cy="856.1" r="2.3"/>
<circle cx="840.8" cy="861.1" r="2.3"/>
<circle cx="840.9" cy="866.2" r="2.3"/>
<circle cx="841.1" cy="871.3" r="2.3"/>
<circle cx="841.3" cy="876.4" r="2.3"/>
<circle cx="841.5" cy="881.5" r="2.3"/>
<circle cx="841.7" cy="886.5" r="2.3"/>
<circle cx="841.8" cy="891.6" r="2.3"/>
<circle cx="842.0" cy="896.7" r="2.3"/>
<circle cx="842.2" cy="901.8" r="2.3"/>
<circle cx="842.4" cy="906.8" r="2.3"/>
<circle cx="842.6" cy="911.9" r="2.3"/>
<circle cx="842.7" cy="917.0" r="2.3"/>
<circle cx="842.9" cy="922.0" r="2.3"/>
<circle cx="843.1" cy="927.1" r="2.3"/>
<circle cx="843.3" cy="932.2" r="2.3"/>
<circle cx="843.5" cy="937.3" r="2.3"/>
<circle cx="843.6" cy="942.4" r="2.3"/>
<circle cx="843.8" cy="947.4" r="2.3"/>
<circle cx="844.0" cy="952.5" r="2.3"/>
<circle cx="890.2" cy="380.5" r="2.3"/>
<circle cx="890.8" cy="390.9" r="2.3"/>
<circle cx="890.8" cy="415.8" r="2.3"/>
<circle cx="890.8" cy="425.2" r="2.3"/>
<circle cx="890.8" cy="442.8" r="2.3"/>
<circle cx="890.8" cy="461.1" r="2.3"/>
<circle cx="890.8" cy="469.9" r="2.3"/>
<circle cx="890.8" cy="495.1" r="2.3"/>
<circle cx="890.8" cy="500.2" r="2.3"/>
<circle cx="890.8" cy="525.3" r="2.3"/>
<circle cx="890.8" cy="534.3" r="2.3"/>
<circle cx="890.8" cy="552.4" r="2.3"/>
<circle cx="890.8" cy="570.1" r="2.3"/>
<circle cx="890.8" cy="579.4" r="2.3"/>
<circle cx="890.8" cy="604.4" r="2.3"/>
<circle cx="890.8" cy="609.4" r="2.3"/>
<circle cx="890.8" cy="634.8" r="2.3"/>
<circle cx="890.8" cy="646.0" r="2.3"/>
<circle cx="891.7" cy="839.1" r="2.3"/>
<circle cx="891.8" cy="844.2" r="2.3"/>
<circle cx="892.0" cy="849.4" r="2.3"/>
<circle cx="892.2" cy="854.5" r="2.3"/>
<circle cx="892.3" cy="859.6" r="2.3"/>
<circle cx="892.5" cy="864.7" r="2.3"/>
<circle cx="892.7" cy="869.8" r="2.3"/>
<circle cx="892.8" cy="875.0" r="2.3"/>
<circle cx="893.0" cy="880.1" r="2.3"/>
<circle cx="893.2" cy="885.2" r="2.3"/>
<circle cx="893.3" cy="890.3" r="2.3"/>
<circle cx="893.5" cy="895.4" r="2.3"/>
<circle cx="893.7" cy="900.5" r="2.3"/>
<circle cx="893.8" cy="905.7" r="2.3"/>
<circle cx="894.0" cy="910.8" r="2.3"/>
<circle cx="894.2" cy="915.9" r="2.3"/>
<circle cx="894.3" cy="921.0" r="2.3"/>
<circle cx="894.5" cy="926.1" r="2.3"/>
<circle cx="894.7" cy="931.3" r="2.3"/>
<circle cx="894.8" cy="936.4" r="2.3"/>
<circle cx="895.0" cy="941.5" r="2.3"/>
<circle cx="939.9" cy="340.8" r="2.3"/>
<circle cx="940.5" cy="354.8" r="2.3"/>
<circle cx="940.5" cy="379.3" r="2.3"/>
<circle cx="940.5" cy="385.9" r="2.3"/>
<circle cx="940.5" cy="413.7" r="2.3"/>
<circle cx="940.5" cy="421.1" r="2.3"/>
<circle cx="940.5" cy="444.2" r="2.3"/>
<circle cx="940.5" cy="459.3" r="2.3"/>
<circle cx="940.5" cy="473.2" r="2.3"/>
<circle cx="940.5" cy="497.3" r="2.3"/>
<circle cx="940.5" cy="504.2" r="2.3"/>
<circle cx="940.5" cy="532.0" r="2.3"/>
<circle cx="940.5" cy="539.2" r="2.3"/>
<circle cx="940.5" cy="562.7" r="2.3"/>
<circle cx="940.5" cy="577.3" r="2.3"/>
<circle cx="940.5" cy="591.7" r="2.3"/>
<circle cx="940.5" cy="615.4" r="2.3"/>
<circle cx="940.5" cy="627.9" r="2.3"/>
<circle cx="941.3" cy="823.2" r="2.3"/>
<circle cx="941.5" cy="828.3" r="2.3"/>
<circle cx="941.6" cy="833.5" r="2.3"/>
<circle cx="941.8" cy="838.6" r="2.3"/>
<circle cx="941.9" cy="843.8" r="2.3"/>
<circle cx="942.1" cy="849.0" r="2.3"/>
<circle cx="942.2" cy="854.1" r="2.3"/>
<circle cx="942.4" cy="859.3" r="2.3"/>
<circle cx="942.5" cy="864.4" r="2.3"/>
<circle cx="942.7" cy="869.6" r="2.3"/>
<circle cx="942.8" cy="874.8" r="2.3"/>
<circle cx="942.9" cy="879.9" r="2.3"/>
<circle cx="943.1" cy="885.1" r="2.3"/>
<circle cx="943.2" cy="890.2" r="2.3"/>
<circle cx="943.4" cy="895.4" r="2.3"/>
<circle cx="943.5" cy="900.5" r="2.3"/>
<circle cx="943.7" cy="905.7" r="2.3"/>
<circle cx="943.8" cy="910.9" r="2.3"/>
<circle cx="944.0" cy="916.0" r="2.3"/>
<circle cx="944.1" cy="921.2" r="2.3"/>
<circle cx="944.3" cy="926.3" r="2.3"/>
<circle cx="944.4" cy="931.5" r="2.3"/>
<circle cx="987.9" cy="300.5" r="2.3"/>
<circle cx="988.5" cy="321.5" r="2.3"/>
<circle cx="988.5" cy="332.9" r="2.3"/>
<circle cx="988.5" cy="350.9" r="2.3"/>
<circle cx="988.5" cy="371.9" r="2.3"/>
<circle cx="988.5" cy="380.9" r="2.3"/>
<circle cx="988.5" cy="408.6" r="2.3"/>
<circle cx="988.5" cy="414.4" r="2.3"/>
<circle cx="988.5" cy="441.1" r="2.3"/>
<circle cx="988.5" cy="452.0" r="2.3"/>
<circle cx="988.5" cy="470.6" r="2.3"/>
<circle cx="988.5" cy="491.0" r="2.3"/>
<circle cx="988.5" cy="500.4" r="2.3"/>
<circle cx="988.5" cy="527.9" r="2.3"/>
<circle cx="988.5" cy="533.7" r="2.3"/>
<circle cx="988.5" cy="560.7" r="2.3"/>
<circle cx="988.5" cy="571.1" r="2.3"/>
<circle cx="988.5" cy="590.3" r="2.3"/>
<circle cx="988.5" cy="607.5" r="2.3"/>
<circle cx="989.3" cy="808.2" r="2.3"/>
<circle cx="989.5" cy="813.3" r="2.3"/>
<circle cx="989.6" cy="818.5" r="2.3"/>
<circle cx="989.8" cy="823.7" r="2.3"/>
<circle cx="989.9" cy="828.9" r="2.3"/>
<circle cx="990.1" cy="834.0" r="2.3"/>
<circle cx="990.2" cy="839.2" r="2.3"/>
<circle cx="990.3" cy="844.4" r="2.3"/>
<circle cx="990.5" cy="849.6" r="2.3"/>
<circle cx="990.6" cy="854.7" r="2.3"/>
<circle cx="990.8" cy="859.9" r="2.3"/>
<circle cx="990.9" cy="865.1" r="2.3"/>
<circle cx="991.1" cy="870.3" r="2.3"/>
<circle cx="991.2" cy="875.4" r="2.3"/>
<circle cx="991.4" cy="880.6" r="2.3"/>
<circle cx="991.5" cy="885.8" r="2.3"/>
<circle cx="991.6" cy="891.0" r="2.3"/>
<circle cx="991.8" cy="896.1" r="2.3"/>
<circle cx="991.9" cy="901.3" r="2.3"/>
<circle cx="992.1" cy="906.5" r="2.3"/>
<circle cx="992.2" cy="911.7" r="2.3"/>
<circle cx="992.4" cy="916.8" r="2.3"/>
<circle cx="992.5" cy="922.0" r="2.3"/>
<circle cx="1035.6" cy="261.3" r="2.3"/>
<circle cx="1036.2" cy="283.7" r="2.3"/>
<circle cx="1036.2" cy="289.6" r="2.3"/>
<circle cx="1036.2" cy="318.2" r="2.3"/>
<circle cx="1036.2" cy="325.9" r="2.3"/>
<circle cx="1036.2" cy="348.7" r="2.3"/>
<circle cx="1036.2" cy="365.1" r="2.3"/>
<circle cx="1036.2" cy="377.9" r="2.3"/>
<circle cx="1036.2" cy="403.6" r="2.3"/>
<circle cx="1036.2" cy="409.7" r="2.3"/>
<circle cx="1036.2" cy="438.3" r="2.3"/>
<circle cx="1036.2" cy="445.7" r="2.3"/>
<circle cx="1036.2" cy="469.0" r="2.3"/>
<circle cx="1036.2" cy="484.8" r="2.3"/>
<circle cx="1036.2" cy="498.2" r="2.3"/>
<circle cx="1036.2" cy="523.4" r="2.3"/>
<circle cx="1036.2" cy="529.7" r="2.3"/>
<circle cx="1036.2" cy="558.4" r="2.3"/>
<circle cx="1036.2" cy="565.5" r="2.3"/>
<circle cx="1036.2" cy="587.0" r="2.3"/>
<circle cx="1037.0" cy="792.1" r="2.3"/>
<circle cx="1037.2" cy="797.2" r="2.3"/>
<circle cx="1037.3" cy="802.3" r="2.3"/>
<circle cx="1037.5" cy="807.4" r="2.3"/>
<circle cx="1037.6" cy="812.5" r="2.3"/>
<circle cx="1037.8" cy="817.6" r="2.3"/>
<circle cx="1037.9" cy="822.7" r="2.3"/>
<circle cx="1038.0" cy="827.8" r="2.3"/>
<circle cx="1038.2" cy="832.9" r="2.3"/>
<circle cx="1038.3" cy="838.0" r="2.3"/>
<circle cx="1038.5" cy="843.1" r="2.3"/>
<circle cx="1038.6" cy="848.2" r="2.3"/>
<circle cx="1038.7" cy="853.4" r="2.3"/>
<circle cx="1038.9" cy="858.5" r="2.3"/>
<circle cx="1039.0" cy="863.6" r="2.3"/>
<circle cx="1039.2" cy="868.7" r="2.3"/>
<circle cx="1039.3" cy="873.8" r="2.3"/>
<circle cx="1039.5" cy="878.9" r="2.3"/>
<circle cx="1039.6" cy="884.0" r="2.3"/>
<circle cx="1039.7" cy="889.1" r="2.3"/>
<circle cx="1039.9" cy="894.2" r="2.3"/>
<circle cx="1040.0" cy="899.3" r="2.3"/>
<circle cx="1040.2" cy="904.4" r="2.3"/>
<circle cx="1040.3" cy="909.5" r="2.3"/>
<circle cx="1081.5" cy="230.0" r="2.3"/>
<circle cx="1082.1" cy="246.5" r="2.3"/>
<circle cx="1082.1" cy="264.2" r="2.3"/>
<circle cx="1082.1" cy="287.2" r="2.3"/>
<circle cx="1082.1" cy="295.7" r="2.3"/>
<circle cx="1082.1" cy="325.1" r="2.3"/>
<circle cx="1082.1" cy="331.2" r="2.3"/>
<circle cx="1082.1" cy="358.5" r="2.3"/>
<circle cx="1082.1" cy="370.7" r="2.3"/>
<circle cx="1082.1" cy="389.0" r="2.3"/>
<circle cx="1082.1" cy="411.5" r="2.3"/>
<circle cx="1082.1" cy="420.3" r="2.3"/>
<circle cx="1082.1" cy="449.6" r="2.3"/>
<circle cx="1082.1" cy="455.6" r="2.3"/>
<circle cx="1082.1" cy="483.2" r="2.3"/>
<circle cx="1082.1" cy="495.0" r="2.3"/>
<circle cx="1082.1" cy="513.8" r="2.3"/>
<circle cx="1082.1" cy="535.7" r="2.3"/>
<circle cx="1082.1" cy="545.0" r="2.3"/>
<circle cx="1082.1" cy="568.0" r="2.3"/>
<circle cx="1082.9" cy="777.1" r="2.3"/>
<circle cx="1083.1" cy="782.1" r="2.3"/>
<circle cx="1083.2" cy="787.2" r="2.3"/>
<circle cx="1083.4" cy="792.2" r="2.3"/>
<circle cx="1083.5" cy="797.3" r="2.3"/>
<circle cx="1083.6" cy="802.4" r="2.3"/>
<circle cx="1083.8" cy="807.4" r="2.3"/>
<circle cx="1083.9" cy="812.5" r="2.3"/>
<circle cx="1084.1" cy="817.5" r="2.3"/>
<circle cx="1084.2" cy="822.6" r="2.3"/>
<circle cx="1084.3" cy="827.7" r="2.3"/>
<circle cx="1084.5" cy="832.7" r="2.3"/>
<circle cx="1084.6" cy="837.8" r="2.3"/>
<circle cx="1084.8" cy="842.8" r="2.3"/>
<circle cx="1084.9" cy="847.9" r="2.3"/>
<circle cx="1085.0" cy="853.0" r="2.3"/>
<circle cx="1085.2" cy="858.0" r="2.3"/>
<circle cx="1085.3" cy="863.1" r="2.3"/>
<circle cx="1085.5" cy="868.1" r="2.3"/>
<circle cx="1085.6" cy="873.2" r="2.3"/>
<circle cx="1085.7" cy="878.3" r="2.3"/>
<circle cx="1085.9" cy="883.3" r="2.3"/>
<circle cx="1086.0" cy="888.4" r="2.3"/>
<circle cx="1086.2" cy="893.4" r="2.3"/>
<circle cx="1086.3" cy="898.5" r="2.3"/>
<circle cx="1126.2" cy="188.3" r="2.3"/>
<circle cx="1126.8" cy="200.8" r="2.3"/>
<circle cx="1126.8" cy="231.5" r="2.3"/>
<circle cx="1126.8" cy="241.1" r="2.3"/>
<circle cx="1126.8" cy="264.8" r="2.3"/>
<circle cx="1126.8" cy="284.0" r="2.3"/>
<circle cx="1126.8" cy="297.2" r="2.3"/>
<circle cx="1126.8" cy="325.8" r="2.3"/>
<circle cx="1126.8" cy="332.6" r="2.3"/>
<circle cx="1126.8" cy="363.4" r="2.3"/>
<circle cx="1126.8" cy="372.6" r="2.3"/>
<circle cx="1126.8" cy="396.9" r="2.3"/>
<circle cx="1126.8" cy="415.5" r="2.3"/>
<circle cx="1126.8" cy="429.2" r="2.3"/>
<circle cx="1126.8" cy="457.5" r="2.3"/>
<circle cx="1126.8" cy="464.4" r="2.3"/>
<circle cx="1126.8" cy="495.3" r="2.3"/>
<circle cx="1126.8" cy="504.2" r="2.3"/>
<circle cx="1126.8" cy="528.9" r="2.3"/>
<circle cx="1126.8" cy="546.0" r="2.3"/>
<circle cx="1127.6" cy="761.0" r="2.3"/>
<circle cx="1127.8" cy="766.1" r="2.3"/>
<circle cx="1127.9" cy="771.1" r="2.3"/>
<circle cx="1128.0" cy="776.2" r="2.3"/>
<circle cx="1128.2" cy="781.2" r="2.3"/>
<circle cx="1128.3" cy="786.2" r="2.3"/>
<circle cx="1128.4" cy="791.3" r="2.3"/>
<circle cx="1128.6" cy="796.3" r="2.3"/>
<circle cx="1128.7" cy="801.3" r="2.3"/>
<circle cx="1128.8" cy="806.4" r="2.3"/>
<circle cx="1129.0" cy="811.4" r="2.3"/>
<circle cx="1129.1" cy="816.5" r="2.3"/>
<circle cx="1129.2" cy="821.5" r="2.3"/>
<circle cx="1129.4" cy="826.5" r="2.3"/>
<circle cx="1129.5" cy="831.6" r="2.3"/>
<circle cx="1129.7" cy="836.6" r="2.3"/>
<circle cx="1129.8" cy="841.7" r="2.3"/>
<circle cx="1129.9" cy="846.7" r="2.3"/>
<circle cx="1130.1" cy="851.7" r="2.3"/>
<circle cx="1130.2" cy="856.8" r="2.3"/>
<circle cx="1130.3" cy="861.8" r="2.3"/>
<circle cx="1130.5" cy="866.8" r="2.3"/>
<circle cx="1130.6" cy="871.9" r="2.3"/>
<circle cx="1130.7" cy="876.9" r="2.3"/>
<circle cx="1130.9" cy="882.0" r="2.3"/>
<circle cx="1131.0" cy="887.0" r="2.3"/>
<circle cx="1170.2" cy="153.0" r="2.3"/>
<circle cx="1170.8" cy="169.6" r="2.3"/>
<circle cx="1170.8" cy="195.0" r="2.3"/>
<circle cx="1170.8" cy="203.2" r="2.3"/>
<circle cx="1170.8" cy="234.5" r="2.3"/>
<circle cx="1170.8" cy="241.2" r="2.3"/>
<circle cx="1170.8" cy="269.2" r="2.3"/>
<circle cx="1170.8" cy="283.2" r="2.3"/>
<circle cx="1170.8" cy="301.2" r="2.3"/>
<circle cx="1170.8" cy="326.0" r="2.3"/>
<circle cx="1170.8" cy="334.5" r="2.3"/>
<circle cx="1170.8" cy="365.7" r="2.3"/>
<circle cx="1170.8" cy="372.3" r="2.3"/>
<circle cx="1170.8" cy="400.7" r="2.3"/>
<circle cx="1170.8" cy="414.2" r="2.3"/>
<circle cx="1170.8" cy="432.8" r="2.3"/>
<circle cx="1170.8" cy="457.0" r="2.3"/>
<circle cx="1170.8" cy="465.9" r="2.3"/>
<circle cx="1170.8" cy="497.0" r="2.3"/>
<circle cx="1170.8" cy="503.4" r="2.3"/>
<circle cx="1170.8" cy="528.0" r="2.3"/>
<circle cx="1171.6" cy="743.1" r="2.3"/>
<circle cx="1171.7" cy="748.2" r="2.3"/>
<circle cx="1171.8" cy="753.3" r="2.3"/>
<circle cx="1171.9" cy="758.4" r="2.3"/>
<circle cx="1172.1" cy="763.5" r="2.3"/>
<circle cx="1172.2" cy="768.6" r="2.3"/>
<circle cx="1172.3" cy="773.6" r="2.3"/>
<circle cx="1172.4" cy="778.7" r="2.3"/>
<circle cx="1172.5" cy="783.8" r="2.3"/>
<circle cx="1172.6" cy="788.9" r="2.3"/>
<circle cx="1172.7" cy="794.0" r="2.3"/>
<circle cx="1172.8" cy="799.1" r="2.3"/>
<circle cx="1172.9" cy="804.2" r="2.3"/>
<circle cx="1173.1" cy="809.3" r="2.3"/>
<circle cx="1173.2" cy="814.4" r="2.3"/>
<circle cx="1173.3" cy="819.5" r="2.3"/>
<circle cx="1173.4" cy="824.6" r="2.3"/>
<circle cx="1173.5" cy="829.7" r="2.3"/>
<circle cx="1173.6" cy="834.8" r="2.3"/>
<circle cx="1173.7" cy="839.9" r="2.3"/>
<circle cx="1173.8" cy="844.9" r="2.3"/>
<circle cx="1173.9" cy="850.0" r="2.3"/>
<circle cx="1174.1" cy="855.1" r="2.3"/>
<circle cx="1174.2" cy="860.2" r="2.3"/>
<circle cx="1174.3" cy="865.3" r="2.3"/>
<circle cx="1174.4" cy="870.4" r="2.3"/>
<circle cx="1174.5" cy="875.5" r="2.3"/>
<circle cx="1212.4" cy="60.0" r="2.3"/>
<circle cx="1213.0" cy="85.0" r="2.3"/>
<circle cx="1213.0" cy="95.8" r="2.3"/>
<circle cx="1213.0" cy="119.2" r="2.3"/>
<circle cx="1213.0" cy="140.6" r="2.3"/>
<circle cx="1213.0" cy="153.0" r="2.3"/>
<circle cx="1213.0" cy="183.6" r="2.3"/>
<circle cx="1213.0" cy="190.3" r="2.3"/>
<circle cx="1213.0" cy="222.1" r="2.3"/>
<circle cx="1213.0" cy="232.4" r="2.3"/>
<circle cx="1213.0" cy="256.5" r="2.3"/>
<circle cx="1213.0" cy="277.1" r="2.3"/>
<circle cx="1213.0" cy="290.2" r="2.3"/>
<circle cx="1213.0" cy="320.4" r="2.3"/>
<circle cx="1213.0" cy="327.2" r="2.3"/>
<circle cx="1213.0" cy="359.2" r="2.3"/>
<circle cx="1213.0" cy="369.0" r="2.3"/>
<circle cx="1213.0" cy="393.7" r="2.3"/>
<circle cx="1213.0" cy="413.7" r="2.3"/>
<circle cx="1213.0" cy="427.3" r="2.3"/>
<circle cx="1213.0" cy="457.2" r="2.3"/>
<circle cx="1213.0" cy="464.0" r="2.3"/>
<circle cx="1213.0" cy="496.2" r="2.3"/>
<circle cx="1213.0" cy="509.8" r="2.3"/>
<circle cx="1213.8" cy="729.0" r="2.3"/>
<circle cx="1213.9" cy="734.1" r="2.3"/>
<circle cx="1214.0" cy="739.1" r="2.3"/>
<circle cx="1214.1" cy="744.1" r="2.3"/>
<circle cx="1214.2" cy="749.1" r="2.3"/>
<circle cx="1214.3" cy="754.2" r="2.3"/>
<circle cx="1214.5" cy="759.2" r="2.3"/>
<circle cx="1214.6" cy="764.2" r="2.3"/>
<circle cx="1214.7" cy="769.3" r="2.3"/>
<circle cx="1214.8" cy="774.3" r="2.3"/>
<circle cx="1214.9" cy="779.3" r="2.3"/>
<circle cx="1215.0" cy="784.3" r="2.3"/>
<circle cx="1215.1" cy="789.4" r="2.3"/>
<circle cx="1215.2" cy="794.4" r="2.3"/>
<circle cx="1215.3" cy="799.4" r="2.3"/>
<circle cx="1215.4" cy="804.5" r="2.3"/>
<circle cx="1215.5" cy="809.5" r="2.3"/>
<circle cx="1215.6" cy="814.5" r="2.3"/>
<circle cx="1215.7" cy="819.5" r="2.3"/>
<circle cx="1215.8" cy="824.6" r="2.3"/>
<circle cx="1216.0" cy="829.6" r="2.3"/>
<circle cx="1216.1" cy="834.6" r="2.3"/>
<circle cx="1216.2" cy="839.7" r="2.3"/>
<circle cx="1216.3" cy="844.7" r="2.3"/>
<circle cx="1216.4" cy="849.7" r="2.3"/>
<circle cx="1216.5" cy="854.7" r="2.3"/>
<circle cx="1216.6" cy="859.8" r="2.3"/>
<circle cx="1216.7" cy="864.8" r="2.3"/>
<circle cx="1254.2" cy="40.0" r="2.3"/>
<circle cx="1254.8" cy="64.8" r="2.3"/>
<circle cx="1254.8" cy="72.6" r="2.3"/>
<circle cx="1254.8" cy="105.5" r="2.3"/>
<circle cx="1254.8" cy="112.9" r="2.3"/>
<circle cx="1254.8" cy="141.3" r="2.3"/>
<circle cx="1254.8" cy="157.2" r="2.3"/>
<circle cx="1254.8" cy="174.7" r="2.3"/>
<circle cx="1254.8" cy="201.8" r="2.3"/>
<circle cx="1254.8" cy="209.9" r="2.3"/>
<circle cx="1254.8" cy="242.8" r="2.3"/>
<circle cx="1254.8" cy="249.9" r="2.3"/>
<circle cx="1254.8" cy="278.8" r="2.3"/>
<circle cx="1254.8" cy="294.1" r="2.3"/>
<circle cx="1254.8" cy="312.2" r="2.3"/>
<circle cx="1254.8" cy="338.8" r="2.3"/>
<circle cx="1254.8" cy="347.2" r="2.3"/>
<circle cx="1254.8" cy="380.0" r="2.3"/>
<circle cx="1254.8" cy="386.9" r="2.3"/>
<circle cx="1254.8" cy="416.3" r="2.3"/>
<circle cx="1254.8" cy="430.9" r="2.3"/>
<circle cx="1254.8" cy="449.7" r="2.3"/>
<circle cx="1254.8" cy="475.7" r="2.3"/>
<circle cx="1254.8" cy="490.8" r="2.3"/>
<circle cx="1255.6" cy="715.1" r="2.3"/>
<circle cx="1255.7" cy="720.2" r="2.3"/>
<circle cx="1255.8" cy="725.2" r="2.3"/>
<circle cx="1255.9" cy="730.3" r="2.3"/>
<circle cx="1255.9" cy="735.4" r="2.3"/>
<circle cx="1256.0" cy="740.5" r="2.3"/>
<circle cx="1256.1" cy="745.6" r="2.3"/>
<circle cx="1256.2" cy="750.7" r="2.3"/>
<circle cx="1256.3" cy="755.7" r="2.3"/>
<circle cx="1256.4" cy="760.8" r="2.3"/>
<circle cx="1256.5" cy="765.9" r="2.3"/>
<circle cx="1256.6" cy="771.0" r="2.3"/>
<circle cx="1256.7" cy="776.1" r="2.3"/>
<circle cx="1256.8" cy="781.1" r="2.3"/>
<circle cx="1256.8" cy="786.2" r="2.3"/>
<circle cx="1256.9" cy="791.3" r="2.3"/>
<circle cx="1257.0" cy="796.4" r="2.3"/>
<circle cx="1257.1" cy="801.5" r="2.3"/>
<circle cx="1257.2" cy="806.6" r="2.3"/>
<circle cx="1257.3" cy="811.6" r="2.3"/>
<circle cx="1257.4" cy="816.7" r="2.3"/>
<circle cx="1257.5" cy="821.8" r="2.3"/>
<circle cx="1257.6" cy="826.9" r="2.3"/>
<circle cx="1257.6" cy="832.0" r="2.3"/>
<circle cx="1257.7" cy="837.1" r="2.3"/>
<circle cx="1257.8" cy="842.1" r="2.3"/>
<circle cx="1257.9" cy="847.2" r="2.3"/>
<circle cx="1258.0" cy="852.3" r="2.3"/>
<circle cx="1294.5" cy="40.0" r="2.3"/>
<circle cx="1295.1" cy="57.6" r="2.3"/>
<circle cx="1295.1" cy="80.9" r="2.3"/>
<circle cx="1295.1" cy="104.6" r="2.3"/>
<circle cx="1295.1" cy="116.6" r="2.3"/>
<circle cx="1295.1" cy="149.4" r="2.3"/>
<circle cx="1295.1" cy="156.2" r="2.3"/>
<circle cx="1295.1" cy="189.2" r="2.3"/>
<circle cx="1295.1" cy="200.9" r="2.3"/>
<circle cx="1295.1" cy="224.9" r="2.3"/>
<circle cx="1295.1" cy="247.9" r="2.3"/>
<circle cx="1295.1" cy="260.4" r="2.3"/>
<circle cx="1295.1" cy="292.9" r="2.3"/>
<circle cx="1295.1" cy="299.8" r="2.3"/>
<circle cx="1295.1" cy="333.0" r="2.3"/>
<circle cx="1295.1" cy="344.2" r="2.3"/>
<circle cx="1295.1" cy="368.8" r="2.3"/>
<circle cx="1295.1" cy="391.2" r="2.3"/>
<circle cx="1295.1" cy="404.2" r="2.3"/>
<circle cx="1295.1" cy="436.4" r="2.3"/>
<circle cx="1295.1" cy="443.3" r="2.3"/>
<circle cx="1295.1" cy="470.8" r="2.3"/>
<circle cx="1295.9" cy="699.1" r="2.3"/>
<circle cx="1296.0" cy="704.2" r="2.3"/>
<circle cx="1296.0" cy="709.3" r="2.3"/>
<circle cx="1296.1" cy="714.4" r="2.3"/>
<circle cx="1296.2" cy="719.6" r="2.3"/>
<circle cx="1296.3" cy="724.7" r="2.3"/>
<circle cx="1296.3" cy="729.8" r="2.3"/>
<circle cx="1296.4" cy="734.9" r="2.3"/>
<circle cx="1296.5" cy="740.0" r="2.3"/>
<circle cx="1296.6" cy="745.1" r="2.3"/>
<circle cx="1296.6" cy="750.2" r="2.3"/>
<circle cx="1296.7" cy="755.3" r="2.3"/>
<circle cx="1296.8" cy="760.4" r="2.3"/>
<circle cx="1296.9" cy="765.5" r="2.3"/>
<circle cx="1296.9" cy="770.7" r="2.3"/>
<circle cx="1297.0" cy="775.8" r="2.3"/>
<circle cx="1297.1" cy="780.9" r="2.3"/>
<circle cx="1297.2" cy="786.0" r="2.3"/>
<circle cx="1297.2" cy="791.1" r="2.3"/>
<circle cx="1297.3" cy="796.2" r="2.3"/>
<circle cx="1297.4" cy="801.3" r="2.3"/>
<circle cx="1297.5" cy="806.4" r="2.3"/>
<circle cx="1297.5" cy="811.5" r="2.3"/>
<circle cx="1297.6" cy="816.6" r="2.3"/>
<circle cx="1297.7" cy="821.8" r="2.3"/>
<circle cx="1297.8" cy="826.9" r="2.3"/>
<circle cx="1297.8" cy="832.0" r="2.3"/>
<circle cx="1297.9" cy="837.1" r="2.3"/>
<circle cx="1298.0" cy="842.2" r="2.3"/>
<circle cx="1333.7" cy="40.0" r="2.3"/>
<circle cx="1334.3" cy="53.6" r="2.3"/>
<circle cx="1334.3" cy="88.2" r="2.3"/>
<circle cx="1334.3" cy="96.7" r="2.3"/>
<circle cx="1334.3" cy="125.5" r="2.3"/>
<circle cx="1334.3" cy="143.6" r="2.3"/>
<circle cx="1334.3" cy="160.7" r="2.3"/>
<circle cx="1334.3" cy="190.4" r="2.3"/>
<circle cx="1334.3" cy="198.3" r="2.3"/>
<circle cx="1334.3" cy="233.0" r="2.3"/>
<circle cx="1334.3" cy="241.1" r="2.3"/>
<circle cx="1334.3" cy="270.5" r="2.3"/>
<circle cx="1334.3" cy="288.0" r="2.3"/>
<circle cx="1334.3" cy="305.7" r="2.3"/>
<circle cx="1334.3" cy="334.9" r="2.3"/>
<circle cx="1334.3" cy="343.1" r="2.3"/>
<circle cx="1334.3" cy="377.8" r="2.3"/>
<circle cx="1334.3" cy="385.6" r="2.3"/>
<circle cx="1334.3" cy="415.5" r="2.3"/>
<circle cx="1334.3" cy="432.3" r="2.3"/>
<circle cx="1334.3" cy="453.4" r="2.3"/>
<circle cx="1335.1" cy="683.0" r="2.3"/>
<circle cx="1335.2" cy="688.0" r="2.3"/>
<circle cx="1335.2" cy="693.0" r="2.3"/>
<circle cx="1335.3" cy="698.0" r="2.3"/>
<circle cx="1335.4" cy="703.0" r="2.3"/>
<circle cx="1335.5" cy="708.1" r="2.3"/>
<circle cx="1335.6" cy="713.1" r="2.3"/>
<circle cx="1335.7" cy="718.1" r="2.3"/>
<circle cx="1335.8" cy="723.1" r="2.3"/>
<circle cx="1335.8" cy="728.1" r="2.3"/>
<circle cx="1335.9" cy="733.1" r="2.3"/>
<circle cx="1336.0" cy="738.1" r="2.3"/>
<circle cx="1336.1" cy="743.1" r="2.3"/>
<circle cx="1336.2" cy="748.1" r="2.3"/>
<circle cx="1336.2" cy="753.1" r="2.3"/>
<circle cx="1336.3" cy="758.2" r="2.3"/>
<circle cx="1336.4" cy="763.2" r="2.3"/>
<circle cx="1336.5" cy="768.2" r="2.3"/>
<circle cx="1336.6" cy="773.2" r="2.3"/>
<circle cx="1336.7" cy="778.2" r="2.3"/>
<circle cx="1336.8" cy="783.2" r="2.3"/>
<circle cx="1336.8" cy="788.2" r="2.3"/>
<circle cx="1336.9" cy="793.2" r="2.3"/>
<circle cx="1337.0" cy="798.2" r="2.3"/>
<circle cx="1337.1" cy="803.2" r="2.3"/>
<circle cx="1337.2" cy="808.3" r="2.3"/>
<circle cx="1337.2" cy="813.3" r="2.3"/>
<circle cx="1337.3" cy="818.3" r="2.3"/>
<circle cx="1337.4" cy="823.3" r="2.3"/>
<circle cx="1337.5" cy="828.3" r="2.3"/>
<circle cx="1372.4" cy="40.0" r="2.3"/>
<circle cx="1373.0" cy="60.9" r="2.3"/>
<circle cx="1373.0" cy="87.3" r="2.3"/>
<circle cx="1373.0" cy="99.0" r="2.3"/>
<circle cx="1373.0" cy="134.1" r="2.3"/>
<circle cx="1373.0" cy="141.6" r="2.3"/>
<circle cx="1373.0" cy="175.6" r="2.3"/>
<circle cx="1373.0" cy="189.3" r="2.3"/>
<circle cx="1373.0" cy="213.2" r="2.3"/>
<circle cx="1373.0" cy="239.0" r="2.3"/>
<circle cx="1373.0" cy="251.1" r="2.3"/>
<circle cx="1373.0" cy="286.1" r="2.3"/>
<circle cx="1373.0" cy="293.4" r="2.3"/>
<circle cx="1373.0" cy="327.9" r="2.3"/>
<circle cx="1373.0" cy="340.9" r="2.3"/>
<circle cx="1373.0" cy="365.6" r="2.3"/>
<circle cx="1373.0" cy="390.6" r="2.3"/>
<circle cx="1373.0" cy="403.3" r="2.3"/>
<circle cx="1373.0" cy="430.8" r="2.3"/>
<circle cx="1373.8" cy="669.1" r="2.3"/>
<circle cx="1373.9" cy="674.2" r="2.3"/>
<circle cx="1373.9" cy="679.3" r="2.3"/>
<circle cx="1374.0" cy="684.4" r="2.3"/>
<circle cx="1374.1" cy="689.5" r="2.3"/>
<circle cx="1374.2" cy="694.6" r="2.3"/>
<circle cx="1374.2" cy="699.7" r="2.3"/>
<circle cx="1374.3" cy="704.7" r="2.3"/>
<circle cx="1374.4" cy="709.8" r="2.3"/>
<circle cx="1374.5" cy="714.9" r="2.3"/>
<circle cx="1374.5" cy="720.0" r="2.3"/>
<circle cx="1374.6" cy="725.1" r="2.3"/>
<circle cx="1374.7" cy="730.2" r="2.3"/>
<circle cx="1374.8" cy="735.3" r="2.3"/>
<circle cx="1374.8" cy="740.4" r="2.3"/>
<circle cx="1374.9" cy="745.5" r="2.3"/>
<circle cx="1375.0" cy="750.6" r="2.3"/>
<circle cx="1375.1" cy="755.7" r="2.3"/>
<circle cx="1375.2" cy="760.8" r="2.3"/>
<circle cx="1375.2" cy="765.9" r="2.3"/>
<circle cx="1375.3" cy="771.0" r="2.3"/>
<circle cx="1375.4" cy="776.1" r="2.3"/>
<circle cx="1375.5" cy="781.1" r="2.3"/>
<circle cx="1375.5" cy="786.2" r="2.3"/>
<circle cx="1375.6" cy="791.3" r="2.3"/>
<circle cx="1375.7" cy="796.4" r="2.3"/>
<circle cx="1375.8" cy="801.5" r="2.3"/>
<circle cx="1375.8" cy="806.6" r="2.3"/>
<circle cx="1375.9" cy="811.7" r="2.3"/>
<circle cx="1376.0" cy="816.8" r="2.3"/>
<circle cx="1409.7" cy="40.0" r="2.3"/>
<circle cx="1410.3" cy="68.8" r="2.3"/>
<circle cx="1410.3" cy="78.5" r="2.3"/>
<circle cx="1410.3" cy="107.7" r="2.3"/>
<circle cx="1410.3" cy="128.3" r="2.3"/>
<circle cx="1410.3" cy="144.9" r="2.3"/>
<circle cx="1410.3" cy="177.3" r="2.3"/>
<circle cx="1410.3" cy="185.2" r="2.3"/>
<circle cx="1410.3" cy="221.6" r="2.3"/>
<circle cx="1410.3" cy="230.9" r="2.3"/>
<circle cx="1410.3" cy="260.7" r="2.3"/>
<circle cx="1410.3" cy="280.6" r="2.3"/>
<circle cx="1410.3" cy="297.9" r="2.3"/>
<circle cx="1410.3" cy="329.8" r="2.3"/>
<circle cx="1410.3" cy="337.9" r="2.3"/>
<circle cx="1410.3" cy="374.4" r="2.3"/>
<circle cx="1410.3" cy="383.4" r="2.3"/>
<circle cx="1410.3" cy="410.8" r="2.3"/>
<circle cx="1411.1" cy="654.0" r="2.3"/>
<circle cx="1411.2" cy="659.1" r="2.3"/>
<circle cx="1411.2" cy="664.1" r="2.3"/>
<circle cx="1411.3" cy="669.1" r="2.3"/>
<circle cx="1411.4" cy="674.1" r="2.3"/>
<circle cx="1411.5" cy="679.2" r="2.3"/>
<circle cx="1411.6" cy="684.2" r="2.3"/>
<circle cx="1411.6" cy="689.2" r="2.3"/>
<circle cx="1411.7" cy="694.2" r="2.3"/>
<circle cx="1411.8" cy="699.3" r="2.3"/>
<circle cx="1411.9" cy="704.3" r="2.3"/>
<circle cx="1412.0" cy="709.3" r="2.3"/>
<circle cx="1412.0" cy="714.3" r="2.3"/>
<circle cx="1412.1" cy="719.4" r="2.3"/>
<circle cx="1412.2" cy="724.4" r="2.3"/>
<circle cx="1412.3" cy="729.4" r="2.3"/>
<circle cx="1412.4" cy="734.4" r="2.3"/>
<circle cx="1412.5" cy="739.5" r="2.3"/>
<circle cx="1412.5" cy="744.5" r="2.3"/>
<circle cx="1412.6" cy="749.5" r="2.3"/>
<circle cx="1412.7" cy="754.5" r="2.3"/>
<circle cx="1412.8" cy="759.6" r="2.3"/>
<circle cx="1412.9" cy="764.6" r="2.3"/>
<circle cx="1412.9" cy="769.6" r="2.3"/>
<circle cx="1413.0" cy="774.6" r="2.3"/>
<circle cx="1413.1" cy="779.7" r="2.3"/>
<circle cx="1413.2" cy="784.7" r="2.3"/>
<circle cx="1413.3" cy="789.7" r="2.3"/>
<circle cx="1413.3" cy="794.7" r="2.3"/>
<circle cx="1413.4" cy="799.8" r="2.3"/>
<circle cx="1413.5" cy="804.8" r="2.3"/>
<circle cx="1446.5" cy="40.0" r="2.3"/>
<circle cx="1447.1" cy="68.1" r="2.3"/>
<circle cx="1447.1" cy="79.9" r="2.3"/>
<circle cx="1447.1" cy="117.8" r="2.3"/>
<circle cx="1447.1" cy="126.4" r="2.3"/>
<circle cx="1447.1" cy="161.9" r="2.3"/>
<circle cx="1447.1" cy="178.1" r="2.3"/>
<circle cx="1447.1" cy="202.3" r="2.3"/>
<circle cx="1447.1" cy="231.3" r="2.3"/>
<circle cx="1447.1" cy="243.6" r="2.3"/>
<circle cx="1447.1" cy="281.3" r="2.3"/>
<circle cx="1447.1" cy="289.8" r="2.3"/>
<circle cx="1447.1" cy="325.7" r="2.3"/>
<circle cx="1447.1" cy="341.3" r="2.3"/>
<circle cx="1447.1" cy="366.2" r="2.3"/>
<circle cx="1447.1" cy="390.5" r="2.3"/>
<circle cx="1447.9" cy="639.1" r="2.3"/>
<circle cx="1447.9" cy="644.2" r="2.3"/>
<circle cx="1448.0" cy="649.3" r="2.3"/>
<circle cx="1448.0" cy="654.4" r="2.3"/>
<circle cx="1448.1" cy="659.5" r="2.3"/>
<circle cx="1448.1" cy="664.6" r="2.3"/>
<circle cx="1448.2" cy="669.7" r="2.3"/>
<circle cx="1448.2" cy="674.8" r="2.3"/>
<circle cx="1448.3" cy="679.9" r="2.3"/>
<circle cx="1448.3" cy="685.0" r="2.3"/>
<circle cx="1448.4" cy="690.1" r="2.3"/>
<circle cx="1448.5" cy="695.2" r="2.3"/>
<circle cx="1448.5" cy="700.3" r="2.3"/>
<circle cx="1448.6" cy="705.4" r="2.3"/>
<circle cx="1448.6" cy="710.5" r="2.3"/>
<circle cx="1448.7" cy="715.5" r="2.3"/>
<circle cx="1448.7" cy="720.6" r="2.3"/>
<circle cx="1448.8" cy="725.7" r="2.3"/>
<circle cx="1448.8" cy="730.8" r="2.3"/>
<circle cx="1448.9" cy="735.9" r="2.3"/>
<circle cx="1449.0" cy="741.0" r="2.3"/>
<circle cx="1449.0" cy="746.1" r="2.3"/>
<circle cx="1449.1" cy="751.2" r="2.3"/>
<circle cx="1449.1" cy="756.3" r="2.3"/>
<circle cx="1449.2" cy="761.4" r="2.3"/>
<circle cx="1449.2" cy="766.5" r="2.3"/>
<circle cx="1449.3" cy="771.6" r="2.3"/>
<circle cx="1449.3" cy="776.7" r="2.3"/>
<circle cx="1449.4" cy="781.8" r="2.3"/>
<circle cx="1449.4" cy="786.9" r="2.3"/>
<circle cx="1449.5" cy="792.0" r="2.3"/>
<circle cx="1481.7" cy="40.0" r="2.3"/>
<circle cx="1482.3" cy="58.7" r="2.3"/>
<circle cx="1482.3" cy="88.4" r="2.3"/>
<circle cx="1482.3" cy="112.1" r="2.3"/>
<circle cx="1482.3" cy="128.7" r="2.3"/>
<circle cx="1482.3" cy="164.1" r="2.3"/>
<circle cx="1482.3" cy="172.6" r="2.3"/>
<circle cx="1482.3" cy="211.0" r="2.3"/>
<circle cx="1482.3" cy="222.2" r="2.3"/>
<circle cx="1482.3" cy="252.6" r="2.3"/>
<circle cx="1482.3" cy="275.6" r="2.3"/>
<circle cx="1482.3" cy="292.8" r="2.3"/>
<circle cx="1482.3" cy="327.8" r="2.3"/>
<circle cx="1482.3" cy="336.4" r="2.3"/>
<circle cx="1482.3" cy="367.7" r="2.3"/>
<circle cx="1483.1" cy="624.0" r="2.3"/>
<circle cx="1483.2" cy="629.1" r="2.3"/>
<circle cx="1483.2" cy="634.1" r="2.3"/>
<circle cx="1483.3" cy="639.2" r="2.3"/>
<circle cx="1483.4" cy="644.2" r="2.3"/>
<circle cx="1483.5" cy="649.2" r="2.3"/>
<circle cx="1483.5" cy="654.3" r="2.3"/>
<circle cx="1483.6" cy="659.3" r="2.3"/>
<circle cx="1483.7" cy="664.4" r="2.3"/>
<circle cx="1483.8" cy="669.4" r="2.3"/>
<circle cx="1483.9" cy="674.4" r="2.3"/>
<circle cx="1483.9" cy="679.5" r="2.3"/>
<circle cx="1484.0" cy="684.5" r="2.3"/>
<circle cx="1484.1" cy="689.6" r="2.3"/>
<circle cx="1484.2" cy="694.6" r="2.3"/>
<circle cx="1484.2" cy="699.6" r="2.3"/>
<circle cx="1484.3" cy="704.7" r="2.3"/>
<circle cx="1484.4" cy="709.7" r="2.3"/>
<circle cx="1484.5" cy="714.8" r="2.3"/>
<circle cx="1484.6" cy="719.8" r="2.3"/>
<circle cx="1484.6" cy="724.9" r="2.3"/>
<circle cx="1484.7" cy="729.9" r="2.3"/>
<circle cx="1484.8" cy="734.9" r="2.3"/>
<circle cx="1484.9" cy="740.0" r="2.3"/>
<circle cx="1485.0" cy="745.0" r="2.3"/>
<circle cx="1485.0" cy="750.1" r="2.3"/>
<circle cx="1485.1" cy="755.1" r="2.3"/>
<circle cx="1485.2" cy="760.1" r="2.3"/>
<circle cx="1485.3" cy="765.2" r="2.3"/>
<circle cx="1485.3" cy="770.2" r="2.3"/>
<circle cx="1485.4" cy="775.3" r="2.3"/>
<circle cx="1485.5" cy="780.3" r="2.3"/>
<circle cx="1517.0" cy="40.0" r="2.3"/>
<circle cx="1517.6" cy="56.1" r="2.3"/>
<circle cx="1517.6" cy="95.2" r="2.3"/>
<circle cx="1517.6" cy="103.7" r="2.3"/>
<circle cx="1517.6" cy="138.9" r="2.3"/>
<circle cx="1517.6" cy="156.4" r="2.3"/>
<circle cx="1517.6" cy="179.3" r="2.3"/>
<circle cx="1517.6" cy="210.2" r="2.3"/>
<circle cx="1517.6" cy="221.2" r="2.3"/>
<circle cx="1517.6" cy="260.2" r="2.3"/>
<circle cx="1517.6" cy="268.5" r="2.3"/>
<circle cx="1517.6" cy="304.2" r="2.3"/>
<circle cx="1517.6" cy="321.0" r="2.3"/>
<circle cx="1517.6" cy="346.4" r="2.3"/>
<circle cx="1518.4" cy="609.1" r="2.3"/>
<circle cx="1518.4" cy="614.2" r="2.3"/>
<circle cx="1518.5" cy="619.3" r="2.3"/>
<circle cx="1518.5" cy="624.4" r="2.3"/>
<circle cx="1518.6" cy="629.5" r="2.3"/>
<circle cx="1518.6" cy="634.7" r="2.3"/>
<circle cx="1518.7" cy="639.8" r="2.3"/>
<circle cx="1518.7" cy="644.9" r="2.3"/>
<circle cx="1518.8" cy="650.0" r="2.3"/>
<circle cx="1518.8" cy="655.1" r="2.3"/>
<circle cx="1518.9" cy="660.2" r="2.3"/>
<circle cx="1518.9" cy="665.3" r="2.3"/>
<circle cx="1519.0" cy="670.4" r="2.3"/>
<circle cx="1519.0" cy="675.5" r="2.3"/>
<circle cx="1519.1" cy="680.6" r="2.3"/>
<circle cx="1519.2" cy="685.8" r="2.3"/>
<circle cx="1519.2" cy="690.9" r="2.3"/>
<circle cx="1519.3" cy="696.0" r="2.3"/>
<circle cx="1519.3" cy="701.1" r="2.3"/>
<circle cx="1519.4" cy="706.2" r="2.3"/>
<circle cx="1519.4" cy="711.3" r="2.3"/>
<circle cx="1519.5" cy="716.4" r="2.3"/>
<circle cx="1519.5" cy="721.5" r="2.3"/>
<circle cx="1519.6" cy="726.6" r="2.3"/>
<circle cx="1519.6" cy="731.7" r="2.3"/>
<circle cx="1519.7" cy="736.8" r="2.3"/>
<circle cx="1519.7" cy="742.0" r="2.3"/>
<circle cx="1519.8" cy="747.1" r="2.3"/>
<circle cx="1519.8" cy="752.2" r="2.3"/>
<circle cx="1519.9" cy="757.3" r="2.3"/>
<circle cx="1519.9" cy="762.4" r="2.3"/>
<circle cx="1520.0" cy="767.5" r="2.3"/>
<circle cx="1550.9" cy="40.0" r="2.3"/>
<circle cx="1551.5" cy="64.6" r="2.3"/>
<circle cx="1551.5" cy="90.4" r="2.3"/>
<circle cx="1551.5" cy="105.7" r="2.3"/>
<circle cx="1551.5" cy="143.0" r="2.3"/>
<circle cx="1551.5" cy="150.9" r="2.3"/>
<circle cx="1551.5" cy="190.0" r="2.3"/>
<circle cx="1551.5" cy="202.1" r="2.3"/>
<circle cx="1551.5" cy="231.8" r="2.3"/>
<circle cx="1551.5" cy="256.7" r="2.3"/>
<circle cx="1551.5" cy="272.7" r="2.3"/>
<circle cx="1551.5" cy="309.6" r="2.3"/>
<circle cx="1551.5" cy="325.8" r="2.3"/>
<circle cx="1552.3" cy="593.0" r="2.3"/>
<circle cx="1552.3" cy="598.0" r="2.3"/>
<circle cx="1552.4" cy="603.0" r="2.3"/>
<circle cx="1552.5" cy="608.0" r="2.3"/>
<circle cx="1552.5" cy="613.0" r="2.3"/>
<circle cx="1552.6" cy="618.0" r="2.3"/>
<circle cx="1552.7" cy="623.0" r="2.3"/>
<circle cx="1552.7" cy="628.0" r="2.3"/>
<circle cx="1552.8" cy="633.0" r="2.3"/>
<circle cx="1552.9" cy="638.0" r="2.3"/>
<circle cx="1552.9" cy="643.0" r="2.3"/>
<circle cx="1553.0" cy="648.0" r="2.3"/>
<circle cx="1553.1" cy="653.0" r="2.3"/>
<circle cx="1553.1" cy="658.0" r="2.3"/>
<circle cx="1553.2" cy="663.0" r="2.3"/>
<circle cx="1553.3" cy="668.0" r="2.3"/>
<circle cx="1553.3" cy="673.0" r="2.3"/>
<circle cx="1553.4" cy="678.0" r="2.3"/>
<circle cx="1553.5" cy="683.0" r="2.3"/>
<circle cx="1553.6" cy="688.0" r="2.3"/>
<circle cx="1553.6" cy="693.0" r="2.3"/>
<circle cx="1553.7" cy="698.0" r="2.3"/>
<circle cx="1553.8" cy="703.0" r="2.3"/>
<circle cx="1553.8" cy="708.0" r="2.3"/>
<circle cx="1553.9" cy="713.0" r="2.3"/>
<circle cx="1554.0" cy="718.0" r="2.3"/>
<circle cx="1554.0" cy="723.0" r="2.3"/>
<circle cx="1554.1" cy="728.0" r="2.3"/>
<circle cx="1554.2" cy="733.0" r="2.3"/>
<circle cx="1554.2" cy="738.0" r="2.3"/>
<circle cx="1554.3" cy="743.0" r="2.3"/>
<circle cx="1554.4" cy="748.0" r="2.3"/>
<circle cx="1554.4" cy="753.0" r="2.3"/>
<circle cx="1554.5" cy="758.0" r="2.3"/>
<circle cx="947.4" cy="833.5" r="2.3"/>
<circle cx="947.3" cy="837.1" r="2.3"/>
<circle cx="947.1" cy="840.9" r="2.3"/>
<circle cx="947.0" cy="844.7" r="2.3"/>
<circle cx="946.9" cy="848.7" r="2.3"/>
<circle cx="946.7" cy="852.9" r="2.3"/>
<circle cx="946.6" cy="857.2" r="2.3"/>
<circle cx="946.4" cy="861.6" r="2.3"/>
<circle cx="946.3" cy="866.2" r="2.3"/>
<circle cx="946.1" cy="871.0" r="2.3"/>
<circle cx="946.0" cy="875.9" r="2.3"/>
<circle cx="945.8" cy="881.0" r="2.3"/>
<circle cx="945.7" cy="886.2" r="2.3"/>
<circle cx="945.5" cy="891.7" r="2.3"/>
<circle cx="945.3" cy="897.3" r="2.3"/>
<circle cx="945.2" cy="903.1" r="2.3"/>
<circle cx="945.0" cy="909.1" r="2.3"/>
<circle cx="944.8" cy="915.3" r="2.3"/>
<circle cx="944.7" cy="921.8" r="2.3"/>
<circle cx="944.5" cy="928.5" r="2.3"/>
<circle cx="995.7" cy="808.5" r="2.3"/>
<circle cx="995.6" cy="812.1" r="2.3"/>
<circle cx="995.5" cy="815.8" r="2.3"/>
<circle cx="995.3" cy="819.6" r="2.3"/>
<circle cx="995.2" cy="823.6" r="2.3"/>
<circle cx="995.1" cy="827.6" r="2.3"/>
<circle cx="994.9" cy="831.8" r="2.3"/>
<circle cx="994.8" cy="836.1" r="2.3"/>
<circle cx="994.7" cy="840.5" r="2.3"/>
<circle cx="994.5" cy="845.1" r="2.3"/>
<circle cx="994.4" cy="849.8" r="2.3"/>
<circle cx="994.2" cy="854.6" r="2.3"/>
<circle cx="994.1" cy="859.6" r="2.3"/>
<circle cx="994.0" cy="864.8" r="2.3"/>
<circle cx="993.8" cy="870.1" r="2.3"/>
<circle cx="993.7" cy="875.5" r="2.3"/>
<circle cx="993.5" cy="881.1" r="2.3"/>
<circle cx="993.4" cy="886.9" r="2.3"/>
<circle cx="993.2" cy="892.8" r="2.3"/>
<circle cx="993.1" cy="899.0" r="2.3"/>
<circle cx="992.9" cy="905.3" r="2.3"/>
<circle cx="992.7" cy="911.8" r="2.3"/>
<circle cx="992.6" cy="918.5" r="2.3"/>
<circle cx="1043.3" cy="790.5" r="2.3"/>
<circle cx="1043.2" cy="794.1" r="2.3"/>
<circle cx="1043.1" cy="797.8" r="2.3"/>
<circle cx="1043.0" cy="801.6" r="2.3"/>
<circle cx="1042.9" cy="805.5" r="2.3"/>
<circle cx="1042.8" cy="809.6" r="2.3"/>
<circle cx="1042.6" cy="813.7" r="2.3"/>
<circle cx="1042.5" cy="818.0" r="2.3"/>
<circle cx="1042.4" cy="822.4" r="2.3"/>
<circle cx="1042.3" cy="826.9" r="2.3"/>
<circle cx="1042.1" cy="831.5" r="2.3"/>
<circle cx="1042.0" cy="836.3" r="2.3"/>
<circle cx="1041.9" cy="841.2" r="2.3"/>
<circle cx="1041.8" cy="846.2" r="2.3"/>
<circle cx="1041.6" cy="851.4" r="2.3"/>
<circle cx="1041.5" cy="856.8" r="2.3"/>
<circle cx="1041.4" cy="862.3" r="2.3"/>
<circle cx="1041.2" cy="867.9" r="2.3"/>
<circle cx="1041.1" cy="873.7" r="2.3"/>
<circle cx="1040.9" cy="879.7" r="2.3"/>
<circle cx="1040.8" cy="885.8" r="2.3"/>
<circle cx="1040.7" cy="892.2" r="2.3"/>
<circle cx="1040.5" cy="898.7" r="2.3"/>
<circle cx="1040.4" cy="905.4" r="2.3"/>
<circle cx="1089.0" cy="773.5" r="2.3"/>
<circle cx="1088.9" cy="777.1" r="2.3"/>
<circle cx="1088.8" cy="780.8" r="2.3"/>
<circle cx="1088.7" cy="784.6" r="2.3"/>
<circle cx="1088.6" cy="788.5" r="2.3"/>
<circle cx="1088.5" cy="792.5" r="2.3"/>
<circle cx="1088.4" cy="796.6" r="2.3"/>
<circle cx="1088.3" cy="800.8" r="2.3"/>
<circle cx="1088.2" cy="805.2" r="2.3"/>
<circle cx="1088.1" cy="809.6" r="2.3"/>
<circle cx="1088.0" cy="814.2" r="2.3"/>
<circle cx="1087.9" cy="818.9" r="2.3"/>
<circle cx="1087.8" cy="823.7" r="2.3"/>
<circle cx="1087.7" cy="828.7" r="2.3"/>
<circle cx="1087.6" cy="833.8" r="2.3"/>
<circle cx="1087.4" cy="839.0" r="2.3"/>
<circle cx="1087.3" cy="844.4" r="2.3"/>
<circle cx="1087.2" cy="849.9" r="2.3"/>
<circle cx="1087.1" cy="855.6" r="2.3"/>
<circle cx="1087.0" cy="861.4" r="2.3"/>
<circle cx="1086.9" cy="867.4" r="2.3"/>
<circle cx="1086.8" cy="873.6" r="2.3"/>
<circle cx="1086.6" cy="879.9" r="2.3"/>
<circle cx="1086.5" cy="886.4" r="2.3"/>
<circle cx="1086.4" cy="893.1" r="2.3"/>
<circle cx="1133.8" cy="758.5" r="2.3"/>
<circle cx="1133.7" cy="762.1" r="2.3"/>
<circle cx="1133.6" cy="765.8" r="2.3"/>
<circle cx="1133.5" cy="769.6" r="2.3"/>
<circle cx="1133.4" cy="773.5" r="2.3"/>
<circle cx="1133.3" cy="777.4" r="2.3"/>
<circle cx="1133.2" cy="781.5" r="2.3"/>
<circle cx="1133.1" cy="785.7" r="2.3"/>
<circle cx="1133.0" cy="790.1" r="2.3"/>
<circle cx="1132.9" cy="794.5" r="2.3"/>
<circle cx="1132.8" cy="799.0" r="2.3"/>
<circle cx="1132.7" cy="803.7" r="2.3"/>
<circle cx="1132.6" cy="808.5" r="2.3"/>
<circle cx="1132.4" cy="813.4" r="2.3"/>
<circle cx="1132.3" cy="818.5" r="2.3"/>
<circle cx="1132.2" cy="823.6" r="2.3"/>
<circle cx="1132.1" cy="829.0" r="2.3"/>
<circle cx="1132.0" cy="834.4" r="2.3"/>
<circle cx="1131.9" cy="840.0" r="2.3"/>
<circle cx="1131.8" cy="845.8" r="2.3"/>
<circle cx="1131.7" cy="851.7" r="2.3"/>
<circle cx="1131.5" cy="857.8" r="2.3"/>
<circle cx="1131.4" cy="864.0" r="2.3"/>
<circle cx="1131.3" cy="870.4" r="2.3"/>
<circle cx="1131.2" cy="876.9" r="2.3"/>
<circle cx="1131.1" cy="883.7" r="2.3"/>
<circle cx="1177.2" cy="743.5" r="2.3"/>
<circle cx="1177.1" cy="747.1" r="2.3"/>
<circle cx="1177.0" cy="750.8" r="2.3"/>
<circle cx="1176.9" cy="754.6" r="2.3"/>
<circle cx="1176.8" cy="758.4" r="2.3"/>
<circle cx="1176.7" cy="762.4" r="2.3"/>
<circle cx="1176.6" cy="766.5" r="2.3"/>
<circle cx="1176.5" cy="770.7" r="2.3"/>
<circle cx="1176.4" cy="775.0" r="2.3"/>
<circle cx="1176.3" cy="779.4" r="2.3"/>
<circle cx="1176.2" cy="783.9" r="2.3"/>
<circle cx="1176.1" cy="788.5" r="2.3"/>
<circle cx="1176.0" cy="793.3" r="2.3"/>
<circle cx="1175.9" cy="798.1" r="2.3"/>
<circle cx="1175.8" cy="803.1" r="2.3"/>
<circle cx="1175.7" cy="808.3" r="2.3"/>
<circle cx="1175.6" cy="813.5" r="2.3"/>
<circle cx="1175.5" cy="818.9" r="2.3"/>
<circle cx="1175.4" cy="824.5" r="2.3"/>
<circle cx="1175.3" cy="830.2" r="2.3"/>
<circle cx="1175.2" cy="836.0" r="2.3"/>
<circle cx="1175.1" cy="842.0" r="2.3"/>
<circle cx="1175.0" cy="848.1" r="2.3"/>
<circle cx="1174.9" cy="854.4" r="2.3"/>
<circle cx="1174.7" cy="860.8" r="2.3"/>
<circle cx="1174.6" cy="867.5" r="2.3"/>
<circle cx="1174.5" cy="874.3" r="2.3"/>
<circle cx="1219.6" cy="728.5" r="2.3"/>
<circle cx="1219.5" cy="732.1" r="2.3"/>
<circle cx="1219.4" cy="735.8" r="2.3"/>
<circle cx="1219.3" cy="739.5" r="2.3"/>
<circle cx="1219.2" cy="743.4" r="2.3"/>
<circle cx="1219.1" cy="747.4" r="2.3"/>
<circle cx="1219.0" cy="751.4" r="2.3"/>
<circle cx="1218.9" cy="755.6" r="2.3"/>
<circle cx="1218.8" cy="759.8" r="2.3"/>
<circle cx="1218.7" cy="764.2" r="2.3"/>
<circle cx="1218.6" cy="768.7" r="2.3"/>
<circle cx="1218.5" cy="773.3" r="2.3"/>
<circle cx="1218.4" cy="778.0" r="2.3"/>
<circle cx="1218.3" cy="782.8" r="2.3"/>
<circle cx="1218.2" cy="787.8" r="2.3"/>
<circle cx="1218.1" cy="792.8" r="2.3"/>
<circle cx="1217.9" cy="798.0" r="2.3"/>
<circle cx="1217.8" cy="803.4" r="2.3"/>
<circle cx="1217.7" cy="808.8" r="2.3"/>
<circle cx="1217.6" cy="814.4" r="2.3"/>
<circle cx="1217.5" cy="820.2" r="2.3"/>
<circle cx="1217.4" cy="826.1" r="2.3"/>
<circle cx="1217.3" cy="832.1" r="2.3"/>
<circle cx="1217.2" cy="838.3" r="2.3"/>
<circle cx="1217.1" cy="844.6" r="2.3"/>
<circle cx="1216.9" cy="851.1" r="2.3"/>
<circle cx="1216.8" cy="857.8" r="2.3"/>
<circle cx="1216.7" cy="864.6" r="2.3"/>
<circle cx="1260.9" cy="715.5" r="2.3"/>
<circle cx="1260.8" cy="719.1" r="2.3"/>
<circle cx="1260.7" cy="722.8" r="2.3"/>
<circle cx="1260.6" cy="726.5" r="2.3"/>
<circle cx="1260.5" cy="730.4" r="2.3"/>
<circle cx="1260.4" cy="734.4" r="2.3"/>
<circle cx="1260.3" cy="738.4" r="2.3"/>
<circle cx="1260.2" cy="742.6" r="2.3"/>
<circle cx="1260.1" cy="746.8" r="2.3"/>
<circle cx="1260.0" cy="751.2" r="2.3"/>
<circle cx="1259.9" cy="755.7" r="2.3"/>
<circle cx="1259.8" cy="760.3" r="2.3"/>
<circle cx="1259.7" cy="765.0" r="2.3"/>
<circle cx="1259.6" cy="769.8" r="2.3"/>
<circle cx="1259.5" cy="774.7" r="2.3"/>
<circle cx="1259.4" cy="779.8" r="2.3"/>
<circle cx="1259.3" cy="785.0" r="2.3"/>
<circle cx="1259.2" cy="790.3" r="2.3"/>
<circle cx="1259.0" cy="795.8" r="2.3"/>
<circle cx="1258.9" cy="801.4" r="2.3"/>
<circle cx="1258.8" cy="807.1" r="2.3"/>
<circle cx="1258.7" cy="813.0" r="2.3"/>
<circle cx="1258.6" cy="819.0" r="2.3"/>
<circle cx="1258.5" cy="825.1" r="2.3"/>
<circle cx="1258.4" cy="831.5" r="2.3"/>
<circle cx="1258.2" cy="837.9" r="2.3"/>
<circle cx="1258.1" cy="844.6" r="2.3"/>
<circle cx="1258.0" cy="851.4" r="2.3"/>
<circle cx="1301.2" cy="703.5" r="2.3"/>
<circle cx="1301.1" cy="707.1" r="2.3"/>
<circle cx="1301.0" cy="710.8" r="2.3"/>
<circle cx="1300.9" cy="714.5" r="2.3"/>
<circle cx="1300.8" cy="718.4" r="2.3"/>
<circle cx="1300.7" cy="722.3" r="2.3"/>
<circle cx="1300.6" cy="726.4" r="2.3"/>
<circle cx="1300.5" cy="730.5" r="2.3"/>
<circle cx="1300.4" cy="734.8" r="2.3"/>
<circle cx="1300.3" cy="739.1" r="2.3"/>
<circle cx="1300.1" cy="743.6" r="2.3"/>
<circle cx="1300.0" cy="748.2" r="2.3"/>
<circle cx="1299.9" cy="752.9" r="2.3"/>
<circle cx="1299.8" cy="757.7" r="2.3"/>
<circle cx="1299.7" cy="762.6" r="2.3"/>
<circle cx="1299.6" cy="767.6" r="2.3"/>
<circle cx="1299.4" cy="772.8" r="2.3"/>
<circle cx="1299.3" cy="778.1" r="2.3"/>
<circle cx="1299.2" cy="783.5" r="2.3"/>
<circle cx="1299.1" cy="789.1" r="2.3"/>
<circle cx="1299.0" cy="794.8" r="2.3"/>
<circle cx="1298.8" cy="800.6" r="2.3"/>
<circle cx="1298.7" cy="806.6" r="2.3"/>
<circle cx="1298.6" cy="812.7" r="2.3"/>
<circle cx="1298.5" cy="819.0" r="2.3"/>
<circle cx="1298.3" cy="825.4" r="2.3"/>
<circle cx="1298.2" cy="832.0" r="2.3"/>
<circle cx="1298.1" cy="838.7" r="2.3"/>
<circle cx="1340.2" cy="693.5" r="2.3"/>
<circle cx="1340.1" cy="697.1" r="2.3"/>
<circle cx="1340.1" cy="700.8" r="2.3"/>
<circle cx="1340.0" cy="704.5" r="2.3"/>
<circle cx="1339.9" cy="708.4" r="2.3"/>
<circle cx="1339.8" cy="712.4" r="2.3"/>
<circle cx="1339.7" cy="716.4" r="2.3"/>
<circle cx="1339.6" cy="720.6" r="2.3"/>
<circle cx="1339.5" cy="724.9" r="2.3"/>
<circle cx="1339.4" cy="729.3" r="2.3"/>
<circle cx="1339.3" cy="733.8" r="2.3"/>
<circle cx="1339.2" cy="738.4" r="2.3"/>
<circle cx="1339.1" cy="743.1" r="2.3"/>
<circle cx="1339.0" cy="747.9" r="2.3"/>
<circle cx="1338.9" cy="752.9" r="2.3"/>
<circle cx="1338.8" cy="758.0" r="2.3"/>
<circle cx="1338.7" cy="763.2" r="2.3"/>
<circle cx="1338.6" cy="768.6" r="2.3"/>
<circle cx="1338.5" cy="774.1" r="2.3"/>
<circle cx="1338.4" cy="779.7" r="2.3"/>
<circle cx="1338.3" cy="785.5" r="2.3"/>
<circle cx="1338.1" cy="791.4" r="2.3"/>
<circle cx="1338.0" cy="797.4" r="2.3"/>
<circle cx="1337.9" cy="803.7" r="2.3"/>
<circle cx="1337.8" cy="810.0" r="2.3"/>
<circle cx="1337.7" cy="816.6" r="2.3"/>
<circle cx="1337.6" cy="823.3" r="2.3"/>
<circle cx="1379.1" cy="671.5" r="2.3"/>
<circle cx="1379.0" cy="675.1" r="2.3"/>
<circle cx="1378.9" cy="678.7" r="2.3"/>
<circle cx="1378.8" cy="682.5" r="2.3"/>
<circle cx="1378.7" cy="686.3" r="2.3"/>
<circle cx="1378.6" cy="690.3" r="2.3"/>
<circle cx="1378.5" cy="694.3" r="2.3"/>
<circle cx="1378.4" cy="698.4" r="2.3"/>
<circle cx="1378.3" cy="702.6" r="2.3"/>
<circle cx="1378.2" cy="706.9" r="2.3"/>
<circle cx="1378.1" cy="711.4" r="2.3"/>
<circle cx="1378.0" cy="715.9" r="2.3"/>
<circle cx="1377.9" cy="720.5" r="2.3"/>
<circle cx="1377.8" cy="725.2" r="2.3"/>
<circle cx="1377.7" cy="730.1" r="2.3"/>
<circle cx="1377.6" cy="735.1" r="2.3"/>
<circle cx="1377.4" cy="740.1" r="2.3"/>
<circle cx="1377.3" cy="745.3" r="2.3"/>
<circle cx="1377.2" cy="750.6" r="2.3"/>
<circle cx="1377.1" cy="756.1" r="2.3"/>
<circle cx="1377.0" cy="761.7" r="2.3"/>
<circle cx="1376.9" cy="767.4" r="2.3"/>
<circle cx="1376.8" cy="773.2" r="2.3"/>
<circle cx="1376.7" cy="779.2" r="2.3"/>
<circle cx="1376.6" cy="785.3" r="2.3"/>
<circle cx="1376.4" cy="791.5" r="2.3"/>
<circle cx="1376.3" cy="798.0" r="2.3"/>
<circle cx="1376.2" cy="804.5" r="2.3"/>
<circle cx="1376.1" cy="811.2" r="2.3"/>
<circle cx="1417.5" cy="643.5" r="2.3"/>
<circle cx="1417.3" cy="647.1" r="2.3"/>
<circle cx="1417.2" cy="650.7" r="2.3"/>
<circle cx="1417.1" cy="654.5" r="2.3"/>
<circle cx="1417.0" cy="658.3" r="2.3"/>
<circle cx="1416.9" cy="662.1" r="2.3"/>
<circle cx="1416.8" cy="666.1" r="2.3"/>
<circle cx="1416.7" cy="670.2" r="2.3"/>
<circle cx="1416.5" cy="674.3" r="2.3"/>
<circle cx="1416.4" cy="678.5" r="2.3"/>
<circle cx="1416.3" cy="682.9" r="2.3"/>
<circle cx="1416.2" cy="687.3" r="2.3"/>
<circle cx="1416.1" cy="691.8" r="2.3"/>
<circle cx="1415.9" cy="696.4" r="2.3"/>
<circle cx="1415.8" cy="701.1" r="2.3"/>
<circle cx="1415.7" cy="705.9" r="2.3"/>
<circle cx="1415.6" cy="710.8" r="2.3"/>
<circle cx="1415.5" cy="715.8" r="2.3"/>
<circle cx="1415.3" cy="720.9" r="2.3"/>
<circle cx="1415.2" cy="726.1" r="2.3"/>
<circle cx="1415.1" cy="731.4" r="2.3"/>
<circle cx="1414.9" cy="736.9" r="2.3"/>
<circle cx="1414.8" cy="742.4" r="2.3"/>
<circle cx="1414.7" cy="748.1" r="2.3"/>
<circle cx="1414.6" cy="753.9" r="2.3"/>
<circle cx="1414.4" cy="759.8" r="2.3"/>
<circle cx="1414.3" cy="765.9" r="2.3"/>
<circle cx="1414.2" cy="772.0" r="2.3"/>
<circle cx="1414.0" cy="778.3" r="2.3"/>
<circle cx="1413.9" cy="784.8" r="2.3"/>
<circle cx="1413.8" cy="791.3" r="2.3"/>
<circle cx="1413.6" cy="798.1" r="2.3"/>
<circle cx="1452.2" cy="633.5" r="2.3"/>
<circle cx="1452.1" cy="637.1" r="2.3"/>
<circle cx="1452.0" cy="640.7" r="2.3"/>
<circle cx="1451.9" cy="644.5" r="2.3"/>
<circle cx="1451.8" cy="648.3" r="2.3"/>
<circle cx="1451.8" cy="652.2" r="2.3"/>
<circle cx="1451.7" cy="656.1" r="2.3"/>
<circle cx="1451.6" cy="660.2" r="2.3"/>
<circle cx="1451.5" cy="664.4" r="2.3"/>
<circle cx="1451.4" cy="668.6" r="2.3"/>
<circle cx="1451.4" cy="672.9" r="2.3"/>
<circle cx="1451.3" cy="677.4" r="2.3"/>
<circle cx="1451.2" cy="681.9" r="2.3"/>
<circle cx="1451.1" cy="686.5" r="2.3"/>
<circle cx="1451.0" cy="691.2" r="2.3"/>
<circle cx="1450.9" cy="696.1" r="2.3"/>
<circle cx="1450.9" cy="701.0" r="2.3"/>
<circle cx="1450.8" cy="706.0" r="2.3"/>
<circle cx="1450.7" cy="711.2" r="2.3"/>
<circle cx="1450.6" cy="716.4" r="2.3"/>
<circle cx="1450.5" cy="721.8" r="2.3"/>
<circle cx="1450.4" cy="727.3" r="2.3"/>
<circle cx="1450.3" cy="732.9" r="2.3"/>
<circle cx="1450.3" cy="738.6" r="2.3"/>
<circle cx="1450.2" cy="744.4" r="2.3"/>
<circle cx="1450.1" cy="750.4" r="2.3"/>
<circle cx="1450.0" cy="756.5" r="2.3"/>
<circle cx="1449.9" cy="762.7" r="2.3"/>
<circle cx="1449.8" cy="769.1" r="2.3"/>
<circle cx="1449.7" cy="775.6" r="2.3"/>
<circle cx="1449.6" cy="782.3" r="2.3"/>
<circle cx="1449.5" cy="789.0" r="2.3"/>
<circle cx="1488.0" cy="628.5" r="2.3"/>
<circle cx="1487.9" cy="632.1" r="2.3"/>
<circle cx="1487.9" cy="635.7" r="2.3"/>
<circle cx="1487.8" cy="639.5" r="2.3"/>
<circle cx="1487.7" cy="643.3" r="2.3"/>
<circle cx="1487.6" cy="647.2" r="2.3"/>
<circle cx="1487.5" cy="651.2" r="2.3"/>
<circle cx="1487.5" cy="655.3" r="2.3"/>
<circle cx="1487.4" cy="659.5" r="2.3"/>
<circle cx="1487.3" cy="663.8" r="2.3"/>
<circle cx="1487.2" cy="668.1" r="2.3"/>
<circle cx="1487.2" cy="672.6" r="2.3"/>
<circle cx="1487.1" cy="677.2" r="2.3"/>
<circle cx="1487.0" cy="681.9" r="2.3"/>
<circle cx="1486.9" cy="686.6" r="2.3"/>
<circle cx="1486.8" cy="691.5" r="2.3"/>
<circle cx="1486.7" cy="696.5" r="2.3"/>
<circle cx="1486.7" cy="701.6" r="2.3"/>
<circle cx="1486.6" cy="706.9" r="2.3"/>
<circle cx="1486.5" cy="712.2" r="2.3"/>
<circle cx="1486.4" cy="717.7" r="2.3"/>
<circle cx="1486.3" cy="723.3" r="2.3"/>
<circle cx="1486.2" cy="729.0" r="2.3"/>
<circle cx="1486.1" cy="734.8" r="2.3"/>
<circle cx="1486.1" cy="740.8" r="2.3"/>
<circle cx="1486.0" cy="746.9" r="2.3"/>
<circle cx="1485.9" cy="753.2" r="2.3"/>
<circle cx="1485.8" cy="759.6" r="2.3"/>
<circle cx="1485.7" cy="766.1" r="2.3"/>
<circle cx="1485.6" cy="772.8" r="2.3"/>
<circle cx="1485.5" cy="779.6" r="2.3"/>
<circle cx="1522.3" cy="628.5" r="2.3"/>
<circle cx="1522.2" cy="632.1" r="2.3"/>
<circle cx="1522.1" cy="635.8" r="2.3"/>
<circle cx="1522.0" cy="639.5" r="2.3"/>
<circle cx="1522.0" cy="643.4" r="2.3"/>
<circle cx="1521.9" cy="647.3" r="2.3"/>
<circle cx="1521.8" cy="651.4" r="2.3"/>
<circle cx="1521.7" cy="655.5" r="2.3"/>
<circle cx="1521.7" cy="659.8" r="2.3"/>
<circle cx="1521.6" cy="664.1" r="2.3"/>
<circle cx="1521.5" cy="668.6" r="2.3"/>
<circle cx="1521.4" cy="673.2" r="2.3"/>
<circle cx="1521.4" cy="677.8" r="2.3"/>
<circle cx="1521.3" cy="682.6" r="2.3"/>
<circle cx="1521.2" cy="687.6" r="2.3"/>
<circle cx="1521.1" cy="692.6" r="2.3"/>
<circle cx="1521.0" cy="697.8" r="2.3"/>
<circle cx="1520.9" cy="703.0" r="2.3"/>
<circle cx="1520.9" cy="708.5" r="2.3"/>
<circle cx="1520.8" cy="714.0" r="2.3"/>
<circle cx="1520.7" cy="719.7" r="2.3"/>
<circle cx="1520.6" cy="725.5" r="2.3"/>
<circle cx="1520.5" cy="731.5" r="2.3"/>
<circle cx="1520.4" cy="737.6" r="2.3"/>
<circle cx="1520.3" cy="743.9" r="2.3"/>
<circle cx="1520.2" cy="750.3" r="2.3"/>
<circle cx="1520.1" cy="756.9" r="2.3"/>
<circle cx="1520.1" cy="763.6" r="2.3"/>
<circle cx="632.0" cy="903.0" r="2.3"/>
<circle cx="631.8" cy="906.1" r="2.3"/>
<circle cx="631.6" cy="909.2" r="2.3"/>
<circle cx="631.4" cy="912.5" r="2.3"/>
<circle cx="631.2" cy="915.8" r="2.3"/>
<circle cx="631.1" cy="919.2" r="2.3"/>
<circle cx="630.9" cy="922.7" r="2.3"/>
<circle cx="630.7" cy="926.3" r="2.3"/>
<circle cx="630.5" cy="930.0" r="2.3"/>
<circle cx="630.3" cy="933.8" r="2.3"/>
<circle cx="630.1" cy="937.7" r="2.3"/>
<circle cx="629.9" cy="941.6" r="2.3"/>
<circle cx="629.7" cy="945.7" r="2.3"/>
<circle cx="629.5" cy="949.9" r="2.3"/>
<circle cx="629.3" cy="954.2" r="2.3"/>
<circle cx="629.1" cy="958.6" r="2.3"/>
<circle cx="628.9" cy="963.2" r="2.3"/>
<circle cx="628.7" cy="967.8" r="2.3"/>
<circle cx="628.5" cy="972.6" r="2.3"/>
<circle cx="628.3" cy="977.5" r="2.3"/>
<circle cx="628.0" cy="982.5" r="2.3"/>
<circle cx="627.8" cy="987.7" r="2.3"/>
<circle cx="627.6" cy="992.9" r="2.3"/>
<circle cx="687.0" cy="893.0" r="2.3"/>
<circle cx="686.9" cy="896.1" r="2.3"/>
<circle cx="686.7" cy="899.2" r="2.3"/>
<circle cx="686.6" cy="902.5" r="2.3"/>
<circle cx="686.4" cy="905.8" r="2.3"/>
<circle cx="686.2" cy="909.2" r="2.3"/>
<circle cx="686.1" cy="912.7" r="2.3"/>
<circle cx="685.9" cy="916.3" r="2.3"/>
<circle cx="685.7" cy="920.0" r="2.3"/>
<circle cx="685.5" cy="923.8" r="2.3"/>
<circle cx="685.4" cy="927.7" r="2.3"/>
<circle cx="685.2" cy="931.7" r="2.3"/>
<circle cx="685.0" cy="935.8" r="2.3"/>
<circle cx="684.8" cy="940.0" r="2.3"/>
<circle cx="684.7" cy="944.3" r="2.3"/>
<circle cx="684.5" cy="948.7" r="2.3"/>
<circle cx="684.3" cy="953.3" r="2.3"/>
<circle cx="684.1" cy="958.0" r="2.3"/>
<circle cx="683.9" cy="962.7" r="2.3"/>
<circle cx="683.7" cy="967.7" r="2.3"/>
<circle cx="683.5" cy="972.7" r="2.3"/>
<circle cx="683.4" cy="977.9" r="2.3"/>
<circle cx="683.2" cy="983.2" r="2.3"/>
<circle cx="742.0" cy="883.0" r="2.3"/>
<circle cx="741.8" cy="886.1" r="2.3"/>
<circle cx="741.7" cy="889.2" r="2.3"/>
<circle cx="741.5" cy="892.5" r="2.3"/>
<circle cx="741.3" cy="895.8" r="2.3"/>
<circle cx="741.1" cy="899.3" r="2.3"/>
<circle cx="740.9" cy="902.8" r="2.3"/>
<circle cx="740.7" cy="906.4" r="2.3"/>
<circle cx="740.6" cy="910.1" r="2.3"/>
<circle cx="740.4" cy="913.9" r="2.3"/>
<circle cx="740.2" cy="917.8" r="2.3"/>
<circle cx="740.0" cy="921.8" r="2.3"/>
<circle cx="739.8" cy="926.0" r="2.3"/>
<circle cx="739.6" cy="930.2" r="2.3"/>
<circle cx="739.4" cy="934.5" r="2.3"/>
<circle cx="739.2" cy="939.0" r="2.3"/>
<circle cx="739.0" cy="943.6" r="2.3"/>
<circle cx="738.8" cy="948.3" r="2.3"/>
<circle cx="738.6" cy="953.1" r="2.3"/>
<circle cx="738.4" cy="958.1" r="2.3"/>
<circle cx="738.2" cy="963.2" r="2.3"/>
<circle cx="738.0" cy="968.4" r="2.3"/>
<circle cx="795.6" cy="873.0" r="2.3"/>
<circle cx="795.4" cy="876.1" r="2.3"/>
<circle cx="795.3" cy="879.2" r="2.3"/>
<circle cx="795.1" cy="882.5" r="2.3"/>
<circle cx="795.0" cy="885.8" r="2.3"/>
<circle cx="794.8" cy="889.2" r="2.3"/>
<circle cx="794.7" cy="892.8" r="2.3"/>
<circle cx="794.5" cy="896.4" r="2.3"/>
<circle cx="794.3" cy="900.1" r="2.3"/>
<circle cx="794.2" cy="903.9" r="2.3"/>
<circle cx="794.0" cy="907.8" r="2.3"/>
<circle cx="793.8" cy="911.8" r="2.3"/>
<circle cx="793.7" cy="915.9" r="2.3"/>
<circle cx="793.5" cy="920.1" r="2.3"/>
<circle cx="793.3" cy="924.5" r="2.3"/>
<circle cx="793.2" cy="928.9" r="2.3"/>
<circle cx="793.0" cy="933.5" r="2.3"/>
<circle cx="792.8" cy="938.2" r="2.3"/>
<circle cx="792.6" cy="943.0" r="2.3"/>
<circle cx="792.4" cy="948.0" r="2.3"/>
<circle cx="792.3" cy="953.1" r="2.3"/>
<circle cx="792.1" cy="958.3" r="2.3"/>
<circle cx="847.2" cy="868.0" r="2.3"/>
<circle cx="847.1" cy="871.1" r="2.3"/>
<circle cx="846.9" cy="874.3" r="2.3"/>
<circle cx="846.8" cy="877.5" r="2.3"/>
<circle cx="846.6" cy="880.9" r="2.3"/>
<circle cx="846.5" cy="884.3" r="2.3"/>
<circle cx="846.3" cy="887.9" r="2.3"/>
<circle cx="846.2" cy="891.5" r="2.3"/>
<circle cx="846.0" cy="895.3" r="2.3"/>
<circle cx="845.9" cy="899.2" r="2.3"/>
<circle cx="845.7" cy="903.1" r="2.3"/>
<circle cx="845.6" cy="907.2" r="2.3"/>
<circle cx="845.4" cy="911.4" r="2.3"/>
<circle cx="845.3" cy="915.8" r="2.3"/>
<circle cx="845.1" cy="920.2" r="2.3"/>
<circle cx="844.9" cy="924.8" r="2.3"/>
<circle cx="844.8" cy="929.5" r="2.3"/>
<circle cx="844.6" cy="934.3" r="2.3"/>
<circle cx="844.4" cy="939.3" r="2.3"/>
<circle cx="844.3" cy="944.4" r="2.3"/>
<circle cx="844.1" cy="949.7" r="2.3"/>
<circle cx="897.5" cy="863.0" r="2.3"/>
<circle cx="897.4" cy="866.1" r="2.3"/>
<circle cx="897.3" cy="869.3" r="2.3"/>
<circle cx="897.2" cy="872.6" r="2.3"/>
<circle cx="897.1" cy="875.9" r="2.3"/>
<circle cx="896.9" cy="879.4" r="2.3"/>
<circle cx="896.8" cy="883.0" r="2.3"/>
<circle cx="896.7" cy="886.7" r="2.3"/>
<circle cx="896.6" cy="890.6" r="2.3"/>
<circle cx="896.4" cy="894.5" r="2.3"/>
<circle cx="896.3" cy="898.6" r="2.3"/>
<circle cx="896.2" cy="902.7" r="2.3"/>
<circle cx="896.0" cy="907.1" r="2.3"/>
<circle cx="895.9" cy="911.5" r="2.3"/>
<circle cx="895.7" cy="916.1" r="2.3"/>
<circle cx="895.6" cy="920.8" r="2.3"/>
<circle cx="895.5" cy="925.7" r="2.3"/>
<circle cx="895.3" cy="930.7" r="2.3"/>
<circle cx="895.2" cy="935.8" r="2.3"/>
<circle cx="895.0" cy="941.2" r="2.3"/>
</g>
<g>
<line x1="375.2" y1="0" x2="375.2" y2="1200" stroke="#0000ff" stroke-width="4.0"/>
<line x1="1555.0" y1="0" x2="1555.0" y2="1200" stroke="#0000ff" stroke-width="4.0"/>
<line x1="0" y1="850.5" x2="1800" y2="850.5" stroke="#008000" stroke-width="4.0"/>
<line x1="0" y1="631.0" x2="1800" y2="631.0" stroke="#ffa500" stroke-width="1.7"/>
<line x1="0" y1="761.7" x2="1800" y2="761.7" stroke="#ffa500" stroke-width="1.7"/>
</g>
<g fill="#90ee90">
<circle cx="566.3" cy="641.3" r="4.4"/>
<circle cx="566.3" cy="648.0" r="4.4"/>
<circle cx="566.3" cy="657.0" r="4.4"/>
<circle cx="566.3" cy="665.0" r="4.4"/>
<circle cx="566.3" cy="674.0" r="4.4"/>
<circle cx="566.3" cy="686.7" r="4.4"/>
<circle cx="566.4" cy="696.6" r="4.4"/>
<circle cx="566.4" cy="711.0" r="4.4"/>
<circle cx="566.4" cy="726.0" r="4.4"/>
<circle cx="566.4" cy="730.6" r="4.4"/>
<circle cx="566.4" cy="747.7" r="4.4"/>
<circle cx="566.4" cy="759.0" r="4.4"/>
<circle cx="566.4" cy="768.0" r="4.4"/>
<circle cx="566.4" cy="777.0" r="4.4"/>
<circle cx="566.4" cy="786.0" r="4.4"/>
<circle cx="566.5" cy="795.0" r="4.4"/>
<circle cx="566.5" cy="804.0" r="4.4"/>
<circle cx="566.5" cy="813.0" r="4.4"/>
<circle cx="566.5" cy="822.0" r="4.4"/>
<circle cx="566.5" cy="831.0" r="4.4"/>
<circle cx="566.5" cy="840.0" r="4.4"/>
<circle cx="566.5" cy="847.0" r="4.4"/>
<circle cx="566.5" cy="854.0" r="4.4"/>
<circle cx="566.5" cy="862.5" r="4.4"/>
<circle cx="566.5" cy="871.0" r="4.4"/>
<circle cx="566.5" cy="879.6" r="4.4"/>
<circle cx="566.5" cy="888.0" r="4.4"/>
<circle cx="566.6" cy="896.6" r="4.4"/>
<circle cx="566.6" cy="905.0" r="4.4"/>
<circle cx="566.6" cy="913.6" r="4.4"/>
<circle cx="566.6" cy="922.0" r="4.4"/>
<circle cx="566.6" cy="930.6" r="4.4"/>
<circle cx="566.6" cy="937.7" r="4.4"/>
</g>
<g fill="rgba(255,255,0,0.22)" stroke="rgba(255,255,0,0.22)" stroke-width="1.4">
<circle cx="947.4" cy="833.5" r="7.0"/>
<circle cx="947.3" cy="837.1" r="7.0"/>
<circle cx="947.1" cy="840.9" r="7.0"/>
<circle cx="947.0" cy="844.7" r="7.0"/>
<circle cx="946.9" cy="848.7" r="7.0"/>
<circle cx="995.7" cy="808.5" r="7.0"/>
<circle cx="995.6" cy="812.1" r="7.0"/>
<circle cx="995.5" cy="815.8" r="7.0"/>
<circle cx="995.3" cy="819.6" r="7.0"/>
<circle cx="995.2" cy="823.6" r="7.0"/>
<circle cx="995.1" cy="827.6" r="7.0"/>
<circle cx="994.9" cy="831.8" r="7.0"/>
<circle cx="994.8" cy="836.1" r="7.0"/>
<circle cx="994.7" cy="840.5" r="7.0"/>
<circle cx="994.5" cy="845.1" r="7.0"/>
<circle cx="994.4" cy="849.8" r="7.0"/>
<circle cx="1043.3" cy="790.5" r="7.0"/>
<circle cx="1043.2" cy="794.1" r="7.0"/>
<circle cx="1043.1" cy="797.8" r="7.0"/>
<circle cx="1043.0" cy="801.6" r="7.0"/>
<circle cx="1042.9" cy="805.5" r="7.0"/>
<circle cx="1042.8" cy="809.6" r="7.0"/>
<circle cx="1042.6" cy="813.7" r="7.0"/>
<circle cx="1042.5" cy="818.0" r="7.0"/>
<circle cx="1042.4" cy="822.4" r="7.0"/>
<circle cx="1042.3" cy="826.9" r="7.0"/>
<circle cx="1042.1" cy="831.5" r="7.0"/>
<circle cx="1042.0" cy="836.3" r="7.0"/>
<circle cx="1041.9" cy="841.2" r="7.0"/>
<circle cx="1041.8" cy="846.2" r="7.0"/>
<circle cx="1089.0" cy="773.5" r="7.0"/>
<circle cx="1088.9" cy="777.1" r="7.0"/>
<circle cx="1088.8" cy="780.8" r="7.0"/>
<circle cx="1088.7" cy="784.6" r="7.0"/>
<circle cx="1088.6" cy="788.5" r="7.0"/>
<circle cx="1088.5" cy="792.5" r="7.0"/>
<circle cx="1088.4" cy="796.6" r="7.0"/>
<circle cx="1088.3" cy="800.8" r="7.0"/>
<circle cx="1088.2" cy="805.2" r="7.0"/>
<circle cx="1088.1" cy="809.6" r="7.0"/>
<circle cx="1088.0" cy="814.2" r="7.0"/>
<circle cx="1087.9" cy="818.9" r="7.0"/>
<circle cx="1087.8" cy="823.7" r="7.0"/>
<circle cx="1087.7" cy="828.7" r="7.0"/>
<circle cx="1087.6" cy="833.8" r="7.0"/>
<circle cx="1087.4" cy="839.0" r="7.0"/>
<circle cx="1087.3" cy="844.4" r="7.0"/>
<circle cx="1087.2" cy="849.9" r="7.0"/>
<circle cx="1133.8" cy="758.5" r="7.0"/>
<circle cx="1133.7" cy="762.1" r="7.0"/>
<circle cx="1133.6" cy="765.8" r="7.0"/>
<circle cx="1133.5" cy="769.6" r="7.0"/>
<circle cx="1133.4" cy="773.5" r="7.0"/>
<circle cx="1133.3" cy="777.4" r="7.0"/>
<circle cx="1133.2" cy="781.5" r="7.0"/>
<circle cx="1133.1" cy="785.7" r="7.0"/>
<circle cx="1133.0" cy="790.1" r="7.0"/>
<circle cx="1132.9" cy="794.5" r="7.0"/>
<circle cx="1132.8" cy="799.0" r="7.0"/>
<circle cx="1132.7" cy="803.7" r="7.0"/>
<circle cx="1132.6" cy="808.5" r="7.0"/>
<circle cx="1132.4" cy="813.4" r="7.0"/>
<circle cx="1132.3" cy="818.5" r="7.0"/>
<circle cx="1132.2" cy="823.6" r="7.0"/>
<circle cx="1132.1" cy="829.0" r="7.0"/>
<circle cx="1132.0" cy="834.4" r="7.0"/>
<circle cx="1131.9" cy="840.0" r="7.0"/>
<circle cx="1131.8" cy="845.8" r="7.0"/>
<circle cx="1177.2" cy="743.5" r="7.0"/>
<circle cx="1177.1" cy="747.1" r="7.0"/>
<circle cx="1177.0" cy="750.8" r="7.0"/>
<circle cx="1176.9" cy="754.6" r="7.0"/>
<circle cx="1176.8" cy="758.4" r="7.0"/>
<circle cx="1176.7" cy="762.4" r="7.0"/>
<circle cx="1176.6" cy="766.5" r="7.0"/>
<circle cx="1176.5" cy="770.7" r="7.0"/>
<circle cx="1176.4" cy="775.0" r="7.0"/>
<circle cx="1176.3" cy="779.4" r="7.0"/>
<circle cx="1176.2" cy="783.9" r="7.0"/>
<circle cx="1176.1" cy="788.5" r="7.0"/>
<circle cx="1176.0" cy="793.3" r="7.0"/>
<circle cx="1175.9" cy="798.1" r="7.0"/>
<circle cx="1175.8" cy="803.1" r="7.0"/>
<circle cx="1175.7" cy="808.3" r="7.0"/>
<circle cx="1175.6" cy="813.5" r="7.0"/>
<circle cx="1175.5" cy="818.9" r="7.0"/>
<circle cx="1175.4" cy="824.5" r="7.0"/>
<circle cx="1175.3" cy="830.2" r="7.0"/>
<circle cx="1175.2" cy="836.0" r="7.0"/>
<circle cx="1175.1" cy="842.0" r="7.0"/>
<circle cx="1175.0" cy="848.1" r="7.0"/>
<circle cx="1219.6" cy="728.5" r="7.0"/>
<circle cx="1219.5" cy="732.1" r="7.0"/>
<circle cx="1219.4" cy="735.8" r="7.0"/>
<circle cx="1219.3" cy="739.5" r="7.0"/>
<circle cx="1219.2" cy="743.4" r="7.0"/>
<circle cx="1219.1" cy="747.4" r="7.0"/>
<circle cx="1219.0" cy="751.4" r="7.0"/>
<circle cx="1218.9" cy="755.6" r="7.0"/>
<circle cx="1218.8" cy="759.8" r="7.0"/>
<circle cx="1218.7" cy="764.2" r="7.0"/>
<circle cx="1218.6" cy="768.7" r="7.0"/>
<circle cx="1218.5" cy="773.3" r="7.0"/>
<circle cx="1218.4" cy="778.0" r="7.0"/>
<circle cx="1218.3" cy="782.8" r="7.0"/>
<circle cx="1218.2" cy="787.8" r="7.0"/>
<circle cx="1218.1" cy="792.8" r="7.0"/>
<circle cx="1217.9" cy="798.0" r="7.0"/>
<circle cx="1217.8" cy="803.4" r="7.0"/>
<circle cx="1217.7" cy="808.8" r="7.0"/>
<circle cx="1217.6" cy="814.4" r="7.0"/>
<circle cx="1217.5" cy="820.2" r="7.0"/>
<circle cx="1217.4" cy="826.1" r="7.0"/>
<circle cx="1217.3" cy="832.1" r="7.0"/>
<circle cx="1217.2" cy="838.3" r="7.0"/>
<circle cx="1217.1" cy="844.6" r="7.0"/>
<circle cx="1260.9" cy="715.5" r="7.0"/>
<circle cx="1260.8" cy="719.1" r="7.0"/>
<circle cx="1260.7" cy="722.8" r="7.0"/>
<circle cx="1260.6" cy="726.5" r="7.0"/>
<circle cx="1260.5" cy="730.4" r="7.0"/>
<circle cx="1260.4" cy="734.4" r="7.0"/>
<circle cx="1260.3" cy="738.4" r="7.0"/>
<circle cx="1260.2" cy="742.6" r="7.0"/>
<circle cx="1260.1" cy="746.8" r="7.0"/>
<circle cx="1260.0" cy="751.2" r="7.0"/>
<circle cx="1259.9" cy="755.7" r="7.0"/>
<circle cx="1259.8" cy="760.3" r="7.0"/>
<circle cx="1259.7" cy="765.0" r="7.0"/>
<circle cx="1259.6" cy="769.8" r="7.0"/>
<circle cx="1259.5" cy="774.7" r="7.0"/>
<circle cx="1259.4" cy="779.8" r="7.0"/>
<circle cx="1259.3" cy="785.0" r="7.0"/>
<circle cx="1259.2" cy="790.3" r="7.0"/>
<circle cx="1259.0" cy="795.8" r="7.0"/>
<circle cx="1258.9" cy="801.4" r="7.0"/>
<circle cx="1258.8" cy="807.1" r="7.0"/>
<circle cx="1258.7" cy="813.0" r="7.0"/>
<circle cx="1258.6" cy="819.0" r="7.0"/>
<circle cx="1258.5" cy="825.1" r="7.0"/>
<circle cx="1258.4" cy="831.5" r="7.0"/>
<circle cx="1258.2" cy="837.9" r="7.0"/>
<circle cx="1258.1" cy="844.6" r="7.0"/>
<circle cx="1301.2" cy="703.5" r="7.0"/>
<circle cx="1301.1" cy="707.1" r="7.0"/>
<circle cx="1301.0" cy="710.8" r="7.0"/>
<circle cx="1300.9" cy="714.5" r="7.0"/>
<circle cx="1300.8" cy="718.4" r="7.0"/>
<circle cx="1300.7" cy="722.3" r="7.0"/>
<circle cx="1300.6" cy="726.4" r="7.0"/>
<circle cx="1300.5" cy="730.5" r="7.0"/>
<circle cx="1300.4" cy="734.8" r="7.0"/>
<circle cx="1300.3" cy="739.1" r="7.0"/>
<circle cx="1300.1" cy="743.6" r="7.0"/>
<circle cx="1300.0" cy="748.2" r="7.0"/>
<circle cx="1299.9" cy="752.9" r="7.0"/>
<circle cx="1299.8" cy="757.7" r="7.0"/>
<circle cx="1299.7" cy="762.6" r="7.0"/>
<circle cx="1299.6" cy="767.6" r="7.0"/>
<circle cx="1299.4" cy="772.8" r="7.0"/>
<circle cx="1299.3" cy="778.1" r="7.0"/>
<circle cx="1299.2" cy="783.5" r="7.0"/>
<circle cx="1299.1" cy="789.1" r="7.0"/>
<circle cx="1299.0" cy="794.8" r="7.0"/>
<circle cx="1298.8" cy="800.6" r="7.0"/>
<circle cx="1298.7" cy="806.6" r="7.0"/>
<circle cx="1298.6" cy="812.7" r="7.0"/>
<circle cx="1298.5" cy="819.0" r="7.0"/>
<circle cx="1298.3" cy="825.4" r="7.0"/>
<circle cx="1298.2" cy="832.0" r="7.0"/>
<circle cx="1298.1" cy="838.7" r="7.0"/>
<circle cx="1340.2" cy="693.5" r="7.0"/>
<circle cx="1340.1" cy="697.1" r="7.0"/>
<circle cx="1340.1" cy="700.8" r="7.0"/>
<circle cx="1340.0" cy="704.5" r="7.0"/>
<circle cx="1339.9" cy="708.4" r="7.0"/>
<circle cx="1339.8" cy="712.4" r="7.0"/>
<circle cx="1339.7" cy="716.4" r="7.0"/>
<circle cx="1339.6" cy="720.6" r="7.0"/>
<circle cx="1339.5" cy="724.9" r="7.0"/>
<circle cx="1339.4" cy="729.3" r="7.0"/>
<circle cx="1339.3" cy="733.8" r="7.0"/>
<circle cx="1339.2" cy="738.4" r="7.0"/>
<circle cx="1339.1" cy="743.1" r="7.0"/>
<circle cx="1339.0" cy="747.9" r="7.0"/>
<circle cx="1338.9" cy="752.9" r="7.0"/>
<circle cx="1338.8" cy="758.0" r="7.0"/>
<circle cx="1338.7" cy="763.2" r="7.0"/>
<circle cx="1338.6" cy="768.6" r="7.0"/>
<circle cx="1338.5" cy="774.1" r="7.0"/>
<circle cx="1338.4" cy="779.7" r="7.0"/>
<circle cx="1338.3" cy="785.5" r="7.0"/>
<circle cx="1338.1" cy="791.4" r="7.0"/>
<circle cx="1338.0" cy="797.4" r="7.0"/>
<circle cx="1337.9" cy="803.7" r="7.0"/>
<circle cx="1337.8" cy="810.0" r="7.0"/>
<circle cx="1337.7" cy="816.6" r="7.0"/>
<circle cx="1337.6" cy="823.3" r="7.0"/>
<circle cx="1379.1" cy="671.5" r="7.0"/>
<circle cx="1379.0" cy="675.1" r="7.0"/>
<circle cx="1378.9" cy="678.7" r="7.0"/>
<circle cx="1378.8" cy="682.5" r="7.0"/>
<circle cx="1378.7" cy="686.3" r="7.0"/>
<circle cx="1378.6" cy="690.3" r="7.0"/>
<circle cx="1378.5" cy="694.3" r="7.0"/>
<circle cx="1378.4" cy="698.4" r="7.0"/>
<circle cx="1378.3" cy="702.6" r="7.0"/>
<circle cx="1378.2" cy="706.9" r="7.0"/>
<circle cx="1378.1" cy="711.4" r="7.0"/>
<circle cx="1378.0" cy="715.9" r="7.0"/>
<circle cx="1377.9" cy="720.5" r="7.0"/>
<circle cx="1377.8" cy="725.2" r="7.0"/>
<circle cx="1377.7" cy="730.1" r="7.0"/>
<circle cx="1377.6" cy="735.1" r="7.0"/>
<circle cx="1377.4" cy="740.1" r="7.0"/>
<circle cx="1377.3" cy="745.3" r="7.0"/>
<circle cx="1377.2" cy="750.6" r="7.0"/>
<circle cx="1377.1" cy="756.1" r="7.0"/>
<circle cx="1377.0" cy="761.7" r="7.0"/>
<circle cx="1376.9" cy="767.4" r="7.0"/>
<circle cx="1376.8" cy="773.2" r="7.0"/>
<circle cx="1376.7" cy="779.2" r="7.0"/>
<circle cx="1376.6" cy="785.3" r="7.0"/>
<circle cx="1376.4" cy="791.5" r="7.0"/>
<circle cx="1376.3" cy="798.0" r="7.0"/>
<circle cx="1376.2" cy="804.5" r="7.0"/>
<circle cx="1376.1" cy="811.2" r="7.0"/>
<circle cx="1417.5" cy="643.5" r="7.0"/>
<circle cx="1417.3" cy="647.1" r="7.0"/>
<circle cx="1417.2" cy="650.7" r="7.0"/>
<circle cx="1417.1" cy="654.5" r="7.0"/>
<circle cx="1417.0" cy="658.3" r="7.0"/>
<circle cx="1416.9" cy="662.1" r="7.0"/>
<circle cx="1416.8" cy="666.1" r="7.0"/>
<circle cx="1416.7" cy="670.2" r="7.0"/>
<circle cx="1416.5" cy="674.3" r="7.0"/>
<circle cx="1416.4" cy="678.5" r="7.0"/>
<circle cx="1416.3" cy="682.9" r="7.0"/>
<circle cx="1416.2" cy="687.3" r="7.0"/>
<circle cx="1416.1" cy="691.8" r="7.0"/>
<circle cx="1415.9" cy="696.4" r="7.0"/>
<circle cx="1415.8" cy="701.1" r="7.0"/>
<circle cx="1415.7" cy="705.9" r="7.0"/>
<circle cx="1415.6" cy="710.8" r="7.0"/>
<circle cx="1415.5" cy="715.8" r="7.0"/>
<circle cx="1415.3" cy="720.9" r="7.0"/>
<circle cx="1415.2" cy="726.1" r="7.0"/>
<circle cx="1415.1" cy="731.4" r="7.0"/>
<circle cx="1414.9" cy="736.9" r="7.0"/>
<circle cx="1414.8" cy="742.4" r="7.0"/>
<circle cx="1414.7" cy="748.1" r="7.0"/>
<circle cx="1414.6" cy="753.9" r="7.0"/>
<circle cx="1414.4" cy="759.8" r="7.0"/>
<circle cx="1414.3" cy="765.9" r="7.0"/>
<circle cx="1414.2" cy="772.0" r="7.0"/>
<circle cx="1414.0" cy="778.3" r="7.0"/>
<circle cx="1413.9" cy="784.8" r="7.0"/>
<circle cx="1413.8" cy="791.3" r="7.0"/>
<circle cx="1413.6" cy="798.1" r="7.0"/>
<circle cx="1452.2" cy="633.5" r="7.0"/>
<circle cx="1452.1" cy="637.1" r="7.0"/>
<circle cx="1452.0" cy="640.7" r="7.0"/>
<circle cx="1451.9" cy="644.5" r="7.0"/>
<circle cx="1451.8" cy="648.3" r="7.0"/>
<circle cx="1451.8" cy="652.2" r="7.0"/>
<circle cx="1451.7" cy="656.1" r="7.0"/>
<circle cx="1451.6" cy="660.2" r="7.0"/>
<circle cx="1451.5" cy="664.4" r="7.0"/>
<circle cx="1451.4" cy="668.6" r="7.0"/>
<circle cx="1451.4" cy="672.9" r="7.0"/>
<circle cx="1451.3" cy="677.4" r="7.0"/>
<circle cx="1451.2" cy="681.9" r="7.0"/>
<circle cx="1451.1" cy="686.5" r="7.0"/>
<circle cx="1451.0" cy="691.2" r="7.0"/>
<circle cx="1450.9" cy="696.1" r="7.0"/>
<circle cx="1450.9" cy="701.0" r="7.0"/>
<circle cx="1450.8" cy="706.0" r="7.0"/>
<circle cx="1450.7" cy="711.2" r="7.0"/>
<circle cx="1450.6" cy="716.4" r="7.0"/>
<circle cx="1450.5" cy="721.8" r="7.0"/>
<circle cx="1450.4" cy="727.3" r="7.0"/>
<circle cx="1450.3" cy="732.9" r="7.0"/>
<circle cx="1450.3" cy="738.6" r="7.0"/>
<circle cx="1450.2" cy="744.4" r="7.0"/>
<circle cx="1450.1" cy="750.4" r="7.0"/>
<circle cx="1450.0" cy="756.5" r="7.0"/>
<circle cx="1449.9" cy="762.7" r="7.0"/>
<circle cx="1449.8" cy="769.1" r="7.0"/>
<circle cx="1449.7" cy="775.6" r="7.0"/>
<circle cx="1449.6" cy="782.3" r="7.0"/>
<circle cx="1449.5" cy="789.0" r="7.0"/>
<circle cx="1487.9" cy="632.1" r="7.0"/>
<circle cx="1487.9" cy="635.7" r="7.0"/>
<circle cx="1487.8" cy="639.5" r="7.0"/>
<circle cx="1487.7" cy="643.3" r="7.0"/>
<circle cx="1487.6" cy="647.2" r="7.0"/>
<circle cx="1487.5" cy="651.2" r="7.0"/>
<circle cx="1487.5" cy="655.3" r="7.0"/>
<circle cx="1487.4" cy="659.5" r="7.0"/>
<circle cx="1487.3" cy="663.8" r="7.0"/>
<circle cx="1487.2" cy="668.1" r="7.0"/>
<circle cx="1487.2" cy="672.6" r="7.0"/>
<circle cx="1487.1" cy="677.2" r="7.0"/>
<circle cx="1487.0" cy="681.9" r="7.0"/>
<circle cx="1486.9" cy="686.6" r="7.0"/>
<circle cx="1486.8" cy="691.5" r="7.0"/>
<circle cx="1486.7" cy="696.5" r="7.0"/>
<circle cx="1486.7" cy="701.6" r="7.0"/>
<circle cx="1486.6" cy="706.9" r="7.0"/>
<circle cx="1486.5" cy="712.2" r="7.0"/>
<circle cx="1486.4" cy="717.7" r="7.0"/>
<circle cx="1486.3" cy="723.3" r="7.0"/>
<circle cx="1486.2" cy="729.0" r="7.0"/>
<circle cx="1486.1" cy="734.8" r="7.0"/>
<circle cx="1486.1" cy="740.8" r="7.0"/>
<circle cx="1486.0" cy="746.9" r="7.0"/>
<circle cx="1485.9" cy="753.2" r="7.0"/>
<circle cx="1485.8" cy="759.6" r="7.0"/>
<circle cx="1485.7" cy="766.1" r="7.0"/>
<circle cx="1485.6" cy="772.8" r="7.0"/>
<circle cx="1485.5" cy="779.6" r="7.0"/>
<circle cx="1522.2" cy="632.1" r="7.0"/>
<circle cx="1522.1" cy="635.8" r="7.0"/>
<circle cx="1522.0" cy="639.5" r="7.0"/>
<circle cx="1522.0" cy="643.4" r="7.0"/>
<circle cx="1521.9" cy="647.3" r="7.0"/>
<circle cx="1521.8" cy="651.4" r="7.0"/>
<circle cx="1521.7" cy="655.5" r="7.0"/>
<circle cx="1521.7" cy="659.8" r="7.0"/>
<circle cx="1521.6" cy="664.1" r="7.0"/>
<circle cx="1521.5" cy="668.6" r="7.0"/>
<circle cx="1521.4" cy="673.2" r="7.0"/>
<circle cx="1521.4" cy="677.8" r="7.0"/>
<circle cx="1521.3" cy="682.6" r="7.0"/>
<circle cx="1521.2" cy="687.6" r="7.0"/>
<circle cx="1521.1" cy="692.6" r="7.0"/>
<circle cx="1521.0" cy="697.8" r="7.0"/>
<circle cx="1520.9" cy="703.0" r="7.0"/>
<circle cx="1520.9" cy="708.5" r="7.0"/>
<circle cx="1520.8" cy="714.0" r="7.0"/>
<circle cx="1520.7" cy="719.7" r="7.0"/>
<circle cx="1520.6" cy="725.5" r="7.0"/>
<circle cx="1520.5" cy="731.5" r="7.0"/>
<circle cx="1520.4" cy="737.6" r="7.0"/>
<circle cx="1520.3" cy="743.9" r="7.0"/>
<circle cx="1520.2" cy="750.3" r="7.0"/>
<circle cx="1520.1" cy="756.9" r="7.0"/>
<circle cx="1520.1" cy="763.6" r="7.0"/>
<circle cx="395.7" cy="804.0" r="7.0"/>
<circle cx="396.3" cy="813.0" r="7.0"/>
<circle cx="396.3" cy="832.1" r="7.0"/>
<circle cx="396.3" cy="840.5" r="7.0"/>
<circle cx="451.6" cy="746.0" r="7.0"/>
<circle cx="452.2" cy="759.1" r="7.0"/>
<circle cx="452.2" cy="770.2" r="7.0"/>
<circle cx="452.2" cy="779.3" r="7.0"/>
<circle cx="452.2" cy="796.7" r="7.0"/>
<circle cx="452.2" cy="801.2" r="7.0"/>
<circle cx="452.2" cy="817.0" r="7.0"/>
<circle cx="509.1" cy="692.5" r="7.0"/>
<circle cx="509.7" cy="709.3" r="7.0"/>
<circle cx="509.7" cy="713.9" r="7.0"/>
<circle cx="509.7" cy="733.2" r="7.0"/>
<circle cx="509.7" cy="741.8" r="7.0"/>
<circle cx="509.7" cy="755.0" r="7.0"/>
<circle cx="509.7" cy="770.6" r="7.0"/>
<circle cx="509.7" cy="777.3" r="7.0"/>
<circle cx="509.7" cy="793.5" r="7.0"/>
<circle cx="566.0" cy="641.0" r="7.0"/>
<circle cx="566.5" cy="641.3" r="7.0"/>
<circle cx="566.5" cy="648.0" r="7.0"/>
<circle cx="566.5" cy="657.0" r="7.0"/>
<circle cx="566.5" cy="665.0" r="7.0"/>
<circle cx="566.5" cy="674.0" r="7.0"/>
<circle cx="566.5" cy="686.7" r="7.0"/>
<circle cx="566.5" cy="696.6" r="7.0"/>
<circle cx="566.5" cy="711.0" r="7.0"/>
<circle cx="566.5" cy="726.0" r="7.0"/>
<circle cx="566.5" cy="730.6" r="7.0"/>
<circle cx="566.5" cy="747.7" r="7.0"/>
<circle cx="566.5" cy="759.0" r="7.0"/>
<circle cx="566.5" cy="768.0" r="7.0"/>
<circle cx="622.8" cy="642.4" r="7.0"/>
<circle cx="622.8" cy="659.5" r="7.0"/>
<circle cx="622.8" cy="665.5" r="7.0"/>
<circle cx="622.8" cy="687.3" r="7.0"/>
<circle cx="622.8" cy="691.7" r="7.0"/>
<circle cx="622.8" cy="711.7" r="7.0"/>
<circle cx="622.8" cy="720.8" r="7.0"/>
<circle cx="622.8" cy="734.0" r="7.0"/>
<circle cx="622.8" cy="748.0" r="7.0"/>
<circle cx="679.1" cy="643.4" r="7.0"/>
<circle cx="679.1" cy="653.1" r="7.0"/>
<circle cx="679.1" cy="674.7" r="7.0"/>
<circle cx="679.1" cy="679.8" r="7.0"/>
<circle cx="679.1" cy="702.9" r="7.0"/>
<circle cx="679.1" cy="710.0" r="7.0"/>
<circle cx="679.1" cy="727.0" r="7.0"/>
<circle cx="733.4" cy="632.6" r="7.0"/>
<circle cx="733.4" cy="646.4" r="7.0"/>
<circle cx="733.4" cy="665.7" r="7.0"/>
<circle cx="733.4" cy="672.4" r="7.0"/>
<circle cx="733.4" cy="696.4" r="7.0"/>
<circle cx="733.4" cy="706.0" r="7.0"/>
<circle cx="787.0" cy="641.6" r="7.0"/>
<circle cx="787.0" cy="657.9" r="7.0"/>
<circle cx="787.0" cy="668.2" r="7.0"/>
<circle cx="787.0" cy="687.0" r="7.0"/>
<circle cx="839.7" cy="637.5" r="7.0"/>
<circle cx="839.7" cy="650.0" r="7.0"/>
<circle cx="839.7" cy="666.0" r="7.0"/>
<circle cx="890.8" cy="634.8" r="7.0"/>
<circle cx="890.8" cy="646.0" r="7.0"/>
<circle cx="891.7" cy="839.1" r="7.0"/>
<circle cx="891.8" cy="844.2" r="7.0"/>
<circle cx="892.0" cy="849.4" r="7.0"/>
<circle cx="941.3" cy="823.2" r="7.0"/>
<circle cx="941.5" cy="828.3" r="7.0"/>
<circle cx="941.6" cy="833.5" r="7.0"/>
<circle cx="941.8" cy="838.6" r="7.0"/>
<circle cx="941.9" cy="843.8" r="7.0"/>
<circle cx="942.1" cy="849.0" r="7.0"/>
<circle cx="989.3" cy="808.2" r="7.0"/>
<circle cx="989.5" cy="813.3" r="7.0"/>
<circle cx="989.6" cy="818.5" r="7.0"/>
<circle cx="989.8" cy="823.7" r="7.0"/>
<circle cx="989.9" cy="828.9" r="7.0"/>
<circle cx="990.1" cy="834.0" r="7.0"/>
<circle cx="990.2" cy="839.2" r="7.0"/>
<circle cx="990.3" cy="844.4" r="7.0"/>
<circle cx="990.5" cy="849.6" r="7.0"/>
<circle cx="1037.0" cy="792.1" r="7.0"/>
<circle cx="1037.2" cy="797.2" r="7.0"/>
<circle cx="1037.3" cy="802.3" r="7.0"/>
<circle cx="1037.5" cy="807.4" r="7.0"/>
<circle cx="1037.6" cy="812.5" r="7.0"/>
<circle cx="1037.8" cy="817.6" r="7.0"/>
<circle cx="1037.9" cy="822.7" r="7.0"/>
<circle cx="1038.0" cy="827.8" r="7.0"/>
<circle cx="1038.2" cy="832.9" r="7.0"/>
<circle cx="1038.3" cy="838.0" r="7.0"/>
<circle cx="1038.5" cy="843.1" r="7.0"/>
<circle cx="1038.6" cy="848.2" r="7.0"/>
<circle cx="1082.9" cy="777.1" r="7.0"/>
<circle cx="1083.1" cy="782.1" r="7.0"/>
<circle cx="1083.2" cy="787.2" r="7.0"/>
<circle cx="1083.4" cy="792.2" r="7.0"/>
<circle cx="1083.5" cy="797.3" r="7.0"/>
<circle cx="1083.6" cy="802.4" r="7.0"/>
<circle cx="1083.8" cy="807.4" r="7.0"/>
<circle cx="1083.9" cy="812.5" r="7.0"/>
<circle cx="1084.1" cy="817.5" r="7.0"/>
<circle cx="1084.2" cy="822.6" r="7.0"/>
<circle cx="1084.3" cy="827.7" r="7.0"/>
<circle cx="1084.5" cy="832.7" r="7.0"/>
<circle cx="1084.6" cy="837.8" r="7.0"/>
<circle cx="1084.8" cy="842.8" r="7.0"/>
<circle cx="1084.9" cy="847.9" r="7.0"/>
<circle cx="1127.6" cy="761.0" r="7.0"/>
<circle cx="1127.8" cy="766.1" r="7.0"/>
<circle cx="1127.9" cy="771.1" r="7.0"/>
<circle cx="1128.0" cy="776.2" r="7.0"/>
<circle cx="1128.2" cy="781.2" r="7.0"/>
<circle cx="1128.3" cy="786.2" r="7.0"/>
<circle cx="1128.4" cy="791.3" r="7.0"/>
<circle cx="1128.6" cy="796.3" r="7.0"/>
<circle cx="1128.7" cy="801.3" r="7.0"/>
<circle cx="1128.8" cy="806.4" r="7.0"/>
<circle cx="1129.0" cy="811.4" r="7.0"/>
<circle cx="1129.1" cy="816.5" r="7.0"/>
<circle cx="1129.2" cy="821.5" r="7.0"/>
<circle cx="1129.4" cy="826.5" r="7.0"/>
<circle cx="1129.5" cy="831.6" r="7.0"/>
<circle cx="1129.7" cy="836.6" r="7.0"/>
<circle cx="1129.8" cy="841.7" r="7.0"/>
<circle cx="1129.9" cy="846.7" r="7.0"/>
<circle cx="1171.6" cy="743.1" r="7.0"/>
<circle cx="1171.7" cy="748.2" r="7.0"/>
<circle cx="1171.8" cy="753.3" r="7.0"/>
<circle cx="1171.9" cy="758.4" r="7.0"/>
<circle cx="1172.1" cy="763.5" r="7.0"/>
<circle cx="1172.2" cy="768.6" r="7.0"/>
<circle cx="1172.3" cy="773.6" r="7.0"/>
<circle cx="1172.4" cy="778.7" r="7.0"/>
<circle cx="1172.5" cy="783.8" r="7.0"/>
<circle cx="1172.6" cy="788.9" r="7.0"/>
<circle cx="1172.7" cy="794.0" r="7.0"/>
<circle cx="1172.8" cy="799.1" r="7.0"/>
<circle cx="1172.9" cy="804.2" r="7.0"/>
<circle cx="1173.1" cy="809.3" r="7.0"/>
<circle cx="1173.2" cy="814.4" r="7.0"/>
<circle cx="1173.3" cy="819.5" r="7.0"/>
<circle cx="1173.4" cy="824.6" r="7.0"/>
<circle cx="1173.5" cy="829.7" r="7.0"/>
<circle cx="1173.6" cy="834.8" r="7.0"/>
<circle cx="1173.7" cy="839.9" r="7.0"/>
<circle cx="1173.8" cy="844.9" r="7.0"/>
<circle cx="1173.9" cy="850.0" r="7.0"/>
<circle cx="1213.8" cy="729.0" r="7.0"/>
<circle cx="1213.9" cy="734.1" r="7.0"/>
<circle cx="1214.0" cy="739.1" r="7.0"/>
<circle cx="1214.1" cy="744.1" r="7.0"/>
<circle cx="1214.2" cy="749.1" r="7.0"/>
<circle cx="1214.3" cy="754.2" r="7.0"/>
<circle cx="1214.5" cy="759.2" r="7.0"/>
<circle cx="1214.6" cy="764.2" r="7.0"/>
<circle cx="1214.7" cy="769.3" r="7.0"/>
<circle cx="1214.8" cy="774.3" r="7.0"/>
<circle cx="1214.9" cy="779.3" r="7.0"/>
<circle cx="1215.0" cy="784.3" r="7.0"/>
<circle cx="1215.1" cy="789.4" r="7.0"/>
<circle cx="1215.2" cy="794.4" r="7.0"/>
<circle cx="1215.3" cy="799.4" r="7.0"/>
<circle cx="1215.4" cy="804.5" r="7.0"/>
<circle cx="1215.5" cy="809.5" r="7.0"/>
<circle cx="1215.6" cy="814.5" r="7.0"/>
<circle cx="1215.7" cy="819.5" r="7.0"/>
<circle cx="1215.8" cy="824.6" r="7.0"/>
<circle cx="1216.0" cy="829.6" r="7.0"/>
<circle cx="1216.1" cy="834.6" r="7.0"/>
<circle cx="1216.2" cy="839.7" r="7.0"/>
<circle cx="1216.3" cy="844.7" r="7.0"/>
<circle cx="1216.4" cy="849.7" r="7.0"/>
<circle cx="1255.6" cy="715.1" r="7.0"/>
<circle cx="1255.7" cy="720.2" r="7.0"/>
<circle cx="1255.8" cy="725.2" r="7.0"/>
<circle cx="1255.9" cy="730.3" r="7.0"/>
<circle cx="1255.9" cy="735.4" r="7.0"/>
<circle cx="1256.0" cy="740.5" r="7.0"/>
<circle cx="1256.1" cy="745.6" r="7.0"/>
<circle cx="1256.2" cy="750.7" r="7.0"/>
<circle cx="1256.3" cy="755.7" r="7.0"/>
<circle cx="1256.4" cy="760.8" r="7.0"/>
<circle cx="1256.5" cy="765.9" r="7.0"/>
<circle cx="1256.6" cy="771.0" r="7.0"/>
<circle cx="1256.7" cy="776.1" r="7.0"/>
<circle cx="1256.8" cy="781.1" r="7.0"/>
<circle cx="1256.8" cy="786.2" r="7.0"/>
<circle cx="1256.9" cy="791.3" r="7.0"/>
<circle cx="1257.0" cy="796.4" r="7.0"/>
<circle cx="1257.1" cy="801.5" r="7.0"/>
<circle cx="1257.2" cy="806.6" r="7.0"/>
<circle cx="1257.3" cy="811.6" r="7.0"/>
<circle cx="1257.4" cy="816.7" r="7.0"/>
<circle cx="1257.5" cy="821.8" r="7.0"/>
<circle cx="1257.6" cy="826.9" r="7.0"/>
<circle cx="1257.6" cy="832.0" r="7.0"/>
<circle cx="1257.7" cy="837.1" r="7.0"/>
<circle cx="1257.8" cy="842.1" r="7.0"/>
<circle cx="1257.9" cy="847.2" r="7.0"/>
<circle cx="1295.9" cy="699.1" r="7.0"/>
<circle cx="1296.0" cy="704.2" r="7.0"/>
<circle cx="1296.0" cy="709.3" r="7.0"/>
<circle cx="1296.1" cy="714.4" r="7.0"/>
<circle cx="1296.2" cy="719.6" r="7.0"/>
<circle cx="1296.3" cy="724.7" r="7.0"/>
<circle cx="1296.3" cy="729.8" r="7.0"/>
<circle cx="1296.4" cy="734.9" r="7.0"/>
<circle cx="1296.5" cy="740.0" r="7.0"/>
<circle cx="1296.6" cy="745.1" r="7.0"/>
<circle cx="1296.6" cy="750.2" r="7.0"/>
<circle cx="1296.7" cy="755.3" r="7.0"/>
<circle cx="1296.8" cy="760.4" r="7.0"/>
<circle cx="1296.9" cy="765.5" r="7.0"/>
<circle cx="1296.9" cy="770.7" r="7.0"/>
<circle cx="1297.0" cy="775.8" r="7.0"/>
<circle cx="1297.1" cy="780.9" r="7.0"/>
<circle cx="1297.2" cy="786.0" r="7.0"/>
<circle cx="1297.2" cy="791.1" r="7.0"/>
<circle cx="1297.3" cy="796.2" r="7.0"/>
<circle cx="1297.4" cy="801.3" r="7.0"/>
<circle cx="1297.5" cy="806.4" r="7.0"/>
<circle cx="1297.5" cy="811.5" r="7.0"/>
<circle cx="1297.6" cy="816.6" r="7.0"/>
<circle cx="1297.7" cy="821.8" r="7.0"/>
<circle cx="1297.8" cy="826.9" r="7.0"/>
<circle cx="1297.8" cy="832.0" r="7.0"/>
<circle cx="1297.9" cy="837.1" r="7.0"/>
<circle cx="1298.0" cy="842.2" r="7.0"/>
<circle cx="1335.1" cy="683.0" r="7.0"/>
<circle cx="1335.2" cy="688.0" r="7.0"/>
<circle cx="1335.2" cy="693.0" r="7.0"/>
<circle cx="1335.3" cy="698.0" r="7.0"/>
<circle cx="1335.4" cy="703.0" r="7.0"/>
<circle cx="1335.5" cy="708.1" r="7.0"/>
<circle cx="1335.6" cy="713.1" r="7.0"/>
<circle cx="1335.7" cy="718.1" r="7.0"/>
<circle cx="1335.8" cy="723.1" r="7.0"/>
<circle cx="1335.8" cy="728.1" r="7.0"/>
<circle cx="1335.9" cy="733.1" r="7.0"/>
<circle cx="1336.0" cy="738.1" r="7.0"/>
<circle cx="1336.1" cy="743.1" r="7.0"/>
<circle cx="1336.2" cy="748.1" r="7.0"/>
<circle cx="1336.2" cy="753.1" r="7.0"/>
<circle cx="1336.3" cy="758.2" r="7.0"/>
<circle cx="1336.4" cy="763.2" r="7.0"/>
<circle cx="1336.5" cy="768.2" r="7.0"/>
<circle cx="1336.6" cy="773.2" r="7.0"/>
<circle cx="1336.7" cy="778.2" r="7.0"/>
<circle cx="1336.8" cy="783.2" r="7.0"/>
<circle cx="1336.8" cy="788.2" r="7.0"/>
<circle cx="1336.9" cy="793.2" r="7.0"/>
<circle cx="1337.0" cy="798.2" r="7.0"/>
<circle cx="1337.1" cy="803.2" r="7.0"/>
<circle cx="1337.2" cy="808.3" r="7.0"/>
<circle cx="1337.2" cy="813.3" r="7.0"/>
<circle cx="1337.3" cy="818.3" r="7.0"/>
<circle cx="1337.4" cy="823.3" r="7.0"/>
<circle cx="1337.5" cy="828.3" r="7.0"/>
<circle cx="1373.8" cy="669.1" r="7.0"/>
<circle cx="1373.9" cy="674.2" r="7.0"/>
<circle cx="1373.9" cy="679.3" r="7.0"/>
<circle cx="1374.0" cy="684.4" r="7.0"/>
<circle cx="1374.1" cy="689.5" r="7.0"/>
<circle cx="1374.2" cy="694.6" r="7.0"/>
<circle cx="1374.2" cy="699.7" r="7.0"/>
<circle cx="1374.3" cy="704.7" r="7.0"/>
<circle cx="1374.4" cy="709.8" r="7.0"/>
<circle cx="1374.5" cy="714.9" r="7.0"/>
<circle cx="1374.5" cy="720.0" r="7.0"/>
<circle cx="1374.6" cy="725.1" r="7.0"/>
<circle cx="1374.7" cy="730.2" r="7.0"/>
<circle cx="1374.8" cy="735.3" r="7.0"/>
<circle cx="1374.8" cy="740.4" r="7.0"/>
<circle cx="1374.9" cy="745.5" r="7.0"/>
<circle cx="1375.0" cy="750.6" r="7.0"/>
<circle cx="1375.1" cy="755.7" r="7.0"/>
<circle cx="1375.2" cy="760.8" r="7.0"/>
<circle cx="1375.2" cy="765.9" r="7.0"/>
<circle cx="1375.3" cy="771.0" r="7.0"/>
<circle cx="1375.4" cy="776.1" r="7.0"/>
<circle cx="1375.5" cy="781.1" r="7.0"/>
<circle cx="1375.5" cy="786.2" r="7.0"/>
<circle cx="1375.6" cy="791.3" r="7.0"/>
<circle cx="1375.7" cy="796.4" r="7.0"/>
<circle cx="1375.8" cy="801.5" r="7.0"/>
<circle cx="1375.8" cy="806.6" r="7.0"/>
<circle cx="1375.9" cy="811.7" r="7.0"/>
<circle cx="1376.0" cy="816.8" r="7.0"/>
<circle cx="1411.1" cy="654.0" r="7.0"/>
<circle cx="1411.2" cy="659.1" r="7.0"/>
<circle cx="1411.2" cy="664.1" r="7.0"/>
<circle cx="1411.3" cy="669.1" r="7.0"/>
<circle cx="1411.4" cy="674.1" r="7.0"/>
<circle cx="1411.5" cy="679.2" r="7.0"/>
<circle cx="1411.6" cy="684.2" r="7.0"/>
<circle cx="1411.6" cy="689.2" r="7.0"/>
<circle cx="1411.7" cy="694.2" r="7.0"/>
<circle cx="1411.8" cy="699.3" r="7.0"/>
<circle cx="1411.9" cy="704.3" r="7.0"/>
<circle cx="1412.0" cy="709.3" r="7.0"/>
<circle cx="1412.0" cy="714.3" r="7.0"/>
<circle cx="1412.1" cy="719.4" r="7.0"/>
<circle cx="1412.2" cy="724.4" r="7.0"/>
<circle cx="1412.3" cy="729.4" r="7.0"/>
<circle cx="1412.4" cy="734.4" r="7.0"/>
<circle cx="1412.5" cy="739.5" r="7.0"/>
<circle cx="1412.5" cy="744.5" r="7.0"/>
<circle cx="1412.6" cy="749.5" r="7.0"/>
<circle cx="1412.7" cy="754.5" r="7.0"/>
<circle cx="1412.8" cy="759.6" r="7.0"/>
<circle cx="1412.9" cy="764.6" r="7.0"/>
<circle cx="1412.9" cy="769.6" r="7.0"/>
<circle cx="1413.0" cy="774.6" r="7.0"/>
<circle cx="1413.1" cy="779.7" r="7.0"/>
<circle cx="1413.2" cy="784.7" r="7.0"/>
<circle cx="1413.3" cy="789.7" r="7.0"/>
<circle cx="1413.3" cy="794.7" r="7.0"/>
<circle cx="1413.4" cy="799.8" r="7.0"/>
<circle cx="1413.5" cy="804.8" r="7.0"/>
<circle cx="1447.9" cy="639.1" r="7.0"/>
<circle cx="1447.9" cy="644.2" r="7.0"/>
<circle cx="1448.0" cy="649.3" r="7.0"/>
<circle cx="1448.0" cy="654.4" r="7.0"/>
<circle cx="1448.1" cy="659.5" r="7.0"/>
<circle cx="1448.1" cy="664.6" r="7.0"/>
<circle cx="1448.2" cy="669.7" r="7.0"/>
<circle cx="1448.2" cy="674.8" r="7.0"/>
<circle cx="1448.3" cy="679.9" r="7.0"/>
<circle cx="1448.3" cy="685.0" r="7.0"/>
<circle cx="1448.4" cy="690.1" r="7.0"/>
<circle cx="1448.5" cy="695.2" r="7.0"/>
<circle cx="1448.5" cy="700.3" r="7.0"/>
<circle cx="1448.6" cy="705.4" r="7.0"/>
<circle cx="1448.6" cy="710.5" r="7.0"/>
<circle cx="1448.7" cy="715.5" r="7.0"/>
<circle cx="1448.7" cy="720.6" r="7.0"/>
<circle cx="1448.8" cy="725.7" r="7.0"/>
<circle cx="1448.8" cy="730.8" r="7.0"/>
<circle cx="1448.9" cy="735.9" r="7.0"/>
<circle cx="1449.0" cy="741.0" r="7.0"/>
<circle cx="1449.0" cy="746.1" r="7.0"/>
<circle cx="1449.1" cy="751.2" r="7.0"/>
<circle cx="1449.1" cy="756.3" r="7.0"/>
<circle cx="1449.2" cy="761.4" r="7.0"/>
<circle cx="1449.2" cy="766.5" r="7.0"/>
<circle cx="1449.3" cy="771.6" r="7.0"/>
<circle cx="1449.3" cy="776.7" r="7.0"/>
<circle cx="1449.4" cy="781.8" r="7.0"/>
<circle cx="1449.4" cy="786.9" r="7.0"/>
<circle cx="1449.5" cy="792.0" r="7.0"/>
<circle cx="1483.2" cy="634.1" r="7.0"/>
<circle cx="1483.3" cy="639.2" r="7.0"/>
<circle cx="1483.4" cy="644.2" r="7.0"/>
<circle cx="1483.5" cy="649.2" r="7.0"/>
<circle cx="1483.5" cy="654.3" r="7.0"/>
<circle cx="1483.6" cy="659.3" r="7.0"/>
<circle cx="1483.7" cy="664.4" r="7.0"/>
<circle cx="1483.8" cy="669.4" r="7.0"/>
<circle cx="1483.9" cy="674.4" r="7.0"/>
<circle cx="1483.9" cy="679.5" r="7.0"/>
<circle cx="1484.0" cy="684.5" r="7.0"/>
<circle cx="1484.1" cy="689.6" r="7.0"/>
<circle cx="1484.2" cy="694.6" r="7.0"/>
<circle cx="1484.2" cy="699.6" r="7.0"/>
<circle cx="1484.3" cy="704.7" r="7.0"/>
<circle cx="1484.4" cy="709.7" r="7.0"/>
<circle cx="1484.5" cy="714.8" r="7.0"/>
<circle cx="1484.6" cy="719.8" r="7.0"/>
<circle cx="1484.6" cy="724.9" r="7.0"/>
<circle cx="1484.7" cy="729.9" r="7.0"/>
<circle cx="1484.8" cy="734.9" r="7.0"/>
<circle cx="1484.9" cy="740.0" r="7.0"/>
<circle cx="1485.0" cy="745.0" r="7.0"/>
<circle cx="1485.0" cy="750.1" r="7.0"/>
<circle cx="1485.1" cy="755.1" r="7.0"/>
<circle cx="1485.2" cy="760.1" r="7.0"/>
<circle cx="1485.3" cy="765.2" r="7.0"/>
<circle cx="1485.3" cy="770.2" r="7.0"/>
<circle cx="1485.4" cy="775.3" r="7.0"/>
<circle cx="1485.5" cy="780.3" r="7.0"/>
<circle cx="1518.6" cy="634.7" r="7.0"/>
<circle cx="1518.7" cy="639.8" r="7.0"/>
<circle cx="1518.7" cy="644.9" r="7.0"/>
<circle cx="1518.8" cy="650.0" r="7.0"/>
<circle cx="1518.8" cy="655.1" r="7.0"/>
<circle cx="1518.9" cy="660.2" r="7.0"/>
<circle cx="1518.9" cy="665.3" r="7.0"/>
<circle cx="1519.0" cy="670.4" r="7.0"/>
<circle cx="1519.0" cy="675.5" r="7.0"/>
<circle cx="1519.1" cy="680.6" r="7.0"/>
<circle cx="1519.2" cy="685.8" r="7.0"/>
<circle cx="1519.2" cy="690.9" r="7.0"/>
<circle cx="1519.3" cy="696.0" r="7.0"/>
<circle cx="1519.3" cy="701.1" r="7.0"/>
<circle cx="1519.4" cy="706.2" r="7.0"/>
<circle cx="1519.4" cy="711.3" r="7.0"/>
<circle cx="1519.5" cy="716.4" r="7.0"/>
<circle cx="1519.5" cy="721.5" r="7.0"/>
<circle cx="1519.6" cy="726.6" r="7.0"/>
<circle cx="1519.6" cy="731.7" r="7.0"/>
<circle cx="1519.7" cy="736.8" r="7.0"/>
<circle cx="1519.7" cy="742.0" r="7.0"/>
<circle cx="1519.8" cy="747.1" r="7.0"/>
<circle cx="1519.8" cy="752.2" r="7.0"/>
<circle cx="1519.9" cy="757.3" r="7.0"/>
<circle cx="1519.9" cy="762.4" r="7.0"/>
<circle cx="1520.0" cy="767.5" r="7.0"/>
<circle cx="1552.8" cy="633.0" r="7.0"/>
<circle cx="1552.9" cy="638.0" r="7.0"/>
<circle cx="1552.9" cy="643.0" r="7.0"/>
<circle cx="1553.0" cy="648.0" r="7.0"/>
<circle cx="1553.1" cy="653.0" r="7.0"/>
<circle cx="1553.1" cy="658.0" r="7.0"/>
<circle cx="1553.2" cy="663.0" r="7.0"/>
<circle cx="1553.3" cy="668.0" r="7.0"/>
<circle cx="1553.3" cy="673.0" r="7.0"/>
<circle cx="1553.4" cy="678.0" r="7.0"/>
<circle cx="1553.5" cy="683.0" r="7.0"/>
<circle cx="1553.6" cy="688.0" r="7.0"/>
<circle cx="1553.6" cy="693.0" r="7.0"/>
<circle cx="1553.7" cy="698.0" r="7.0"/>
<circle cx="1553.8" cy="703.0" r="7.0"/>
<circle cx="1553.8" cy="708.0" r="7.0"/>
<circle cx="1553.9" cy="713.0" r="7.0"/>
<circle cx="1554.0" cy="718.0" r="7.0"/>
<circle cx="1554.0" cy="723.0" r="7.0"/>
<circle cx="1554.1" cy="728.0" r="7.0"/>
<circle cx="1554.2" cy="733.0" r="7.0"/>
<circle cx="1554.2" cy="738.0" r="7.0"/>
<circle cx="1554.3" cy="743.0" r="7.0"/>
<circle cx="1554.4" cy="748.0" r="7.0"/>
<circle cx="1554.4" cy="753.0" r="7.0"/>
<circle cx="1554.5" cy="758.0" r="7.0"/>
</g>
<g fill="none" stroke="#ffff00" stroke-opacity="0.8" stroke-width="16.2" stroke-linejoin="round" stroke-linecap="round">
<path d="M396.3,840.5 396.3,844.5 396.3,848.5 396.3,850.8"/>
<path d="M452.2,817.0 452.2,821.1 452.2,825.2 452.3,829.3 452.3,833.4 452.3,837.5 452.3,841.5 452.3,845.6 452.3,849.7 452.3,850.8"/>
<path d="M509.7,793.5 509.7,797.5 509.7,801.6 509.8,805.6 509.8,809.6 509.8,813.7 509.8,817.7 509.8,821.7 509.8,825.8 509.9,829.8 509.9,833.8 509.9,837.8 509.9,841.9 509.9,845.9 509.9,849.9 509.9,850.8"/>
<path d="M566.5,768.0 566.5,772.0 566.5,776.0 566.6,780.0 566.6,784.0 566.6,788.0 566.6,792.0 566.6,796.0 566.6,800.0 566.7,804.0 566.7,808.0 566.7,812.0 566.7,816.0 566.7,820.0 566.8,824.0 566.8,828.0 566.8,832.0 566.8,836.0 566.8,840.0 566.9,844.0 566.9,848.0 566.9,850.8"/>
<path d="M622.8,748.0 622.8,752.0 622.8,756.0 622.8,760.1 622.9,764.1 622.9,768.1 622.9,772.1 622.9,776.2 622.9,780.2 622.9,784.2 623.0,788.2 623.0,792.3 623.0,796.3 623.0,800.3 623.0,804.3 623.0,808.3 623.1,812.4 623.1,816.4 623.1,820.4 623.1,824.4 623.1,828.5 623.1,832.5 623.2,836.5 623.2,840.5 623.2,844.6 623.2,848.6 623.2,850.8"/>
<path d="M679.1,727.0 679.1,731.1 679.1,735.1 679.1,739.2 679.2,743.2 679.2,747.3 679.2,751.4 679.2,755.4 679.2,759.5 679.2,763.5 679.3,767.6 679.3,771.6 679.3,775.7 679.3,779.8 679.3,783.8 679.3,787.9 679.4,791.9 679.4,796.0 679.4,800.1 679.4,804.1 679.4,808.2 679.4,812.2 679.4,816.3 679.5,820.4 679.5,824.4 679.5,828.5 679.5,832.5 679.5,836.6 679.5,840.7 679.6,844.7 679.6,848.8 679.6,850.8"/>
<path d="M733.4,706.0 733.4,710.1 733.4,714.1 733.4,718.2 733.5,722.2 733.5,726.3 733.5,730.3 733.5,734.4 733.5,738.4 733.5,742.5 733.6,746.5 733.6,750.6 733.6,754.6 733.6,758.7 733.6,762.7 733.6,766.8 733.6,770.9 733.7,774.9 733.7,779.0 733.7,783.0 733.7,787.1 733.7,791.1 733.7,795.2 733.8,799.2 733.8,803.3 733.8,807.3 733.8,811.4 733.8,815.4 733.8,819.5 733.9,823.5 733.9,827.6 733.9,831.7 733.9,835.7 733.9,839.8 733.9,843.8 733.9,847.9 734.0,850.8"/>
<path d="M787.0,687.0 787.0,691.0 787.0,695.1 787.0,699.1 787.1,703.2 787.1,707.2 787.1,711.2 787.1,715.3 787.1,719.3 787.1,723.4 787.2,727.4 787.2,731.4 787.2,735.5 787.2,739.5 787.2,743.6 787.2,747.6 787.2,751.6 787.3,755.7 787.3,759.7 787.3,763.8 787.3,767.8 787.3,771.8 787.3,775.9 787.4,779.9 787.4,784.0 787.4,788.0 787.4,792.0 787.4,796.1 787.4,800.1 787.5,804.2 787.5,808.2 787.5,812.2 787.5,816.3 787.5,820.3 787.5,824.4 787.5,828.4 787.6,832.4 787.6,836.5 787.6,840.5 787.6,844.6 787.6,848.6 787.6,850.8"/>
<path d="M839.7,666.0 839.7,670.0 839.7,674.0 839.7,678.1 839.8,682.1 839.8,686.1 839.8,690.1 839.8,694.2 839.8,698.2 839.8,702.2 839.9,706.2 839.9,710.2 839.9,714.3 839.9,718.3 839.9,722.3 839.9,726.3 839.9,730.3 840.0,734.4 840.0,738.4 840.0,742.4 840.0,746.4 840.0,750.5 840.0,754.5 840.0,758.5 840.1,762.5 840.1,766.5 840.1,770.6 840.1,774.6 840.1,778.6 840.1,782.6 840.2,786.7 840.2,790.7 840.2,794.7 840.2,798.7 840.2,802.7 840.2,806.8 840.2,810.8 840.3,814.8 840.3,818.8 840.3,822.8 840.3,826.9 840.3,830.9 840.3,834.9 840.4,838.9 840.4,843.0 840.4,847.0 840.4,850.8"/>
<path d="M890.8,646.0 890.8,650.0 890.8,654.0 890.8,658.0 890.9,662.0 890.9,666.0 890.9,670.0 890.9,674.0 890.9,678.0 890.9,682.0 890.9,686.0 891.0,690.0 891.0,694.0 891.0,698.0 891.0,702.0 891.0,706.0 891.0,710.0 891.1,714.0 891.1,718.0 891.1,722.0 891.1,726.0 891.1,730.0 891.1,734.0 891.1,738.0 891.2,742.0 891.2,746.0 891.2,750.0 891.2,754.0 891.2,758.0 891.2,762.0 891.2,766.0 891.3,770.0 891.3,774.0 891.3,778.0 891.3,782.0 891.3,786.0 891.3,790.0 891.4,794.0 891.4,798.0 891.4,802.0 891.4,806.0 891.4,810.0 891.4,814.0 891.4,818.0 891.5,822.0 891.5,826.0 891.5,830.0 891.5,834.0"/>
<path d="M940.5,631.0 940.5,631.9 940.5,636.0 940.5,640.0 940.6,644.1 940.6,648.1 940.6,652.2 940.6,656.2 940.6,660.3 940.6,664.3 940.6,668.3 940.7,672.4 940.7,676.4 940.7,680.5 940.7,684.5 940.7,688.6 940.7,692.6 940.8,696.7 940.8,700.7 940.8,704.7 940.8,708.8 940.8,712.8 940.8,716.9 940.8,720.9 940.9,725.0 940.9,729.0 940.9,733.1 940.9,737.1 940.9,741.2 940.9,745.2 940.9,749.2 941.0,753.3 941.0,757.3 941.0,761.4 941.0,765.4 941.0,769.5 941.0,773.5 941.1,777.6 941.1,781.6 941.1,785.6 941.1,789.7 941.1,793.7 941.1,797.8 941.1,801.8 941.2,805.9 941.2,809.9 941.2,814.0 941.2,818.0"/>
<path d="M988.6,631.0 988.6,631.9 988.6,636.0 988.6,640.1 988.6,644.2 988.6,648.2 988.7,652.3 988.7,656.4 988.7,660.4 988.7,664.5 988.7,668.6 988.7,672.7 988.7,676.7 988.8,680.8 988.8,684.9 988.8,689.0 988.8,693.0 988.8,697.1 988.8,701.2 988.9,705.2 988.9,709.3 988.9,713.4 988.9,717.5 988.9,721.5 988.9,725.6 988.9,729.7 989.0,733.8 989.0,737.8 989.0,741.9 989.0,746.0 989.0,750.1 989.0,754.1 989.0,758.2 989.1,762.3 989.1,766.3 989.1,770.4 989.1,774.5 989.1,778.6 989.1,782.6 989.1,786.7 989.2,790.8 989.2,794.9 989.2,798.9 989.2,803.0"/>
<path d="M1036.4,631.0 1036.4,631.0 1036.4,635.0 1036.4,639.0 1036.4,643.0 1036.4,647.0 1036.4,651.0 1036.4,655.0 1036.5,659.0 1036.5,663.0 1036.5,667.0 1036.5,671.0 1036.5,675.0 1036.5,679.0 1036.5,683.0 1036.6,687.0 1036.6,691.0 1036.6,695.0 1036.6,699.0 1036.6,703.0 1036.6,707.0 1036.6,711.0 1036.6,715.0 1036.7,719.0 1036.7,723.0 1036.7,727.0 1036.7,731.0 1036.7,735.0 1036.7,739.0 1036.7,743.0 1036.8,747.0 1036.8,751.0 1036.8,755.0 1036.8,759.0 1036.8,763.0 1036.8,767.0 1036.8,771.0 1036.9,775.0 1036.9,779.0 1036.9,783.0 1036.9,787.0"/>
<path d="M1082.3,631.0 1082.3,632.0 1082.3,636.0 1082.3,640.0 1082.4,644.0 1082.4,648.0 1082.4,652.0 1082.4,656.0 1082.4,660.0 1082.4,664.0 1082.4,668.0 1082.5,672.0 1082.5,676.0 1082.5,680.0 1082.5,684.0 1082.5,688.0 1082.5,692.0 1082.5,696.0 1082.6,700.0 1082.6,704.0 1082.6,708.0 1082.6,712.0 1082.6,716.0 1082.6,720.0 1082.6,724.0 1082.6,728.0 1082.7,732.0 1082.7,736.0 1082.7,740.0 1082.7,744.0 1082.7,748.0 1082.7,752.0 1082.7,756.0 1082.8,760.0 1082.8,764.0 1082.8,768.0 1082.8,772.0"/>
<path d="M1127.1,631.0 1127.1,634.8 1127.1,638.9 1127.1,642.9 1127.1,647.0 1127.2,651.0 1127.2,655.0 1127.2,659.1 1127.2,663.1 1127.2,667.2 1127.2,671.2 1127.2,675.2 1127.2,679.3 1127.3,683.3 1127.3,687.3 1127.3,691.4 1127.3,695.4 1127.3,699.5 1127.3,703.5 1127.3,707.5 1127.4,711.6 1127.4,715.6 1127.4,719.7 1127.4,723.7 1127.4,727.7 1127.4,731.8 1127.4,735.8 1127.4,739.8 1127.5,743.9 1127.5,747.9 1127.5,752.0 1127.5,756.0"/>
<path d="M1171.1,631.0 1171.2,633.0 1171.2,637.0 1171.2,641.1 1171.2,645.1 1171.2,649.2 1171.2,653.2 1171.2,657.2 1171.2,661.3 1171.3,665.3 1171.3,669.3 1171.3,673.4 1171.3,677.4 1171.3,681.5 1171.3,685.5 1171.3,689.5 1171.4,693.6 1171.4,697.6 1171.4,701.7 1171.4,705.7 1171.4,709.7 1171.4,713.8 1171.4,717.8 1171.4,721.8 1171.5,725.9 1171.5,729.9 1171.5,734.0 1171.5,738.0"/>
<path d="M1213.4,631.0 1213.4,631.0 1213.4,635.1 1213.4,639.1 1213.4,643.2 1213.4,647.2 1213.5,651.3 1213.5,655.3 1213.5,659.3 1213.5,663.4 1213.5,667.4 1213.5,671.5 1213.5,675.5 1213.6,679.5 1213.6,683.6 1213.6,687.6 1213.6,691.7 1213.6,695.7 1213.6,699.8 1213.6,703.8 1213.6,707.8 1213.7,711.9 1213.7,715.9 1213.7,720.0 1213.7,724.0"/>
<path d="M1255.2,631.0 1255.3,632.9 1255.3,636.9 1255.3,641.0 1255.3,645.1 1255.3,649.1 1255.3,653.2 1255.3,657.2 1255.3,661.3 1255.4,665.3 1255.4,669.4 1255.4,673.5 1255.4,677.5 1255.4,681.6 1255.4,685.6 1255.4,689.7 1255.4,693.8 1255.5,697.8 1255.5,701.9 1255.5,705.9 1255.5,710.0"/>
<path d="M1295.6,631.0 1295.6,633.1 1295.6,637.2 1295.6,641.2 1295.6,645.3 1295.7,649.4 1295.7,653.4 1295.7,657.5 1295.7,661.5 1295.7,665.6 1295.7,669.7 1295.7,673.7 1295.7,677.8 1295.8,681.8 1295.8,685.9 1295.8,689.9 1295.8,694.0"/>
<path d="M1334.9,631.0 1334.9,633.9 1334.9,637.9 1334.9,641.9 1334.9,645.9 1334.9,649.9 1334.9,653.9 1334.9,657.9 1335.0,662.0 1335.0,666.0 1335.0,670.0 1335.0,674.0 1335.0,678.0"/>
<path d="M1373.6,631.0 1373.6,631.8 1373.6,635.9 1373.6,639.9 1373.6,643.9 1373.7,647.9 1373.7,651.9 1373.7,656.0 1373.7,660.0 1373.7,664.0"/>
<path d="M1410.9,631.0 1411.0,632.9 1411.0,636.9 1411.0,640.9 1411.0,645.0 1411.0,649.0"/>
<path d="M1447.8,631.0 1447.8,634.0"/>
</g>
<g fill="none" stroke="#ffff00" stroke-opacity="0.97" stroke-width="16.2" stroke-linejoin="round" stroke-linecap="round">
<path d="M374.6,849.7 375.6,847.3 376.6,845.1 377.6,843.2 378.7,841.4 379.7,839.8 380.8,838.5 381.8,837.3 382.9,836.4 384.0,835.6 385.1,835.1 386.2,834.7 387.4,834.5 388.5,834.5 390.8,834.7 392.7,835.2 394.1,836.0 395.2,837.2 395.8,838.7 396.0,840.5 396.5,844.5 396.5,848.5 396.5,850.8"/>
<path d="M423.6,850.8 423.8,849.5 424.7,844.9 425.6,840.5 426.6,836.4 427.5,832.6 428.5,829.1 429.4,826.0 430.4,823.2 431.4,820.7 432.4,818.5 433.5,816.7 434.5,815.2 435.6,813.9 436.6,813.0 437.7,812.2 438.8,811.7 439.9,811.3 441.0,811.1 442.1,811.0 443.3,811.0 444.4,811.0 446.7,811.2 448.6,811.7 450.0,812.5 451.1,813.7 451.7,815.2 451.9,817.0 452.4,821.0 452.4,825.0 452.4,829.0 452.4,833.0"/>
<path d="M474.3,850.8 475.0,847.2 475.9,843.1 476.8,839.1 477.7,835.3 478.7,831.7 479.6,828.3 480.6,825.1 481.5,822.0 482.5,819.1 483.5,816.3 484.6,813.7 485.6,811.3 486.7,809.0 487.7,806.8 488.8,804.7 489.9,802.8 491.0,801.0 492.1,799.3 493.3,797.7 494.4,796.2 495.6,794.8 496.8,793.5 498.0,792.2 499.2,791.1 500.4,790.1 501.6,789.2 502.9,788.4 504.1,787.8 505.4,787.5 506.6,787.7 507.6,788.2 508.4,789.0 509.0,790.2 509.3,791.7 509.4,793.5 509.9,797.5 509.9,801.5 509.9,805.5 509.9,809.5"/>
<path d="M528.2,850.8 528.6,848.3 529.4,843.2 530.3,838.3 531.1,833.5 532.0,829.0 532.9,824.7 533.9,820.5 534.8,816.6 535.8,812.9 536.7,809.3 537.7,805.9 538.7,802.7 539.8,799.7 540.8,796.8 541.9,794.1 542.9,791.5 544.0,789.0 545.1,786.7 546.2,784.5 547.4,782.4 548.5,780.4 549.7,778.6 550.8,776.8 552.0,775.1 553.2,773.4 554.4,771.9 555.7,770.4 556.9,769.0 558.1,767.6 559.4,766.3 560.7,765.1 562.0,764.1 563.3,763.5 564.2,763.7 565.0,764.2 565.5,765.0 566.0,766.2 566.2,767.7 566.3,769.5 566.8,773.5 566.8,777.5 566.8,781.5 566.8,785.5"/>
<path d="M582.4,850.8 582.7,848.5 583.4,842.3 584.2,836.3 585.0,830.6 585.8,825.1 586.7,819.8 587.5,814.8 588.4,810.0 589.3,805.5 590.2,801.1 591.1,797.0 592.1,793.1 593.0,789.4 594.0,785.9 595.0,782.6 596.0,779.5 597.0,776.5 598.1,773.7 599.1,771.1 600.2,768.6 601.3,766.3 602.4,764.1 603.5,762.0 604.6,760.0 605.7,758.1 606.9,756.3 608.1,754.7 609.2,753.1 610.4,751.5 611.6,750.1 612.9,748.7 614.1,747.3 615.4,746.0 616.6,744.8 617.9,743.6 619.2,742.6 620.5,742.0 621.1,742.2 621.6,742.7 622.0,743.5 622.3,744.7 622.4,746.2 622.5,748.0 623.0,752.0 623.0,756.0 623.0,760.0 623.0,764.0"/>
<path d="M635.6,850.8 636.0,845.8 636.7,837.8 637.4,830.2 638.1,822.8 638.9,815.6 639.6,808.8 640.4,802.3 641.2,796.1 642.1,790.2 642.9,784.6 643.8,779.3 644.6,774.3 645.5,769.6 646.4,765.2 647.4,761.0 648.3,757.2 649.3,753.6 650.2,750.2 651.2,747.1 652.2,744.2 653.3,741.5 654.3,739.1 655.4,736.8 656.4,734.8 657.5,732.9 658.6,731.2 659.7,729.7 660.9,728.3 662.0,727.1 663.2,726.0 664.3,725.0 665.5,724.1 666.7,723.4 667.9,722.8 669.2,722.2 670.4,721.8 671.6,721.5 672.9,721.3 674.2,721.1 675.5,721.0 676.8,721.0 677.4,721.2 677.9,721.7 678.3,722.5 678.6,723.7 678.7,725.2 678.8,727.0 679.3,731.0 679.3,735.0 679.3,739.0 679.3,743.0"/>
<path d="M689.6,850.8 690.1,843.0 690.7,834.4 691.4,826.1 692.0,818.0 692.7,810.2 693.5,802.8 694.2,795.6 694.9,788.8 695.7,782.3 696.5,776.2 697.3,770.3 698.1,764.8 698.9,759.6 699.8,754.7 700.7,750.1 701.5,745.8 702.4,741.8 703.4,738.0 704.3,734.5 705.2,731.2 706.2,728.2 707.2,725.4 708.2,722.8 709.2,720.3 710.2,718.1 711.3,716.1 712.3,714.2 713.4,712.4 714.5,710.8 715.6,709.4 716.7,708.0 717.8,706.8 719.0,705.7 720.1,704.7 721.3,703.8 722.5,703.0 723.7,702.3 724.9,701.6 726.1,701.1 727.3,700.6 728.6,700.3 729.8,700.1 731.1,700.0 731.7,700.2 732.2,700.7 732.6,701.5 732.9,702.7 733.0,704.2 733.1,706.0 733.6,710.0 733.6,714.0 733.6,718.0 733.6,722.0"/>
<path d="M744.0,850.8 744.4,844.6 745.0,836.3 745.6,828.2 746.3,820.2 746.9,812.5 747.6,805.0 748.3,797.8 749.0,790.8 749.7,784.0 750.5,777.6 751.2,771.4 752.0,765.4 752.8,759.7 753.6,754.3 754.4,749.2 755.2,744.3 756.1,739.6 757.0,735.2 757.8,731.0 758.7,727.0 759.7,723.3 760.6,719.8 761.5,716.5 762.5,713.3 763.5,710.4 764.4,707.6 765.4,705.0 766.5,702.6 767.5,700.3 768.5,698.1 769.6,696.1 770.6,694.2 771.7,692.5 772.8,690.8 773.9,689.2 775.0,687.8 776.2,686.4 777.3,685.1 778.5,684.0 779.6,682.9 780.8,682.0 782.0,681.3 783.2,681.0 784.3,681.2 785.1,681.7 785.8,682.5 786.3,683.7 786.6,685.2 786.7,687.0 787.2,691.0 787.2,695.0 787.2,699.0 787.2,703.0"/>
<path d="M796.7,850.8 797.2,842.0 797.7,832.7 798.3,823.7 798.9,814.8 799.5,806.1 800.1,797.7 800.7,789.5 801.4,781.6 802.1,774.0 802.7,766.7 803.4,759.7 804.2,752.9 804.9,746.5 805.6,740.4 806.4,734.5 807.2,729.0 808.0,723.7 808.8,718.8 809.6,714.1 810.5,709.7 811.3,705.5 812.2,701.6 813.1,697.9 814.0,694.5 814.9,691.2 815.8,688.2 816.8,685.4 817.7,682.8 818.7,680.3 819.7,678.1 820.7,675.9 821.7,674.0 822.7,672.1 823.7,670.4 824.8,668.9 825.8,667.4 826.9,666.1 828.0,664.9 829.1,663.8 830.2,662.8 831.3,661.9 832.4,661.2 833.6,660.6 834.7,660.2 835.9,660.0 837.0,660.2 837.8,660.7 838.5,661.5 839.0,662.7 839.3,664.2 839.4,666.0 839.9,670.0 839.9,674.0 839.9,678.0 839.9,682.0"/>
<path d="M848.0,850.8 848.2,846.7 848.7,837.0 849.2,827.4 849.7,817.9 850.3,808.5 850.8,799.4 851.4,790.5 852.0,781.8 852.6,773.4 853.3,765.2 853.9,757.4 854.6,749.8 855.3,742.6 856.0,735.7 856.7,729.1 857.4,722.7 858.2,716.7 858.9,711.0 859.7,705.6 860.5,700.5 861.3,695.7 862.2,691.1 863.0,686.9 863.8,682.8 864.7,679.0 865.6,675.5 866.5,672.2 867.4,669.1 868.3,666.2 869.2,663.5 870.2,660.9 871.1,658.6 872.1,656.4 873.1,654.4 874.1,652.5 875.1,650.8 876.1,649.1 877.2,647.7 878.2,646.3 879.3,645.1 880.3,643.9 881.4,642.9 882.5,642.0 883.6,641.2 884.7,640.6 885.9,640.2 887.0,640.0 888.1,640.2 888.9,640.7 889.6,641.5 890.1,642.7 890.4,644.2 890.5,646.0 891.0,650.0 891.0,654.0 891.0,658.0 891.0,662.0"/>
<path d="M898.0,850.8 898.0,849.8 898.4,839.5 898.9,829.2 899.3,819.0 899.8,808.9 900.3,799.0 900.8,789.3 901.3,779.8 901.8,770.5 902.4,761.6 903.0,752.9 903.6,744.5 904.2,736.5 904.8,728.8 905.4,721.4 906.1,714.4 906.7,707.7 907.4,701.3 908.1,695.3 908.8,689.6 909.5,684.2 910.3,679.1 911.0,674.4 911.8,669.9 912.5,665.7 913.3,661.7 914.1,658.0 914.9,654.6 915.8,651.4 916.6,648.4 917.4,645.6 918.3,643.1 919.2,640.7 920.1,638.5 921.0,636.4 921.9,634.6 922.8,632.8 923.7,631.2 923.9,631.0"/>
<path d="M940.6,631.0 940.7,631.9 940.7,635.9 940.7,639.9 940.7,643.9"/>
<path d="M947.8,822.3 948.3,811.4 948.7,800.7 949.2,790.0 949.7,779.6 950.2,769.4 950.7,759.4 951.2,749.8 951.8,740.4 952.4,731.4 952.9,722.8 953.5,714.5 954.2,706.5 954.8,699.0 955.4,691.8 956.1,685.0 956.8,678.5 957.5,672.4 958.2,666.6 958.9,661.2 959.6,656.1 960.4,651.4 961.1,646.9 961.9,642.8 962.7,638.9 963.5,635.3 964.3,631.9 964.5,631.0"/>
<path d="M996.2,793.7 996.7,782.4 997.1,771.2 997.6,760.2 998.1,749.5 998.6,739.1 999.1,729.0 999.6,719.3 1000.2,709.9 1000.8,701.0 1001.3,692.4 1001.9,684.3 1002.5,676.5 1003.2,669.2 1003.8,662.2 1004.5,655.7 1005.1,649.5 1005.8,643.7 1006.5,638.3 1007.2,633.2 1007.6,631.0"/>
<path d="M1043.5,786.7 1043.9,774.7 1044.3,762.9 1044.7,751.3 1045.2,740.0 1045.6,728.9 1046.1,718.2 1046.6,707.9 1047.1,698.0 1047.6,688.5 1048.2,679.4 1048.7,670.7 1049.3,662.5 1049.9,654.7 1050.5,647.3 1051.1,640.4 1051.7,633.9 1052.0,631.0"/>
<path d="M1089.4,759.4 1089.8,746.4 1090.2,733.7 1090.7,721.4 1091.1,709.5 1091.6,698.0 1092.1,687.0 1092.5,676.5 1093.0,666.4 1093.6,656.9 1094.1,648.0 1094.7,639.5 1095.2,631.5 1095.3,631.0"/>
<path d="M1133.9,754.8 1134.3,742.1 1134.6,729.6 1135.0,717.4 1135.5,705.6 1135.9,694.1 1136.3,682.9 1136.8,672.3 1137.2,662.0 1137.7,652.2 1138.2,642.9 1138.7,634.0 1138.9,631.0"/>
<path d="M1177.6,727.7 1178.0,715.0 1178.4,702.5 1178.8,690.4 1179.2,678.6 1179.6,667.3 1180.1,656.3 1180.5,645.8 1181.0,635.8 1181.2,631.0"/>
<path d="M1219.8,722.2 1220.1,708.7 1220.5,695.5 1221.0,682.6 1221.4,670.1 1221.8,658.0 1222.3,646.4 1222.8,635.2 1223.0,631.0"/>
<path d="M1261.1,709.5 1261.4,696.9 1261.8,684.4 1262.2,672.1 1262.6,660.2 1263.0,648.6 1263.4,637.3 1263.7,631.0"/>
<path d="M1301.6,690.0 1302.0,677.5 1302.5,665.3 1302.9,653.3 1303.3,641.6 1303.7,631.0"/>
<path d="M1340.6,679.6 1340.9,666.4 1341.3,653.4 1341.7,640.7 1342.0,631.0"/>
<path d="M1379.4,657.9 1379.8,644.9 1380.2,632.2 1380.2,631.0"/>
<path d="M1417.6,639.0 1417.9,631.0"/>
</g>
</g>
<text transform="translate(355.60,880.30) rotate(-90)" font-size="17.70" textLength="35.10" lengthAdjust="spacingAndGlyphs">n=1</text>
<text transform="translate(411.00,809.80) rotate(-90)" font-size="17.70" textLength="35.10" lengthAdjust="spacingAndGlyphs">n=2</text>
<text transform="translate(466.90,751.80) rotate(-90)" font-size="17.70" textLength="35.10" lengthAdjust="spacingAndGlyphs">n=3</text>
<text transform="translate(524.40,698.30) rotate(-90)" font-size="17.70" textLength="35.10" lengthAdjust="spacingAndGlyphs">n=4</text>
<text transform="translate(581.30,646.80) rotate(-90)" font-size="17.70" textLength="35.10" lengthAdjust="spacingAndGlyphs">n=5</text>
<text transform="translate(637.50,597.10) rotate(-90)" font-size="17.70" textLength="35.10" lengthAdjust="spacingAndGlyphs">n=6</text>
<text transform="translate(693.80,548.80) rotate(-90)" font-size="17.70" textLength="35.10" lengthAdjust="spacingAndGlyphs">n=7</text>
<text transform="translate(748.10,508.30) rotate(-90)" font-size="17.70" textLength="35.10" lengthAdjust="spacingAndGlyphs">n=8</text>
<text transform="translate(801.70,462.80) rotate(-90)" font-size="17.70" textLength="35.10" lengthAdjust="spacingAndGlyphs">n=9</text>
<text transform="translate(854.40,422.80) rotate(-90)" font-size="17.70" textLength="45.69" lengthAdjust="spacingAndGlyphs">n=10</text>
<text transform="translate(905.50,386.30) rotate(-90)" font-size="17.70" textLength="45.69" lengthAdjust="spacingAndGlyphs">n=11</text>
<text transform="translate(955.20,346.60) rotate(-90)" font-size="17.70" textLength="45.69" lengthAdjust="spacingAndGlyphs">n=12</text>
<text transform="translate(1003.20,306.30) rotate(-90)" font-size="17.70" textLength="45.69" lengthAdjust="spacingAndGlyphs">n=13</text>
<text transform="translate(1050.90,267.10) rotate(-90)" font-size="17.70" textLength="45.69" lengthAdjust="spacingAndGlyphs">n=14</text>
<text transform="translate(1096.80,235.80) rotate(-90)" font-size="17.70" textLength="45.69" lengthAdjust="spacingAndGlyphs">n=15</text>
<text transform="translate(1141.50,194.10) rotate(-90)" font-size="17.70" textLength="45.69" lengthAdjust="spacingAndGlyphs">n=16</text>
<text transform="translate(1185.50,158.80) rotate(-90)" font-size="17.70" textLength="45.69" lengthAdjust="spacingAndGlyphs">n=17</text>
<rect x="225.5" y="144.3" width="1394.80" height="924.00" fill="none" stroke="#000" stroke-width="1.1"/>
<path d="M213.80,1065.02H225.50M213.80,1043.10H225.50M207.80,1021.18H225.50M213.80,999.26H225.50M213.80,977.34H225.50M213.80,955.41H225.50M213.80,933.49H225.50M207.80,911.57H225.50M213.80,889.65H225.50M213.80,867.73H225.50M213.80,845.80H225.50M213.80,823.88H225.50M207.80,801.96H225.50M213.80,780.04H225.50M213.80,758.12H225.50M213.80,736.19H225.50M213.80,714.27H225.50M207.80,692.35H225.50M213.80,670.43H225.50M213.80,648.51H225.50M213.80,626.58H225.50M213.80,604.66H225.50M207.80,582.74H225.50M213.80,560.82H225.50M213.80,538.90H225.50M213.80,516.97H225.50M213.80,495.05H225.50M207.80,473.13H225.50M213.80,451.21H225.50M213.80,429.29H225.50M213.80,407.36H225.50M213.80,385.44H225.50M207.80,363.52H225.50M213.80,341.60H225.50M213.80,319.68H225.50M213.80,297.75H225.50M213.80,275.83H225.50M207.80,253.91H225.50M213.80,231.99H225.50M213.80,210.07H225.50M213.80,188.14H225.50M213.80,166.22H225.50M207.80,144.30H225.50" stroke="#000" stroke-width="5.6" fill="none"/>
<path d="M247.00,1068.30V1084.80M282.85,1068.30V1078.80M318.71,1068.30V1078.80M354.56,1068.30V1078.80M390.42,1068.30V1078.80M426.27,1068.30V1084.80M462.12,1068.30V1078.80M497.98,1068.30V1078.80M533.83,1068.30V1078.80M569.69,1068.30V1078.80M605.54,1068.30V1084.80M641.39,1068.30V1078.80M677.25,1068.30V1078.80M713.10,1068.30V1078.80M748.96,1068.30V1078.80M784.81,1068.30V1084.80M820.66,1068.30V1078.80M856.52,1068.30V1078.80M892.37,1068.30V1078.80M928.23,1068.30V1078.80M964.08,1068.30V1084.80M999.93,1068.30V1078.80M1035.79,1068.30V1078.80M1071.64,1068.30V1078.80M1107.50,1068.30V1078.80M1143.35,1068.30V1084.80M1179.20,1068.30V1078.80M1215.06,1068.30V1078.80M1250.91,1068.30V1078.80M1286.77,1068.30V1078.80M1322.62,1068.30V1084.80M1358.47,1068.30V1078.80M1394.33,1068.30V1078.80M1430.18,1068.30V1078.80M1466.04,1068.30V1078.80M1501.89,1068.30V1084.80M1537.74,1068.30V1078.80M1573.60,1068.30V1078.80M1609.45,1068.30V1078.80" stroke="#000" stroke-width="5.8" fill="none"/>
<text x="202.40" y="1035.28" font-size="36.87" text-anchor="end" textLength="66.23" lengthAdjust="spacingAndGlyphs" fill="#000" >200</text>
<text x="202.40" y="925.67" font-size="36.87" text-anchor="end" textLength="66.23" lengthAdjust="spacingAndGlyphs" fill="#000" >300</text>
<text x="202.40" y="816.06" font-size="36.87" text-anchor="end" textLength="66.23" lengthAdjust="spacingAndGlyphs" fill="#000" >400</text>
<text x="202.40" y="706.45" font-size="36.87" text-anchor="end" textLength="66.23" lengthAdjust="spacingAndGlyphs" fill="#000" >500</text>
<text x="202.40" y="596.84" font-size="36.87" text-anchor="end" textLength="66.23" lengthAdjust="spacingAndGlyphs" fill="#000" >600</text>
<text x="202.40" y="487.23" font-size="36.87" text-anchor="end" textLength="66.23" lengthAdjust="spacingAndGlyphs" fill="#000" >700</text>
<text x="202.40" y="377.62" font-size="36.87" text-anchor="end" textLength="66.23" lengthAdjust="spacingAndGlyphs" fill="#000" >800</text>
<text x="202.40" y="268.01" font-size="36.87" text-anchor="end" textLength="66.23" lengthAdjust="spacingAndGlyphs" fill="#000" >900</text>
<text x="202.40" y="158.40" font-size="36.87" text-anchor="end" textLength="88.31" lengthAdjust="spacingAndGlyphs" fill="#000" >1000</text>
<text x="247.00" y="1116.70" font-size="36.87" text-anchor="middle" textLength="121.42" lengthAdjust="spacingAndGlyphs" fill="#000" >192.05</text>
<text x="426.27" y="1116.70" font-size="36.87" text-anchor="middle" textLength="121.42" lengthAdjust="spacingAndGlyphs" fill="#000" >192.10</text>
<text x="605.54" y="1116.70" font-size="36.87" text-anchor="middle" textLength="121.42" lengthAdjust="spacingAndGlyphs" fill="#000" >192.15</text>
<text x="784.81" y="1116.70" font-size="36.87" text-anchor="middle" textLength="121.42" lengthAdjust="spacingAndGlyphs" fill="#000" >192.20</text>
<text x="964.08" y="1116.70" font-size="36.87" text-anchor="middle" textLength="121.42" lengthAdjust="spacingAndGlyphs" fill="#000" >192.25</text>
<text x="1143.35" y="1116.70" font-size="36.87" text-anchor="middle" textLength="121.42" lengthAdjust="spacingAndGlyphs" fill="#000" >192.30</text>
<text x="1322.62" y="1116.70" font-size="36.87" text-anchor="middle" textLength="121.42" lengthAdjust="spacingAndGlyphs" fill="#000" >192.35</text>
<text x="1501.89" y="1116.70" font-size="36.87" text-anchor="middle" textLength="121.42" lengthAdjust="spacingAndGlyphs" fill="#000" >192.40</text>
<text x="921.0" y="1160.0" font-size="43.13" text-anchor="middle" textLength="203.70" lengthAdjust="spacingAndGlyphs">Age (Myr)</text>
<text transform="translate(96.0,607.8) rotate(-90)" font-size="44.25" text-anchor="middle" textLength="352.86" lengthAdjust="spacingAndGlyphs">FM period (days)</text>
<rect x="235.6" y="154.9" width="445.8" height="243.5" rx="3.5" fill="#fff" fill-opacity="0.8" stroke="#cccccc" stroke-opacity="0.8" stroke-width="1.1"/>
<line x1="243" y1="171" x2="286" y2="171" stroke="#000" stroke-width="2"/><circle cx="265.4" cy="171" r="2.5" fill="#000"/>
<line x1="244" y1="203" x2="285" y2="203" stroke="#0000ff" stroke-width="4" stroke-linecap="square"/>
<line x1="244" y1="233" x2="285" y2="233" stroke="#008000" stroke-width="4" stroke-linecap="square"/>
<line x1="243" y1="263.8" x2="286" y2="263.8" stroke="#ffa500" stroke-width="1.8"/>
<circle cx="265.3" cy="294.3" r="4.3" fill="#90ee90"/>
<line x1="243" y1="324.9" x2="286" y2="324.9" stroke="#ff0000" stroke-width="2"/>
<polygon points="265.30,306.90 269.90,321.06 284.80,321.07 272.75,329.82 277.35,343.98 265.30,335.23 253.25,343.98 257.85,329.82 245.80,321.07 260.70,321.06" fill="#ff0000"/>
<circle cx="265.5" cy="369.6" r="7.0" fill="rgba(255,255,0,0.22)" stroke="rgba(255,255,0,0.22)" stroke-width="1.4"/>
<text x="302.50" y="178.90" font-size="22.12" text-anchor="start" textLength="161.06" lengthAdjust="spacingAndGlyphs" fill="#000" >m4.20_z0.0500</text>
<text x="302.50" y="209.60" font-size="22.12" text-anchor="start" textLength="339.34" lengthAdjust="spacingAndGlyphs" fill="#000" >peak detector horizontal bounds</text>
<text x="302.50" y="240.20" font-size="22.12" text-anchor="start" textLength="370.78" lengthAdjust="spacingAndGlyphs" fill="#000" >min. P consistent with observations</text>
<text x="302.50" y="270.70" font-size="22.12" text-anchor="start" textLength="340.03" lengthAdjust="spacingAndGlyphs" fill="#000" >max. P must fall within this span</text>
<text x="302.50" y="300.90" font-size="22.12" text-anchor="start" textLength="337.45" lengthAdjust="spacingAndGlyphs" fill="#000" >pulse region fit with cubic spline</text>
<text x="302.50" y="331.30" font-size="22.12" text-anchor="start" textLength="171.66" lengthAdjust="spacingAndGlyphs" fill="#000" >pulses identified</text>
<text x="302.50" y="361.70" font-size="22.12" text-anchor="start" textLength="232.30" lengthAdjust="spacingAndGlyphs" fill="#000" >intersection w/ P,L,T,R</text>
<text x="302.50" y="384.30" font-size="22.12" text-anchor="start" textLength="158.23" lengthAdjust="spacingAndGlyphs" fill="#000" >loosely defined</text>
</svg></body></html>
